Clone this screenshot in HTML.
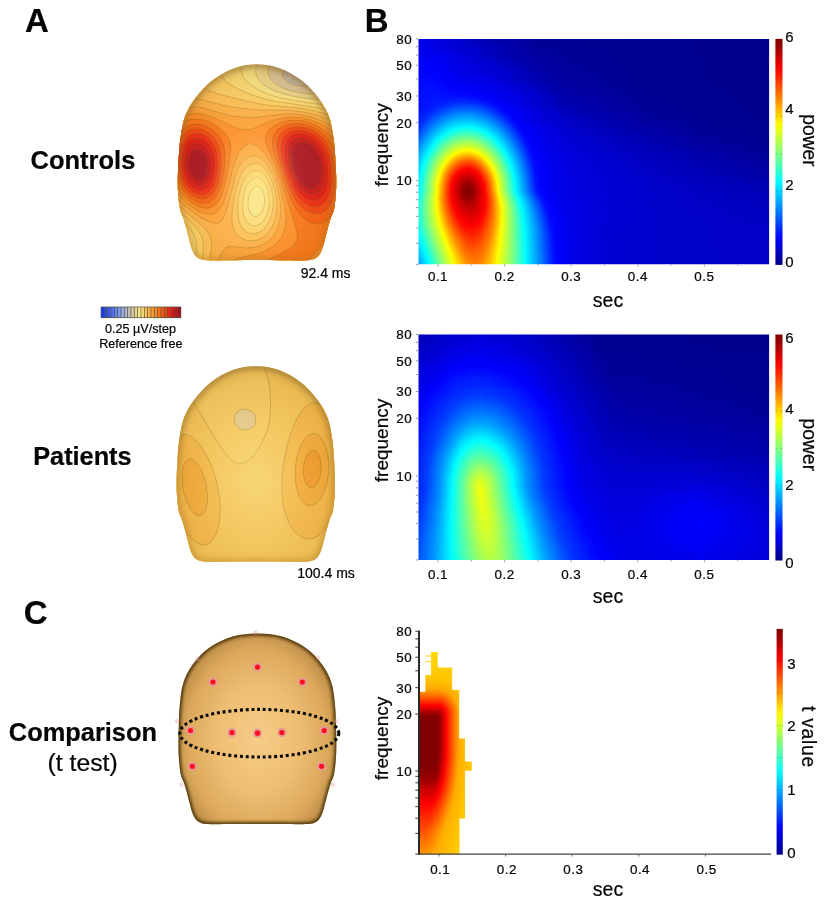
<!DOCTYPE html>
<html><head><meta charset="utf-8"><title>Figure</title>
<style>html,body{margin:0;padding:0;background:#fff}svg{display:block}text{font-family:"Liberation Sans", Arial, sans-serif;fill:#050505;stroke:#050505;stroke-width:0.22px}</style>
</head><body>
<svg width="827" height="906" viewBox="0 0 827 906">
<defs>
<filter id="jet" x="0" y="0" width="100%" height="100%" filterUnits="objectBoundingBox" color-interpolation-filters="sRGB"><feGaussianBlur stdDeviation="0 2.2"/><feComponentTransfer><feFuncR type="table" tableValues="0 0 0 0 0 0 0 0 0 0 0 0 0 0 0 0 0 0 0 0 0 0 0 0 0 0.0625 0.125 0.188 0.25 0.312 0.375 0.438 0.5 0.562 0.625 0.688 0.75 0.812 0.875 0.938 1 1 1 1 1 1 1 1 1 1 1 1 1 1 1 1 1 0.938 0.875 0.812 0.75 0.688 0.625 0.562 0.5"/><feFuncG type="table" tableValues="0 0 0 0 0 0 0 0 0 0.0625 0.125 0.188 0.25 0.312 0.375 0.438 0.5 0.562 0.625 0.688 0.75 0.812 0.875 0.938 1 1 1 1 1 1 1 1 1 1 1 1 1 1 1 1 1 0.938 0.875 0.812 0.75 0.688 0.625 0.562 0.5 0.438 0.375 0.312 0.25 0.188 0.125 0.0625 0 0 0 0 0 0 0 0 0"/><feFuncB type="table" tableValues="0.5 0.562 0.625 0.688 0.75 0.812 0.875 0.938 1 1 1 1 1 1 1 1 1 1 1 1 1 1 1 1 1 0.938 0.875 0.812 0.75 0.688 0.625 0.562 0.5 0.438 0.375 0.312 0.25 0.188 0.125 0.0625 0 0 0 0 0 0 0 0 0 0 0 0 0 0 0 0 0 0 0 0 0 0 0 0 0"/><feFuncA type="linear" slope="0" intercept="1"/></feComponentTransfer></filter>
<linearGradient id="cb" x1="0" y1="1" x2="0" y2="0"><stop offset="0.0000" stop-color="#000088"/><stop offset="0.0312" stop-color="#0000a8"/><stop offset="0.0625" stop-color="#0000c7"/><stop offset="0.0938" stop-color="#0000e7"/><stop offset="0.1250" stop-color="#0008ff"/><stop offset="0.1562" stop-color="#0028ff"/><stop offset="0.1875" stop-color="#0048ff"/><stop offset="0.2188" stop-color="#0068ff"/><stop offset="0.2500" stop-color="#0088ff"/><stop offset="0.2812" stop-color="#00a8ff"/><stop offset="0.3125" stop-color="#00c7ff"/><stop offset="0.3438" stop-color="#00e7ff"/><stop offset="0.3750" stop-color="#08fff7"/><stop offset="0.4062" stop-color="#28ffd7"/><stop offset="0.4375" stop-color="#48ffb7"/><stop offset="0.4688" stop-color="#68ff97"/><stop offset="0.5000" stop-color="#88ff77"/><stop offset="0.5312" stop-color="#a8ff57"/><stop offset="0.5625" stop-color="#c7ff38"/><stop offset="0.5938" stop-color="#e7ff18"/><stop offset="0.6250" stop-color="#fff700"/><stop offset="0.6562" stop-color="#ffd700"/><stop offset="0.6875" stop-color="#ffb700"/><stop offset="0.7188" stop-color="#ff9700"/><stop offset="0.7500" stop-color="#ff7700"/><stop offset="0.7812" stop-color="#ff5700"/><stop offset="0.8125" stop-color="#ff3800"/><stop offset="0.8438" stop-color="#ff1800"/><stop offset="0.8750" stop-color="#f70000"/><stop offset="0.9062" stop-color="#d70000"/><stop offset="0.9375" stop-color="#b70000"/><stop offset="0.9688" stop-color="#970000"/><stop offset="1.0000" stop-color="#800000"/></linearGradient>
<filter id="b3" x="-10%" y="-10%" width="120%" height="120%"><feGaussianBlur stdDeviation="2.5"/></filter>
<filter id="b2" x="-10%" y="-10%" width="120%" height="120%"><feGaussianBlur stdDeviation="1.8"/></filter>
<filter id="b1" x="-20%" y="-20%" width="140%" height="140%"><feGaussianBlur stdDeviation="0.7"/></filter>
<radialGradient id="shade1" gradientUnits="userSpaceOnUse" cx="257.0" cy="179.6" r="125" gradientTransform="translate(257.0 179.6) scale(0.80 1) translate(-257.0 -179.6)"><stop offset="0" stop-color="#fff3a0" stop-opacity="0.40"/><stop offset="0.45" stop-color="#ffe9a0" stop-opacity="0.10"/><stop offset="0.8" stop-color="#b07820" stop-opacity="0.12"/><stop offset="1" stop-color="#8a5a10" stop-opacity="0.38"/></radialGradient>
<linearGradient id="rim1" x1="0" y1="0" x2="0" y2="1"><stop offset="0" stop-color="#8a6a30" stop-opacity="0.55"/><stop offset="1" stop-color="#b07820" stop-opacity="0.35"/></linearGradient>
<radialGradient id="shade2" gradientUnits="userSpaceOnUse" cx="255.8" cy="481.2" r="125" gradientTransform="translate(255.8 481.2) scale(0.80 1) translate(-255.8 -481.2)"><stop offset="0" stop-color="#fff3a0" stop-opacity="0.40"/><stop offset="0.45" stop-color="#ffe9a0" stop-opacity="0.10"/><stop offset="0.8" stop-color="#b07820" stop-opacity="0.12"/><stop offset="1" stop-color="#8a5a10" stop-opacity="0.38"/></radialGradient>
<linearGradient id="rim2" x1="0" y1="0" x2="0" y2="1"><stop offset="0" stop-color="#8a6a30" stop-opacity="0.55"/><stop offset="1" stop-color="#b07820" stop-opacity="0.35"/></linearGradient>
<clipPath id="hd1"><path d="M257.0 64.6C264.5 64.6 271.9 65.5 279.4 68.2C286.9 70.9 295.3 75.6 301.8 80.6C308.3 85.6 314.0 92.1 318.5 98.1C323.0 104.1 326.5 109.9 329.0 116.6C331.5 123.3 332.4 131.1 333.5 138.1C334.6 145.1 334.9 151.8 335.3 158.6C335.8 165.3 336.1 172.6 336.2 178.6C336.3 184.6 336.2 189.4 335.8 194.6C335.4 199.8 334.8 205.8 334.0 209.6C333.2 213.4 332.0 214.6 331.0 217.6C330.0 220.6 328.9 224.3 328.0 227.6C327.1 230.9 326.4 233.9 325.4 237.6C324.4 241.3 323.4 246.3 322.0 249.6C320.6 252.9 319.5 255.4 317.0 257.2C314.5 259.0 312.8 259.7 307.0 260.2C301.2 260.7 290.3 260.2 282.0 260.2C273.7 260.2 265.3 260.0 257.0 260.0C248.7 260.0 240.3 260.2 232.0 260.2C223.7 260.2 212.8 260.7 207.0 260.2C201.2 259.7 199.5 259.0 197.0 257.2C194.5 255.4 193.4 252.9 192.0 249.6C190.6 246.3 189.6 241.3 188.6 237.6C187.6 233.9 186.9 230.9 186.0 227.6C185.1 224.3 184.0 220.6 183.0 217.6C182.0 214.6 180.8 213.4 180.0 209.6C179.2 205.8 178.6 199.8 178.2 194.6C177.8 189.4 177.7 184.6 177.8 178.6C177.9 172.6 178.2 165.3 178.7 158.6C179.1 151.8 179.4 145.1 180.5 138.1C181.6 131.1 182.5 123.3 185.0 116.6C187.5 109.9 191.0 104.1 195.5 98.1C200.0 92.1 205.7 85.6 212.2 80.6C218.7 75.6 227.1 70.9 234.6 68.2C242.1 65.5 249.5 64.6 257.0 64.6Z"/></clipPath>
<clipPath id="hd2"><path d="M255.8 366.2C263.3 366.2 270.7 367.1 278.2 369.8C285.7 372.5 294.1 377.2 300.6 382.2C307.1 387.2 312.8 393.7 317.3 399.7C321.8 405.7 325.3 411.5 327.8 418.2C330.3 424.9 331.2 432.7 332.3 439.7C333.4 446.7 333.7 453.4 334.1 460.2C334.6 466.9 334.9 474.2 335.0 480.2C335.1 486.2 335.0 491.0 334.6 496.2C334.2 501.4 333.6 507.4 332.8 511.2C332.0 515.0 330.8 516.2 329.8 519.2C328.8 522.2 327.7 525.9 326.8 529.2C325.9 532.5 325.2 535.5 324.2 539.2C323.2 542.9 322.2 547.9 320.8 551.2C319.4 554.5 318.3 557.0 315.8 558.8C313.3 560.6 311.6 561.3 305.8 561.8C300.0 562.3 289.1 561.8 280.8 561.8C272.5 561.8 264.1 561.6 255.8 561.6C247.5 561.6 239.1 561.8 230.8 561.8C222.5 561.8 211.6 562.3 205.8 561.8C200.0 561.3 198.3 560.6 195.8 558.8C193.3 557.0 192.2 554.5 190.8 551.2C189.4 547.9 188.4 542.9 187.4 539.2C186.4 535.5 185.7 532.5 184.8 529.2C183.9 525.9 182.8 522.2 181.8 519.2C180.8 516.2 179.6 515.0 178.8 511.2C178.0 507.4 177.4 501.4 177.0 496.2C176.6 491.0 176.5 486.2 176.6 480.2C176.7 474.2 177.1 466.9 177.5 460.2C177.9 453.4 178.2 446.7 179.3 439.7C180.4 432.7 181.3 424.9 183.8 418.2C186.3 411.5 189.8 405.7 194.3 399.7C198.8 393.7 204.5 387.2 211.0 382.2C217.5 377.2 225.9 372.5 233.4 369.8C240.9 367.1 248.3 366.2 255.8 366.2Z"/></clipPath>
<radialGradient id="shade3" gradientUnits="userSpaceOnUse" cx="257.4" cy="739.4" r="120" gradientTransform="translate(257.4 739.4) scale(0.78 1) translate(-257.4 -739.4)"><stop offset="0" stop-color="#f7cd88"/><stop offset="0.45" stop-color="#eebd72"/><stop offset="0.75" stop-color="#dca95c"/><stop offset="0.92" stop-color="#bd8c46"/><stop offset="1" stop-color="#8e662c"/></radialGradient>
<clipPath id="hd3"><path d="M257.4 633.4C265.4 633.4 273.3 634.0 281.3 636.3C289.2 638.7 298.4 642.8 305.2 647.5C312.0 652.2 317.7 658.7 322.1 664.6C326.5 670.5 329.4 676.4 331.5 683.1C333.7 689.9 334.3 698.1 335.0 705.1C335.8 712.0 335.8 718.5 336.0 725.0C336.2 731.6 336.4 738.7 336.4 744.5C336.4 750.4 336.2 755.1 335.8 760.1C335.4 765.2 334.8 771.0 334.0 774.8C333.2 778.5 332.0 779.6 331.0 782.6C330.0 785.5 329.0 789.1 328.0 792.3C327.1 795.6 326.5 798.5 325.5 802.1C324.5 805.6 323.5 810.6 322.1 813.8C320.7 817.0 319.6 819.5 317.1 821.2C314.6 822.9 313.0 823.6 307.1 824.1C301.3 824.6 290.6 824.1 282.3 824.1C274.0 824.1 265.7 823.9 257.4 823.9C249.1 823.9 240.8 824.1 232.5 824.1C224.2 824.1 213.5 824.6 207.6 824.1C201.8 823.6 200.2 822.9 197.7 821.2C195.2 819.5 194.1 817.0 192.7 813.8C191.3 810.6 190.3 805.6 189.3 802.1C188.3 798.5 187.7 795.6 186.8 792.3C185.8 789.1 184.8 785.5 183.8 782.6C182.8 779.6 181.6 778.5 180.8 774.8C180.0 771.0 179.4 765.2 179.0 760.1C178.6 755.1 178.4 750.4 178.4 744.5C178.4 738.7 178.6 731.6 178.8 725.0C179.0 718.5 179.0 712.0 179.8 705.1C180.5 698.1 181.1 689.9 183.3 683.1C185.4 676.4 188.3 670.5 192.7 664.6C197.1 658.7 202.8 652.2 209.6 647.5C216.4 642.8 225.6 638.7 233.5 636.3C241.5 634.0 249.4 633.4 257.4 633.4Z"/></clipPath>
<clipPath id="hc0"><rect x="418.5" y="38.9" width="350.6" height="225.4"/></clipPath>
<linearGradient id="h0_0" gradientUnits="userSpaceOnUse" x1="415.5" x2="769.5"><stop offset="0.000" stop-color="#181818"/><stop offset="0.059" stop-color="#171717"/><stop offset="0.203" stop-color="#0a0a0a"/><stop offset="0.314" stop-color="#060606"/><stop offset="0.568" stop-color="#040404"/><stop offset="1.000" stop-color="#040404"/></linearGradient>
<linearGradient id="h0_1" gradientUnits="userSpaceOnUse" x1="415.5" x2="769.5"><stop offset="0.000" stop-color="#191919"/><stop offset="0.059" stop-color="#181818"/><stop offset="0.220" stop-color="#0b0b0b"/><stop offset="0.331" stop-color="#060606"/><stop offset="0.585" stop-color="#040404"/><stop offset="1.000" stop-color="#040404"/></linearGradient>
<linearGradient id="h0_2" gradientUnits="userSpaceOnUse" x1="415.5" x2="769.5"><stop offset="0.000" stop-color="#1a1a1a"/><stop offset="0.059" stop-color="#191919"/><stop offset="0.237" stop-color="#0b0b0b"/><stop offset="0.347" stop-color="#060606"/><stop offset="0.593" stop-color="#050505"/><stop offset="1.000" stop-color="#040404"/></linearGradient>
<linearGradient id="h0_3" gradientUnits="userSpaceOnUse" x1="415.5" x2="769.5"><stop offset="0.000" stop-color="#1b1b1b"/><stop offset="0.025" stop-color="#1b1b1b"/><stop offset="0.059" stop-color="#1a1a1a"/><stop offset="0.263" stop-color="#0b0b0b"/><stop offset="0.364" stop-color="#060606"/><stop offset="0.602" stop-color="#050505"/><stop offset="1.000" stop-color="#040404"/></linearGradient>
<linearGradient id="h0_4" gradientUnits="userSpaceOnUse" x1="415.5" x2="769.5"><stop offset="0.000" stop-color="#1c1c1c"/><stop offset="0.025" stop-color="#1c1c1c"/><stop offset="0.059" stop-color="#1b1b1b"/><stop offset="0.280" stop-color="#0b0b0b"/><stop offset="0.373" stop-color="#070707"/><stop offset="0.610" stop-color="#050505"/><stop offset="1.000" stop-color="#040404"/></linearGradient>
<linearGradient id="h0_5" gradientUnits="userSpaceOnUse" x1="415.5" x2="769.5"><stop offset="0.000" stop-color="#1d1d1d"/><stop offset="0.025" stop-color="#1d1d1d"/><stop offset="0.059" stop-color="#1d1d1d"/><stop offset="0.305" stop-color="#0a0a0a"/><stop offset="0.390" stop-color="#070707"/><stop offset="0.619" stop-color="#050505"/><stop offset="1.000" stop-color="#040404"/></linearGradient>
<linearGradient id="h0_6" gradientUnits="userSpaceOnUse" x1="415.5" x2="769.5"><stop offset="0.000" stop-color="#1e1e1e"/><stop offset="0.025" stop-color="#1f1f1f"/><stop offset="0.059" stop-color="#1e1e1e"/><stop offset="0.229" stop-color="#121212"/><stop offset="0.322" stop-color="#0a0a0a"/><stop offset="0.407" stop-color="#070707"/><stop offset="0.636" stop-color="#050505"/><stop offset="1.000" stop-color="#040404"/></linearGradient>
<linearGradient id="h0_7" gradientUnits="userSpaceOnUse" x1="415.5" x2="769.5"><stop offset="0.000" stop-color="#1e1e1e"/><stop offset="0.025" stop-color="#202020"/><stop offset="0.059" stop-color="#1f1f1f"/><stop offset="0.127" stop-color="#191919"/><stop offset="0.237" stop-color="#131313"/><stop offset="0.339" stop-color="#0a0a0a"/><stop offset="0.415" stop-color="#070707"/><stop offset="0.644" stop-color="#050505"/><stop offset="1.000" stop-color="#040404"/></linearGradient>
<linearGradient id="h0_8" gradientUnits="userSpaceOnUse" x1="415.5" x2="769.5"><stop offset="0.000" stop-color="#1f1f1f"/><stop offset="0.025" stop-color="#202020"/><stop offset="0.059" stop-color="#202020"/><stop offset="0.127" stop-color="#1a1a1a"/><stop offset="0.246" stop-color="#141414"/><stop offset="0.356" stop-color="#0a0a0a"/><stop offset="0.424" stop-color="#070707"/><stop offset="0.644" stop-color="#050505"/><stop offset="1.000" stop-color="#040404"/></linearGradient>
<linearGradient id="h0_9" gradientUnits="userSpaceOnUse" x1="415.5" x2="769.5"><stop offset="0.000" stop-color="#202020"/><stop offset="0.025" stop-color="#212121"/><stop offset="0.051" stop-color="#212121"/><stop offset="0.127" stop-color="#1c1c1c"/><stop offset="0.220" stop-color="#171717"/><stop offset="0.364" stop-color="#0b0b0b"/><stop offset="0.424" stop-color="#080808"/><stop offset="0.644" stop-color="#050505"/><stop offset="1.000" stop-color="#040404"/></linearGradient>
<linearGradient id="h0_10" gradientUnits="userSpaceOnUse" x1="415.5" x2="769.5"><stop offset="0.000" stop-color="#212121"/><stop offset="0.025" stop-color="#222222"/><stop offset="0.051" stop-color="#222222"/><stop offset="0.127" stop-color="#1d1d1d"/><stop offset="0.229" stop-color="#181818"/><stop offset="0.373" stop-color="#0b0b0b"/><stop offset="0.432" stop-color="#080808"/><stop offset="0.653" stop-color="#050505"/><stop offset="1.000" stop-color="#040404"/></linearGradient>
<linearGradient id="h0_11" gradientUnits="userSpaceOnUse" x1="415.5" x2="769.5"><stop offset="0.000" stop-color="#212121"/><stop offset="0.025" stop-color="#232323"/><stop offset="0.051" stop-color="#232323"/><stop offset="0.229" stop-color="#1a1a1a"/><stop offset="0.280" stop-color="#161616"/><stop offset="0.390" stop-color="#0b0b0b"/><stop offset="0.441" stop-color="#080808"/><stop offset="0.653" stop-color="#050505"/><stop offset="1.000" stop-color="#040404"/></linearGradient>
<linearGradient id="h0_12" gradientUnits="userSpaceOnUse" x1="415.5" x2="769.5"><stop offset="0.000" stop-color="#222222"/><stop offset="0.042" stop-color="#242424"/><stop offset="0.186" stop-color="#1e1e1e"/><stop offset="0.280" stop-color="#181818"/><stop offset="0.407" stop-color="#0b0b0b"/><stop offset="0.458" stop-color="#090909"/><stop offset="0.669" stop-color="#050505"/><stop offset="1.000" stop-color="#040404"/></linearGradient>
<linearGradient id="h0_13" gradientUnits="userSpaceOnUse" x1="415.5" x2="769.5"><stop offset="0.000" stop-color="#222222"/><stop offset="0.051" stop-color="#252525"/><stop offset="0.178" stop-color="#212121"/><stop offset="0.297" stop-color="#181818"/><stop offset="0.424" stop-color="#0b0b0b"/><stop offset="0.483" stop-color="#090909"/><stop offset="0.678" stop-color="#050505"/><stop offset="1.000" stop-color="#040404"/></linearGradient>
<linearGradient id="h0_14" gradientUnits="userSpaceOnUse" x1="415.5" x2="769.5"><stop offset="0.000" stop-color="#232323"/><stop offset="0.034" stop-color="#252525"/><stop offset="0.085" stop-color="#262626"/><stop offset="0.119" stop-color="#292929"/><stop offset="0.144" stop-color="#292929"/><stop offset="0.169" stop-color="#272727"/><stop offset="0.203" stop-color="#222222"/><stop offset="0.415" stop-color="#0d0d0d"/><stop offset="0.449" stop-color="#0b0b0b"/><stop offset="0.661" stop-color="#060606"/><stop offset="1.000" stop-color="#040404"/></linearGradient>
<linearGradient id="h0_15" gradientUnits="userSpaceOnUse" x1="415.5" x2="769.5"><stop offset="0.000" stop-color="#232323"/><stop offset="0.059" stop-color="#272727"/><stop offset="0.110" stop-color="#313131"/><stop offset="0.144" stop-color="#333333"/><stop offset="0.178" stop-color="#303030"/><stop offset="0.229" stop-color="#222222"/><stop offset="0.288" stop-color="#1b1b1b"/><stop offset="0.432" stop-color="#0d0d0d"/><stop offset="0.542" stop-color="#090909"/><stop offset="0.661" stop-color="#060606"/><stop offset="1.000" stop-color="#040404"/></linearGradient>
<linearGradient id="h0_16" gradientUnits="userSpaceOnUse" x1="415.5" x2="769.5"><stop offset="0.000" stop-color="#242424"/><stop offset="0.042" stop-color="#282828"/><stop offset="0.085" stop-color="#353535"/><stop offset="0.110" stop-color="#3b3b3b"/><stop offset="0.136" stop-color="#3d3d3d"/><stop offset="0.153" stop-color="#3d3d3d"/><stop offset="0.169" stop-color="#3c3c3c"/><stop offset="0.195" stop-color="#363636"/><stop offset="0.212" stop-color="#303030"/><stop offset="0.246" stop-color="#222222"/><stop offset="0.297" stop-color="#1c1c1c"/><stop offset="0.424" stop-color="#0f0f0f"/><stop offset="0.542" stop-color="#0a0a0a"/><stop offset="0.661" stop-color="#060606"/><stop offset="1.000" stop-color="#040404"/></linearGradient>
<linearGradient id="h0_17" gradientUnits="userSpaceOnUse" x1="415.5" x2="769.5"><stop offset="0.000" stop-color="#252525"/><stop offset="0.025" stop-color="#282828"/><stop offset="0.076" stop-color="#3b3b3b"/><stop offset="0.102" stop-color="#434343"/><stop offset="0.127" stop-color="#474747"/><stop offset="0.153" stop-color="#484848"/><stop offset="0.178" stop-color="#444444"/><stop offset="0.203" stop-color="#3d3d3d"/><stop offset="0.229" stop-color="#323232"/><stop offset="0.263" stop-color="#222222"/><stop offset="0.305" stop-color="#1c1c1c"/><stop offset="0.424" stop-color="#111111"/><stop offset="0.551" stop-color="#0b0b0b"/><stop offset="0.669" stop-color="#070707"/><stop offset="0.805" stop-color="#050505"/><stop offset="1.000" stop-color="#040404"/></linearGradient>
<linearGradient id="h0_18" gradientUnits="userSpaceOnUse" x1="415.5" x2="769.5"><stop offset="0.000" stop-color="#252525"/><stop offset="0.017" stop-color="#292929"/><stop offset="0.068" stop-color="#414141"/><stop offset="0.093" stop-color="#4a4a4a"/><stop offset="0.110" stop-color="#4f4f4f"/><stop offset="0.127" stop-color="#525252"/><stop offset="0.153" stop-color="#525252"/><stop offset="0.178" stop-color="#4f4f4f"/><stop offset="0.203" stop-color="#474747"/><stop offset="0.229" stop-color="#3c3c3c"/><stop offset="0.271" stop-color="#242424"/><stop offset="0.280" stop-color="#222222"/><stop offset="0.314" stop-color="#1c1c1c"/><stop offset="0.364" stop-color="#171717"/><stop offset="0.441" stop-color="#111111"/><stop offset="0.644" stop-color="#080808"/><stop offset="0.788" stop-color="#060606"/><stop offset="1.000" stop-color="#040404"/></linearGradient>
<linearGradient id="h0_19" gradientUnits="userSpaceOnUse" x1="415.5" x2="769.5"><stop offset="0.000" stop-color="#262626"/><stop offset="0.008" stop-color="#2a2a2a"/><stop offset="0.059" stop-color="#464646"/><stop offset="0.093" stop-color="#545454"/><stop offset="0.110" stop-color="#595959"/><stop offset="0.127" stop-color="#5c5c5c"/><stop offset="0.153" stop-color="#5d5d5d"/><stop offset="0.178" stop-color="#595959"/><stop offset="0.195" stop-color="#545454"/><stop offset="0.212" stop-color="#4d4d4d"/><stop offset="0.237" stop-color="#404040"/><stop offset="0.280" stop-color="#262626"/><stop offset="0.288" stop-color="#222222"/><stop offset="0.331" stop-color="#1c1c1c"/><stop offset="0.432" stop-color="#131313"/><stop offset="0.636" stop-color="#0a0a0a"/><stop offset="0.788" stop-color="#060606"/><stop offset="1.000" stop-color="#040404"/></linearGradient>
<linearGradient id="h0_20" gradientUnits="userSpaceOnUse" x1="415.5" x2="769.5"><stop offset="0.000" stop-color="#2a2a2a"/><stop offset="0.051" stop-color="#4a4a4a"/><stop offset="0.085" stop-color="#5b5b5b"/><stop offset="0.119" stop-color="#676767"/><stop offset="0.136" stop-color="#6a6a6a"/><stop offset="0.153" stop-color="#6a6a6a"/><stop offset="0.178" stop-color="#656565"/><stop offset="0.212" stop-color="#575757"/><stop offset="0.237" stop-color="#494949"/><stop offset="0.288" stop-color="#272727"/><stop offset="0.297" stop-color="#222222"/><stop offset="0.331" stop-color="#1d1d1d"/><stop offset="0.432" stop-color="#141414"/><stop offset="0.653" stop-color="#0a0a0a"/><stop offset="0.805" stop-color="#060606"/><stop offset="1.000" stop-color="#050505"/></linearGradient>
<linearGradient id="h0_21" gradientUnits="userSpaceOnUse" x1="415.5" x2="769.5"><stop offset="0.000" stop-color="#2f2f2f"/><stop offset="0.051" stop-color="#525252"/><stop offset="0.102" stop-color="#6e6e6e"/><stop offset="0.127" stop-color="#777777"/><stop offset="0.144" stop-color="#787878"/><stop offset="0.153" stop-color="#787878"/><stop offset="0.169" stop-color="#757575"/><stop offset="0.195" stop-color="#6b6b6b"/><stop offset="0.237" stop-color="#525252"/><stop offset="0.297" stop-color="#272727"/><stop offset="0.305" stop-color="#222222"/><stop offset="0.339" stop-color="#1d1d1d"/><stop offset="0.432" stop-color="#151515"/><stop offset="0.678" stop-color="#0b0b0b"/><stop offset="0.822" stop-color="#070707"/><stop offset="1.000" stop-color="#050505"/></linearGradient>
<linearGradient id="h0_22" gradientUnits="userSpaceOnUse" x1="415.5" x2="769.5"><stop offset="0.000" stop-color="#353535"/><stop offset="0.076" stop-color="#6b6b6b"/><stop offset="0.102" stop-color="#7b7b7b"/><stop offset="0.127" stop-color="#848484"/><stop offset="0.144" stop-color="#868686"/><stop offset="0.153" stop-color="#868686"/><stop offset="0.161" stop-color="#858585"/><stop offset="0.178" stop-color="#808080"/><stop offset="0.203" stop-color="#727272"/><stop offset="0.254" stop-color="#4e4e4e"/><stop offset="0.305" stop-color="#272727"/><stop offset="0.314" stop-color="#222222"/><stop offset="0.339" stop-color="#1e1e1e"/><stop offset="0.381" stop-color="#191919"/><stop offset="0.432" stop-color="#161616"/><stop offset="0.678" stop-color="#0c0c0c"/><stop offset="0.831" stop-color="#070707"/><stop offset="1.000" stop-color="#050505"/></linearGradient>
<linearGradient id="h0_23" gradientUnits="userSpaceOnUse" x1="415.5" x2="769.5"><stop offset="0.000" stop-color="#3a3a3a"/><stop offset="0.051" stop-color="#616161"/><stop offset="0.076" stop-color="#777777"/><stop offset="0.093" stop-color="#828282"/><stop offset="0.110" stop-color="#8c8c8c"/><stop offset="0.127" stop-color="#929292"/><stop offset="0.144" stop-color="#949494"/><stop offset="0.153" stop-color="#949494"/><stop offset="0.161" stop-color="#929292"/><stop offset="0.178" stop-color="#8d8d8d"/><stop offset="0.203" stop-color="#7e7e7e"/><stop offset="0.314" stop-color="#252525"/><stop offset="0.322" stop-color="#222222"/><stop offset="0.347" stop-color="#1d1d1d"/><stop offset="0.398" stop-color="#191919"/><stop offset="0.483" stop-color="#141414"/><stop offset="0.797" stop-color="#090909"/><stop offset="1.000" stop-color="#050505"/></linearGradient>
<linearGradient id="h0_24" gradientUnits="userSpaceOnUse" x1="415.5" x2="769.5"><stop offset="0.000" stop-color="#3f3f3f"/><stop offset="0.042" stop-color="#626262"/><stop offset="0.076" stop-color="#818181"/><stop offset="0.093" stop-color="#8e8e8e"/><stop offset="0.110" stop-color="#989898"/><stop offset="0.127" stop-color="#9f9f9f"/><stop offset="0.144" stop-color="#a3a3a3"/><stop offset="0.153" stop-color="#a2a2a2"/><stop offset="0.178" stop-color="#9a9a9a"/><stop offset="0.195" stop-color="#909090"/><stop offset="0.220" stop-color="#7c7c7c"/><stop offset="0.254" stop-color="#5c5c5c"/><stop offset="0.314" stop-color="#2a2a2a"/><stop offset="0.322" stop-color="#232323"/><stop offset="0.339" stop-color="#202020"/><stop offset="0.356" stop-color="#1d1d1d"/><stop offset="0.390" stop-color="#1a1a1a"/><stop offset="0.458" stop-color="#161616"/><stop offset="0.822" stop-color="#0a0a0a"/><stop offset="1.000" stop-color="#060606"/></linearGradient>
<linearGradient id="h0_25" gradientUnits="userSpaceOnUse" x1="415.5" x2="769.5"><stop offset="0.000" stop-color="#444444"/><stop offset="0.034" stop-color="#616161"/><stop offset="0.059" stop-color="#7b7b7b"/><stop offset="0.076" stop-color="#8b8b8b"/><stop offset="0.110" stop-color="#a7a7a7"/><stop offset="0.127" stop-color="#b2b2b2"/><stop offset="0.136" stop-color="#b5b5b5"/><stop offset="0.144" stop-color="#b7b7b7"/><stop offset="0.153" stop-color="#b6b6b6"/><stop offset="0.161" stop-color="#b4b4b4"/><stop offset="0.169" stop-color="#b0b0b0"/><stop offset="0.178" stop-color="#aaaaaa"/><stop offset="0.203" stop-color="#969696"/><stop offset="0.229" stop-color="#7e7e7e"/><stop offset="0.263" stop-color="#5b5b5b"/><stop offset="0.314" stop-color="#2e2e2e"/><stop offset="0.322" stop-color="#272727"/><stop offset="0.331" stop-color="#222222"/><stop offset="0.373" stop-color="#1c1c1c"/><stop offset="0.449" stop-color="#171717"/><stop offset="0.856" stop-color="#0a0a0a"/><stop offset="1.000" stop-color="#060606"/></linearGradient>
<linearGradient id="h0_26" gradientUnits="userSpaceOnUse" x1="415.5" x2="769.5"><stop offset="0.000" stop-color="#484848"/><stop offset="0.025" stop-color="#5f5f5f"/><stop offset="0.059" stop-color="#848484"/><stop offset="0.085" stop-color="#9d9d9d"/><stop offset="0.110" stop-color="#b8b8b8"/><stop offset="0.119" stop-color="#bfbfbf"/><stop offset="0.127" stop-color="#c4c4c4"/><stop offset="0.136" stop-color="#c7c7c7"/><stop offset="0.144" stop-color="#c8c8c8"/><stop offset="0.153" stop-color="#c8c8c8"/><stop offset="0.161" stop-color="#c6c6c6"/><stop offset="0.169" stop-color="#c2c2c2"/><stop offset="0.178" stop-color="#bcbcbc"/><stop offset="0.186" stop-color="#b4b4b4"/><stop offset="0.203" stop-color="#a1a1a1"/><stop offset="0.229" stop-color="#878787"/><stop offset="0.263" stop-color="#616161"/><stop offset="0.322" stop-color="#2b2b2b"/><stop offset="0.331" stop-color="#242424"/><stop offset="0.339" stop-color="#222222"/><stop offset="0.364" stop-color="#1d1d1d"/><stop offset="0.381" stop-color="#1b1b1b"/><stop offset="0.449" stop-color="#171717"/><stop offset="1.000" stop-color="#070707"/></linearGradient>
<linearGradient id="h0_27" gradientUnits="userSpaceOnUse" x1="415.5" x2="769.5"><stop offset="0.000" stop-color="#4b4b4b"/><stop offset="0.025" stop-color="#646464"/><stop offset="0.051" stop-color="#828282"/><stop offset="0.076" stop-color="#9d9d9d"/><stop offset="0.102" stop-color="#bfbfbf"/><stop offset="0.110" stop-color="#c7c7c7"/><stop offset="0.127" stop-color="#d3d3d3"/><stop offset="0.136" stop-color="#d7d7d7"/><stop offset="0.144" stop-color="#d8d8d8"/><stop offset="0.153" stop-color="#d8d8d8"/><stop offset="0.161" stop-color="#d6d6d6"/><stop offset="0.169" stop-color="#d1d1d1"/><stop offset="0.186" stop-color="#c4c4c4"/><stop offset="0.195" stop-color="#bababa"/><stop offset="0.212" stop-color="#a3a3a3"/><stop offset="0.271" stop-color="#5e5e5e"/><stop offset="0.322" stop-color="#2e2e2e"/><stop offset="0.331" stop-color="#272727"/><stop offset="0.339" stop-color="#222222"/><stop offset="0.373" stop-color="#1d1d1d"/><stop offset="0.449" stop-color="#171717"/><stop offset="1.000" stop-color="#080808"/></linearGradient>
<linearGradient id="h0_28" gradientUnits="userSpaceOnUse" x1="415.5" x2="769.5"><stop offset="0.000" stop-color="#4e4e4e"/><stop offset="0.017" stop-color="#5f5f5f"/><stop offset="0.068" stop-color="#9b9b9b"/><stop offset="0.093" stop-color="#c1c1c1"/><stop offset="0.110" stop-color="#d3d3d3"/><stop offset="0.119" stop-color="#dbdbdb"/><stop offset="0.127" stop-color="#e0e0e0"/><stop offset="0.144" stop-color="#e3e3e3"/><stop offset="0.153" stop-color="#e3e3e3"/><stop offset="0.169" stop-color="#dfdfdf"/><stop offset="0.178" stop-color="#d9d9d9"/><stop offset="0.186" stop-color="#d0d0d0"/><stop offset="0.203" stop-color="#bcbcbc"/><stop offset="0.220" stop-color="#a1a1a1"/><stop offset="0.271" stop-color="#636363"/><stop offset="0.322" stop-color="#313131"/><stop offset="0.339" stop-color="#232323"/><stop offset="0.381" stop-color="#1c1c1c"/><stop offset="0.458" stop-color="#171717"/><stop offset="1.000" stop-color="#090909"/></linearGradient>
<linearGradient id="h0_29" gradientUnits="userSpaceOnUse" x1="415.5" x2="769.5"><stop offset="0.000" stop-color="#515151"/><stop offset="0.017" stop-color="#616161"/><stop offset="0.068" stop-color="#a1a1a1"/><stop offset="0.085" stop-color="#bebebe"/><stop offset="0.102" stop-color="#d4d4d4"/><stop offset="0.110" stop-color="#dedede"/><stop offset="0.127" stop-color="#e7e7e7"/><stop offset="0.136" stop-color="#eaeaea"/><stop offset="0.144" stop-color="#ebebeb"/><stop offset="0.153" stop-color="#ebebeb"/><stop offset="0.169" stop-color="#e6e6e6"/><stop offset="0.178" stop-color="#e2e2e2"/><stop offset="0.186" stop-color="#dcdcdc"/><stop offset="0.203" stop-color="#c6c6c6"/><stop offset="0.212" stop-color="#b9b9b9"/><stop offset="0.229" stop-color="#9d9d9d"/><stop offset="0.280" stop-color="#5d5d5d"/><stop offset="0.331" stop-color="#2b2b2b"/><stop offset="0.339" stop-color="#242424"/><stop offset="0.347" stop-color="#222222"/><stop offset="0.373" stop-color="#1d1d1d"/><stop offset="0.390" stop-color="#1b1b1b"/><stop offset="0.466" stop-color="#171717"/><stop offset="1.000" stop-color="#0a0a0a"/></linearGradient>
<linearGradient id="h0_30" gradientUnits="userSpaceOnUse" x1="415.5" x2="769.5"><stop offset="0.000" stop-color="#525252"/><stop offset="0.017" stop-color="#646464"/><stop offset="0.059" stop-color="#9a9a9a"/><stop offset="0.068" stop-color="#a7a7a7"/><stop offset="0.085" stop-color="#c4c4c4"/><stop offset="0.102" stop-color="#dcdcdc"/><stop offset="0.110" stop-color="#e3e3e3"/><stop offset="0.136" stop-color="#f2f2f2"/><stop offset="0.144" stop-color="#f5f5f5"/><stop offset="0.153" stop-color="#f5f5f5"/><stop offset="0.161" stop-color="#f1f1f1"/><stop offset="0.178" stop-color="#e7e7e7"/><stop offset="0.186" stop-color="#e1e1e1"/><stop offset="0.195" stop-color="#d9d9d9"/><stop offset="0.212" stop-color="#c0c0c0"/><stop offset="0.229" stop-color="#a2a2a2"/><stop offset="0.280" stop-color="#5f5f5f"/><stop offset="0.331" stop-color="#2d2d2d"/><stop offset="0.339" stop-color="#252525"/><stop offset="0.347" stop-color="#222222"/><stop offset="0.373" stop-color="#1d1d1d"/><stop offset="0.390" stop-color="#1c1c1c"/><stop offset="0.466" stop-color="#171717"/><stop offset="1.000" stop-color="#0c0c0c"/></linearGradient>
<linearGradient id="h0_31" gradientUnits="userSpaceOnUse" x1="415.5" x2="769.5"><stop offset="0.000" stop-color="#535353"/><stop offset="0.017" stop-color="#656565"/><stop offset="0.059" stop-color="#9c9c9c"/><stop offset="0.085" stop-color="#c7c7c7"/><stop offset="0.102" stop-color="#dfdfdf"/><stop offset="0.119" stop-color="#ececec"/><stop offset="0.136" stop-color="#fafafa"/><stop offset="0.144" stop-color="#fcfcfc"/><stop offset="0.153" stop-color="#fcfcfc"/><stop offset="0.161" stop-color="#f9f9f9"/><stop offset="0.178" stop-color="#ebebeb"/><stop offset="0.195" stop-color="#dedede"/><stop offset="0.212" stop-color="#c4c4c4"/><stop offset="0.229" stop-color="#a6a6a6"/><stop offset="0.237" stop-color="#999999"/><stop offset="0.280" stop-color="#616161"/><stop offset="0.331" stop-color="#2e2e2e"/><stop offset="0.339" stop-color="#262626"/><stop offset="0.347" stop-color="#222222"/><stop offset="0.373" stop-color="#1e1e1e"/><stop offset="0.398" stop-color="#1b1b1b"/><stop offset="0.475" stop-color="#171717"/><stop offset="1.000" stop-color="#0d0d0d"/></linearGradient>
<linearGradient id="h0_32" gradientUnits="userSpaceOnUse" x1="415.5" x2="769.5"><stop offset="0.000" stop-color="#535353"/><stop offset="0.017" stop-color="#666666"/><stop offset="0.059" stop-color="#9c9c9c"/><stop offset="0.076" stop-color="#bababa"/><stop offset="0.085" stop-color="#c8c8c8"/><stop offset="0.093" stop-color="#d5d5d5"/><stop offset="0.102" stop-color="#e0e0e0"/><stop offset="0.119" stop-color="#ededed"/><stop offset="0.136" stop-color="#fcfcfc"/><stop offset="0.144" stop-color="#fefefe"/><stop offset="0.153" stop-color="#fefefe"/><stop offset="0.161" stop-color="#fcfcfc"/><stop offset="0.178" stop-color="#ececec"/><stop offset="0.195" stop-color="#dfdfdf"/><stop offset="0.212" stop-color="#c6c6c6"/><stop offset="0.229" stop-color="#a8a8a8"/><stop offset="0.237" stop-color="#9a9a9a"/><stop offset="0.280" stop-color="#626262"/><stop offset="0.331" stop-color="#2f2f2f"/><stop offset="0.339" stop-color="#282828"/><stop offset="0.347" stop-color="#232323"/><stop offset="0.373" stop-color="#1e1e1e"/><stop offset="0.390" stop-color="#1c1c1c"/><stop offset="0.475" stop-color="#171717"/><stop offset="0.619" stop-color="#141414"/><stop offset="1.000" stop-color="#0e0e0e"/></linearGradient>
<linearGradient id="h0_33" gradientUnits="userSpaceOnUse" x1="415.5" x2="769.5"><stop offset="0.000" stop-color="#585858"/><stop offset="0.008" stop-color="#606060"/><stop offset="0.059" stop-color="#9f9f9f"/><stop offset="0.076" stop-color="#bcbcbc"/><stop offset="0.093" stop-color="#d5d5d5"/><stop offset="0.102" stop-color="#dfdfdf"/><stop offset="0.119" stop-color="#ebebeb"/><stop offset="0.136" stop-color="#f9f9f9"/><stop offset="0.144" stop-color="#fcfcfc"/><stop offset="0.153" stop-color="#fcfcfc"/><stop offset="0.161" stop-color="#fbfbfb"/><stop offset="0.178" stop-color="#ededed"/><stop offset="0.195" stop-color="#e1e1e1"/><stop offset="0.203" stop-color="#d7d7d7"/><stop offset="0.220" stop-color="#bfbfbf"/><stop offset="0.237" stop-color="#a0a0a0"/><stop offset="0.288" stop-color="#606060"/><stop offset="0.339" stop-color="#303030"/><stop offset="0.347" stop-color="#282828"/><stop offset="0.356" stop-color="#232323"/><stop offset="0.381" stop-color="#1e1e1e"/><stop offset="0.407" stop-color="#1b1b1b"/><stop offset="0.492" stop-color="#171717"/><stop offset="0.636" stop-color="#141414"/><stop offset="1.000" stop-color="#0f0f0f"/></linearGradient>
<linearGradient id="h0_34" gradientUnits="userSpaceOnUse" x1="415.5" x2="769.5"><stop offset="0.000" stop-color="#5b5b5b"/><stop offset="0.008" stop-color="#636363"/><stop offset="0.059" stop-color="#9f9f9f"/><stop offset="0.076" stop-color="#bbbbbb"/><stop offset="0.102" stop-color="#dddddd"/><stop offset="0.136" stop-color="#f2f2f2"/><stop offset="0.144" stop-color="#f6f6f6"/><stop offset="0.153" stop-color="#f6f6f6"/><stop offset="0.161" stop-color="#f4f4f4"/><stop offset="0.195" stop-color="#e0e0e0"/><stop offset="0.203" stop-color="#d8d8d8"/><stop offset="0.220" stop-color="#c1c1c1"/><stop offset="0.237" stop-color="#a5a5a5"/><stop offset="0.246" stop-color="#999999"/><stop offset="0.288" stop-color="#666666"/><stop offset="0.297" stop-color="#5d5d5d"/><stop offset="0.339" stop-color="#363636"/><stop offset="0.356" stop-color="#272727"/><stop offset="0.364" stop-color="#232323"/><stop offset="0.390" stop-color="#1e1e1e"/><stop offset="0.415" stop-color="#1b1b1b"/><stop offset="0.508" stop-color="#161616"/><stop offset="0.661" stop-color="#131313"/><stop offset="1.000" stop-color="#101010"/></linearGradient>
<linearGradient id="h0_35" gradientUnits="userSpaceOnUse" x1="415.5" x2="769.5"><stop offset="0.000" stop-color="#5c5c5c"/><stop offset="0.008" stop-color="#656565"/><stop offset="0.059" stop-color="#9e9e9e"/><stop offset="0.085" stop-color="#c5c5c5"/><stop offset="0.102" stop-color="#d9d9d9"/><stop offset="0.110" stop-color="#e0e0e0"/><stop offset="0.127" stop-color="#e9e9e9"/><stop offset="0.144" stop-color="#efefef"/><stop offset="0.153" stop-color="#f0f0f0"/><stop offset="0.161" stop-color="#efefef"/><stop offset="0.169" stop-color="#ececec"/><stop offset="0.195" stop-color="#e0e0e0"/><stop offset="0.203" stop-color="#d7d7d7"/><stop offset="0.220" stop-color="#c2c2c2"/><stop offset="0.246" stop-color="#9c9c9c"/><stop offset="0.297" stop-color="#616161"/><stop offset="0.356" stop-color="#2c2c2c"/><stop offset="0.364" stop-color="#252525"/><stop offset="0.373" stop-color="#222222"/><stop offset="0.398" stop-color="#1d1d1d"/><stop offset="0.432" stop-color="#1a1a1a"/><stop offset="0.517" stop-color="#161616"/><stop offset="0.669" stop-color="#131313"/><stop offset="1.000" stop-color="#101010"/></linearGradient>
<linearGradient id="h0_36" gradientUnits="userSpaceOnUse" x1="415.5" x2="769.5"><stop offset="0.000" stop-color="#5d5d5d"/><stop offset="0.059" stop-color="#9d9d9d"/><stop offset="0.085" stop-color="#c1c1c1"/><stop offset="0.110" stop-color="#dddddd"/><stop offset="0.119" stop-color="#e2e2e2"/><stop offset="0.136" stop-color="#e8e8e8"/><stop offset="0.153" stop-color="#ebebeb"/><stop offset="0.161" stop-color="#eaeaea"/><stop offset="0.178" stop-color="#e6e6e6"/><stop offset="0.195" stop-color="#dedede"/><stop offset="0.220" stop-color="#c1c1c1"/><stop offset="0.246" stop-color="#9d9d9d"/><stop offset="0.297" stop-color="#646464"/><stop offset="0.305" stop-color="#5c5c5c"/><stop offset="0.347" stop-color="#373737"/><stop offset="0.373" stop-color="#232323"/><stop offset="0.407" stop-color="#1d1d1d"/><stop offset="0.432" stop-color="#1a1a1a"/><stop offset="0.525" stop-color="#161616"/><stop offset="0.686" stop-color="#131313"/><stop offset="1.000" stop-color="#111111"/></linearGradient>
<linearGradient id="h0_37" gradientUnits="userSpaceOnUse" x1="415.5" x2="769.5"><stop offset="0.000" stop-color="#5d5d5d"/><stop offset="0.059" stop-color="#9a9a9a"/><stop offset="0.068" stop-color="#a4a4a4"/><stop offset="0.085" stop-color="#bcbcbc"/><stop offset="0.093" stop-color="#c5c5c5"/><stop offset="0.119" stop-color="#dedede"/><stop offset="0.144" stop-color="#e5e5e5"/><stop offset="0.161" stop-color="#e6e6e6"/><stop offset="0.169" stop-color="#e5e5e5"/><stop offset="0.186" stop-color="#dfdfdf"/><stop offset="0.195" stop-color="#dadada"/><stop offset="0.220" stop-color="#c0c0c0"/><stop offset="0.246" stop-color="#9d9d9d"/><stop offset="0.305" stop-color="#5e5e5e"/><stop offset="0.364" stop-color="#2c2c2c"/><stop offset="0.373" stop-color="#262626"/><stop offset="0.381" stop-color="#222222"/><stop offset="0.415" stop-color="#1c1c1c"/><stop offset="0.441" stop-color="#1a1a1a"/><stop offset="0.534" stop-color="#161616"/><stop offset="0.695" stop-color="#131313"/><stop offset="1.000" stop-color="#111111"/></linearGradient>
<linearGradient id="h0_38" gradientUnits="userSpaceOnUse" x1="415.5" x2="769.5"><stop offset="0.000" stop-color="#5c5c5c"/><stop offset="0.068" stop-color="#a0a0a0"/><stop offset="0.093" stop-color="#c1c1c1"/><stop offset="0.110" stop-color="#d1d1d1"/><stop offset="0.127" stop-color="#dedede"/><stop offset="0.144" stop-color="#e2e2e2"/><stop offset="0.161" stop-color="#e3e3e3"/><stop offset="0.178" stop-color="#e0e0e0"/><stop offset="0.186" stop-color="#dddddd"/><stop offset="0.203" stop-color="#cfcfcf"/><stop offset="0.220" stop-color="#bebebe"/><stop offset="0.246" stop-color="#9d9d9d"/><stop offset="0.305" stop-color="#5f5f5f"/><stop offset="0.364" stop-color="#2f2f2f"/><stop offset="0.381" stop-color="#232323"/><stop offset="0.415" stop-color="#1d1d1d"/><stop offset="0.441" stop-color="#1a1a1a"/><stop offset="0.534" stop-color="#161616"/><stop offset="0.703" stop-color="#131313"/><stop offset="1.000" stop-color="#111111"/></linearGradient>
<linearGradient id="h0_39" gradientUnits="userSpaceOnUse" x1="415.5" x2="769.5"><stop offset="0.000" stop-color="#5b5b5b"/><stop offset="0.008" stop-color="#636363"/><stop offset="0.068" stop-color="#9d9d9d"/><stop offset="0.093" stop-color="#bbbbbb"/><stop offset="0.110" stop-color="#cbcbcb"/><stop offset="0.127" stop-color="#d7d7d7"/><stop offset="0.136" stop-color="#dcdcdc"/><stop offset="0.144" stop-color="#dfdfdf"/><stop offset="0.161" stop-color="#dfdfdf"/><stop offset="0.178" stop-color="#dcdcdc"/><stop offset="0.186" stop-color="#d8d8d8"/><stop offset="0.203" stop-color="#cbcbcb"/><stop offset="0.220" stop-color="#bbbbbb"/><stop offset="0.246" stop-color="#9c9c9c"/><stop offset="0.305" stop-color="#616161"/><stop offset="0.373" stop-color="#2a2a2a"/><stop offset="0.381" stop-color="#242424"/><stop offset="0.390" stop-color="#222222"/><stop offset="0.424" stop-color="#1c1c1c"/><stop offset="0.449" stop-color="#1a1a1a"/><stop offset="0.542" stop-color="#151515"/><stop offset="0.712" stop-color="#131313"/><stop offset="1.000" stop-color="#121212"/></linearGradient>
<linearGradient id="h0_40" gradientUnits="userSpaceOnUse" x1="415.5" x2="769.5"><stop offset="0.000" stop-color="#585858"/><stop offset="0.008" stop-color="#5f5f5f"/><stop offset="0.051" stop-color="#888888"/><stop offset="0.076" stop-color="#a0a0a0"/><stop offset="0.102" stop-color="#bdbdbd"/><stop offset="0.110" stop-color="#c5c5c5"/><stop offset="0.127" stop-color="#d1d1d1"/><stop offset="0.136" stop-color="#d5d5d5"/><stop offset="0.153" stop-color="#dadada"/><stop offset="0.161" stop-color="#dadada"/><stop offset="0.169" stop-color="#d9d9d9"/><stop offset="0.186" stop-color="#d3d3d3"/><stop offset="0.195" stop-color="#cdcdcd"/><stop offset="0.212" stop-color="#c1c1c1"/><stop offset="0.246" stop-color="#9b9b9b"/><stop offset="0.305" stop-color="#626262"/><stop offset="0.373" stop-color="#2c2c2c"/><stop offset="0.381" stop-color="#262626"/><stop offset="0.390" stop-color="#222222"/><stop offset="0.424" stop-color="#1c1c1c"/><stop offset="0.449" stop-color="#1a1a1a"/><stop offset="0.542" stop-color="#151515"/><stop offset="0.712" stop-color="#131313"/><stop offset="1.000" stop-color="#121212"/></linearGradient>
<linearGradient id="h0_41" gradientUnits="userSpaceOnUse" x1="415.5" x2="769.5"><stop offset="0.000" stop-color="#555555"/><stop offset="0.017" stop-color="#636363"/><stop offset="0.051" stop-color="#848484"/><stop offset="0.076" stop-color="#9b9b9b"/><stop offset="0.110" stop-color="#bfbfbf"/><stop offset="0.127" stop-color="#cbcbcb"/><stop offset="0.136" stop-color="#d0d0d0"/><stop offset="0.153" stop-color="#d5d5d5"/><stop offset="0.161" stop-color="#d5d5d5"/><stop offset="0.169" stop-color="#d4d4d4"/><stop offset="0.186" stop-color="#cfcfcf"/><stop offset="0.203" stop-color="#c4c4c4"/><stop offset="0.212" stop-color="#bebebe"/><stop offset="0.237" stop-color="#a2a2a2"/><stop offset="0.271" stop-color="#838383"/><stop offset="0.305" stop-color="#626262"/><stop offset="0.373" stop-color="#2d2d2d"/><stop offset="0.390" stop-color="#222222"/><stop offset="0.424" stop-color="#1c1c1c"/><stop offset="0.449" stop-color="#1a1a1a"/><stop offset="0.542" stop-color="#151515"/><stop offset="0.712" stop-color="#131313"/><stop offset="1.000" stop-color="#121212"/></linearGradient>
<linearGradient id="h0_42" gradientUnits="userSpaceOnUse" x1="415.5" x2="769.5"><stop offset="0.000" stop-color="#515151"/><stop offset="0.017" stop-color="#5f5f5f"/><stop offset="0.059" stop-color="#888888"/><stop offset="0.085" stop-color="#9e9e9e"/><stop offset="0.102" stop-color="#b1b1b1"/><stop offset="0.119" stop-color="#c0c0c0"/><stop offset="0.136" stop-color="#cacaca"/><stop offset="0.144" stop-color="#cecece"/><stop offset="0.161" stop-color="#d1d1d1"/><stop offset="0.178" stop-color="#cecece"/><stop offset="0.186" stop-color="#cbcbcb"/><stop offset="0.203" stop-color="#c2c2c2"/><stop offset="0.220" stop-color="#b3b3b3"/><stop offset="0.237" stop-color="#a1a1a1"/><stop offset="0.271" stop-color="#838383"/><stop offset="0.305" stop-color="#636363"/><stop offset="0.364" stop-color="#353535"/><stop offset="0.390" stop-color="#222222"/><stop offset="0.424" stop-color="#1d1d1d"/><stop offset="0.449" stop-color="#1a1a1a"/><stop offset="0.542" stop-color="#151515"/><stop offset="0.712" stop-color="#131313"/><stop offset="1.000" stop-color="#121212"/></linearGradient>
<linearGradient id="h0_43" gradientUnits="userSpaceOnUse" x1="415.5" x2="769.5"><stop offset="0.000" stop-color="#4e4e4e"/><stop offset="0.025" stop-color="#626262"/><stop offset="0.059" stop-color="#838383"/><stop offset="0.093" stop-color="#a1a1a1"/><stop offset="0.110" stop-color="#b3b3b3"/><stop offset="0.127" stop-color="#c1c1c1"/><stop offset="0.144" stop-color="#c9c9c9"/><stop offset="0.153" stop-color="#cbcbcb"/><stop offset="0.169" stop-color="#cbcbcb"/><stop offset="0.186" stop-color="#c7c7c7"/><stop offset="0.203" stop-color="#bebebe"/><stop offset="0.220" stop-color="#b0b0b0"/><stop offset="0.237" stop-color="#9f9f9f"/><stop offset="0.263" stop-color="#8a8a8a"/><stop offset="0.314" stop-color="#5c5c5c"/><stop offset="0.381" stop-color="#292929"/><stop offset="0.390" stop-color="#232323"/><stop offset="0.398" stop-color="#212121"/><stop offset="0.432" stop-color="#1c1c1c"/><stop offset="0.458" stop-color="#191919"/><stop offset="0.551" stop-color="#151515"/><stop offset="0.720" stop-color="#131313"/><stop offset="1.000" stop-color="#121212"/></linearGradient>
<linearGradient id="h0_44" gradientUnits="userSpaceOnUse" x1="415.5" x2="769.5"><stop offset="0.000" stop-color="#4a4a4a"/><stop offset="0.025" stop-color="#5e5e5e"/><stop offset="0.068" stop-color="#878787"/><stop offset="0.093" stop-color="#9c9c9c"/><stop offset="0.119" stop-color="#b5b5b5"/><stop offset="0.127" stop-color="#bbbbbb"/><stop offset="0.136" stop-color="#c1c1c1"/><stop offset="0.144" stop-color="#c4c4c4"/><stop offset="0.161" stop-color="#c8c8c8"/><stop offset="0.169" stop-color="#c7c7c7"/><stop offset="0.186" stop-color="#c4c4c4"/><stop offset="0.195" stop-color="#c0c0c0"/><stop offset="0.203" stop-color="#bbbbbb"/><stop offset="0.220" stop-color="#adadad"/><stop offset="0.237" stop-color="#9e9e9e"/><stop offset="0.271" stop-color="#828282"/><stop offset="0.314" stop-color="#5c5c5c"/><stop offset="0.381" stop-color="#2a2a2a"/><stop offset="0.390" stop-color="#242424"/><stop offset="0.398" stop-color="#212121"/><stop offset="0.432" stop-color="#1c1c1c"/><stop offset="0.458" stop-color="#191919"/><stop offset="0.551" stop-color="#151515"/><stop offset="0.720" stop-color="#131313"/><stop offset="1.000" stop-color="#121212"/></linearGradient>
<linearGradient id="h0_45" gradientUnits="userSpaceOnUse" x1="415.5" x2="769.5"><stop offset="0.000" stop-color="#464646"/><stop offset="0.034" stop-color="#616161"/><stop offset="0.068" stop-color="#828282"/><stop offset="0.102" stop-color="#9f9f9f"/><stop offset="0.119" stop-color="#afafaf"/><stop offset="0.127" stop-color="#b6b6b6"/><stop offset="0.144" stop-color="#c0c0c0"/><stop offset="0.161" stop-color="#c4c4c4"/><stop offset="0.169" stop-color="#c4c4c4"/><stop offset="0.186" stop-color="#c1c1c1"/><stop offset="0.195" stop-color="#bdbdbd"/><stop offset="0.212" stop-color="#b2b2b2"/><stop offset="0.237" stop-color="#9c9c9c"/><stop offset="0.271" stop-color="#828282"/><stop offset="0.314" stop-color="#5d5d5d"/><stop offset="0.381" stop-color="#2b2b2b"/><stop offset="0.390" stop-color="#252525"/><stop offset="0.398" stop-color="#212121"/><stop offset="0.432" stop-color="#1c1c1c"/><stop offset="0.458" stop-color="#191919"/><stop offset="0.551" stop-color="#151515"/><stop offset="0.720" stop-color="#131313"/><stop offset="1.000" stop-color="#121212"/></linearGradient>
<linearGradient id="h0_46" gradientUnits="userSpaceOnUse" x1="415.5" x2="769.5"><stop offset="0.000" stop-color="#424242"/><stop offset="0.034" stop-color="#5d5d5d"/><stop offset="0.076" stop-color="#868686"/><stop offset="0.127" stop-color="#b1b1b1"/><stop offset="0.144" stop-color="#bbbbbb"/><stop offset="0.153" stop-color="#bfbfbf"/><stop offset="0.169" stop-color="#c0c0c0"/><stop offset="0.186" stop-color="#bdbdbd"/><stop offset="0.195" stop-color="#b9b9b9"/><stop offset="0.212" stop-color="#afafaf"/><stop offset="0.229" stop-color="#a1a1a1"/><stop offset="0.263" stop-color="#888888"/><stop offset="0.314" stop-color="#5d5d5d"/><stop offset="0.381" stop-color="#2b2b2b"/><stop offset="0.390" stop-color="#252525"/><stop offset="0.398" stop-color="#212121"/><stop offset="0.432" stop-color="#1c1c1c"/><stop offset="0.458" stop-color="#191919"/><stop offset="0.551" stop-color="#151515"/><stop offset="0.720" stop-color="#131313"/><stop offset="1.000" stop-color="#121212"/></linearGradient>
<linearGradient id="h0_47" gradientUnits="userSpaceOnUse" x1="415.5" x2="769.5"><stop offset="0.000" stop-color="#3e3e3e"/><stop offset="0.042" stop-color="#616161"/><stop offset="0.085" stop-color="#898989"/><stop offset="0.127" stop-color="#acacac"/><stop offset="0.144" stop-color="#b7b7b7"/><stop offset="0.153" stop-color="#bababa"/><stop offset="0.169" stop-color="#bdbdbd"/><stop offset="0.186" stop-color="#bababa"/><stop offset="0.195" stop-color="#b6b6b6"/><stop offset="0.212" stop-color="#adadad"/><stop offset="0.229" stop-color="#9f9f9f"/><stop offset="0.263" stop-color="#878787"/><stop offset="0.314" stop-color="#5d5d5d"/><stop offset="0.381" stop-color="#2c2c2c"/><stop offset="0.390" stop-color="#262626"/><stop offset="0.398" stop-color="#222222"/><stop offset="0.432" stop-color="#1c1c1c"/><stop offset="0.458" stop-color="#191919"/><stop offset="0.551" stop-color="#151515"/><stop offset="0.720" stop-color="#131313"/><stop offset="1.000" stop-color="#121212"/></linearGradient>
<linearGradient id="h0_48" gradientUnits="userSpaceOnUse" x1="415.5" x2="769.5"><stop offset="0.000" stop-color="#3d3d3d"/><stop offset="0.042" stop-color="#5f5f5f"/><stop offset="0.068" stop-color="#777777"/><stop offset="0.093" stop-color="#8d8d8d"/><stop offset="0.127" stop-color="#a8a8a8"/><stop offset="0.144" stop-color="#b2b2b2"/><stop offset="0.153" stop-color="#b6b6b6"/><stop offset="0.169" stop-color="#b9b9b9"/><stop offset="0.186" stop-color="#b6b6b6"/><stop offset="0.195" stop-color="#b3b3b3"/><stop offset="0.212" stop-color="#aaaaaa"/><stop offset="0.263" stop-color="#878787"/><stop offset="0.314" stop-color="#5d5d5d"/><stop offset="0.381" stop-color="#2c2c2c"/><stop offset="0.398" stop-color="#222222"/><stop offset="0.432" stop-color="#1c1c1c"/><stop offset="0.458" stop-color="#191919"/><stop offset="0.551" stop-color="#151515"/><stop offset="0.720" stop-color="#131313"/><stop offset="1.000" stop-color="#121212"/></linearGradient>
<linearGradient id="h0_49" gradientUnits="userSpaceOnUse" x1="415.5" x2="769.5"><stop offset="0.000" stop-color="#3b3b3b"/><stop offset="0.042" stop-color="#5d5d5d"/><stop offset="0.085" stop-color="#848484"/><stop offset="0.110" stop-color="#979797"/><stop offset="0.144" stop-color="#aeaeae"/><stop offset="0.161" stop-color="#b4b4b4"/><stop offset="0.169" stop-color="#b5b5b5"/><stop offset="0.178" stop-color="#b4b4b4"/><stop offset="0.195" stop-color="#b0b0b0"/><stop offset="0.212" stop-color="#a7a7a7"/><stop offset="0.237" stop-color="#979797"/><stop offset="0.271" stop-color="#7f7f7f"/><stop offset="0.314" stop-color="#5d5d5d"/><stop offset="0.381" stop-color="#2d2d2d"/><stop offset="0.398" stop-color="#222222"/><stop offset="0.432" stop-color="#1c1c1c"/><stop offset="0.458" stop-color="#191919"/><stop offset="0.500" stop-color="#161616"/><stop offset="0.551" stop-color="#141414"/><stop offset="0.712" stop-color="#131313"/><stop offset="1.000" stop-color="#121212"/></linearGradient>
<clipPath id="hc1"><rect x="418.5" y="334.5" width="350.6" height="225.4"/></clipPath>
<linearGradient id="h1_0" gradientUnits="userSpaceOnUse" x1="415.5" x2="769.5"><stop offset="0.000" stop-color="#0c0c0c"/><stop offset="0.102" stop-color="#121212"/><stop offset="0.195" stop-color="#141414"/><stop offset="0.314" stop-color="#101010"/><stop offset="0.500" stop-color="#050505"/><stop offset="1.000" stop-color="#040404"/></linearGradient>
<linearGradient id="h1_1" gradientUnits="userSpaceOnUse" x1="415.5" x2="769.5"><stop offset="0.000" stop-color="#0d0d0d"/><stop offset="0.102" stop-color="#131313"/><stop offset="0.195" stop-color="#151515"/><stop offset="0.314" stop-color="#111111"/><stop offset="0.508" stop-color="#050505"/><stop offset="1.000" stop-color="#040404"/></linearGradient>
<linearGradient id="h1_2" gradientUnits="userSpaceOnUse" x1="415.5" x2="769.5"><stop offset="0.000" stop-color="#0e0e0e"/><stop offset="0.102" stop-color="#151515"/><stop offset="0.195" stop-color="#161616"/><stop offset="0.322" stop-color="#121212"/><stop offset="0.517" stop-color="#050505"/><stop offset="1.000" stop-color="#040404"/></linearGradient>
<linearGradient id="h1_3" gradientUnits="userSpaceOnUse" x1="415.5" x2="769.5"><stop offset="0.000" stop-color="#0f0f0f"/><stop offset="0.093" stop-color="#151515"/><stop offset="0.153" stop-color="#181818"/><stop offset="0.195" stop-color="#181818"/><stop offset="0.331" stop-color="#131313"/><stop offset="0.517" stop-color="#050505"/><stop offset="1.000" stop-color="#040404"/></linearGradient>
<linearGradient id="h1_4" gradientUnits="userSpaceOnUse" x1="415.5" x2="769.5"><stop offset="0.000" stop-color="#101010"/><stop offset="0.119" stop-color="#181818"/><stop offset="0.195" stop-color="#1a1a1a"/><stop offset="0.254" stop-color="#181818"/><stop offset="0.339" stop-color="#131313"/><stop offset="0.525" stop-color="#050505"/><stop offset="1.000" stop-color="#040404"/></linearGradient>
<linearGradient id="h1_5" gradientUnits="userSpaceOnUse" x1="415.5" x2="769.5"><stop offset="0.000" stop-color="#111111"/><stop offset="0.119" stop-color="#1a1a1a"/><stop offset="0.195" stop-color="#1b1b1b"/><stop offset="0.280" stop-color="#181818"/><stop offset="0.534" stop-color="#050505"/><stop offset="1.000" stop-color="#040404"/></linearGradient>
<linearGradient id="h1_6" gradientUnits="userSpaceOnUse" x1="415.5" x2="769.5"><stop offset="0.000" stop-color="#121212"/><stop offset="0.110" stop-color="#1b1b1b"/><stop offset="0.153" stop-color="#1d1d1d"/><stop offset="0.195" stop-color="#1d1d1d"/><stop offset="0.288" stop-color="#191919"/><stop offset="0.534" stop-color="#060606"/><stop offset="1.000" stop-color="#040404"/></linearGradient>
<linearGradient id="h1_7" gradientUnits="userSpaceOnUse" x1="415.5" x2="769.5"><stop offset="0.000" stop-color="#131313"/><stop offset="0.110" stop-color="#1d1d1d"/><stop offset="0.153" stop-color="#1f1f1f"/><stop offset="0.195" stop-color="#1f1f1f"/><stop offset="0.288" stop-color="#1b1b1b"/><stop offset="0.542" stop-color="#060606"/><stop offset="1.000" stop-color="#050505"/></linearGradient>
<linearGradient id="h1_8" gradientUnits="userSpaceOnUse" x1="415.5" x2="769.5"><stop offset="0.000" stop-color="#151515"/><stop offset="0.110" stop-color="#1f1f1f"/><stop offset="0.161" stop-color="#212121"/><stop offset="0.195" stop-color="#212121"/><stop offset="0.288" stop-color="#1d1d1d"/><stop offset="0.508" stop-color="#090909"/><stop offset="0.551" stop-color="#060606"/><stop offset="1.000" stop-color="#050505"/></linearGradient>
<linearGradient id="h1_9" gradientUnits="userSpaceOnUse" x1="415.5" x2="769.5"><stop offset="0.000" stop-color="#161616"/><stop offset="0.102" stop-color="#202020"/><stop offset="0.153" stop-color="#232323"/><stop offset="0.195" stop-color="#232323"/><stop offset="0.297" stop-color="#1d1d1d"/><stop offset="0.508" stop-color="#090909"/><stop offset="0.551" stop-color="#060606"/><stop offset="1.000" stop-color="#050505"/></linearGradient>
<linearGradient id="h1_10" gradientUnits="userSpaceOnUse" x1="415.5" x2="769.5"><stop offset="0.000" stop-color="#171717"/><stop offset="0.119" stop-color="#242424"/><stop offset="0.161" stop-color="#262626"/><stop offset="0.195" stop-color="#262626"/><stop offset="0.263" stop-color="#222222"/><stop offset="0.508" stop-color="#0a0a0a"/><stop offset="0.551" stop-color="#070707"/><stop offset="1.000" stop-color="#050505"/></linearGradient>
<linearGradient id="h1_11" gradientUnits="userSpaceOnUse" x1="415.5" x2="769.5"><stop offset="0.000" stop-color="#181818"/><stop offset="0.119" stop-color="#262626"/><stop offset="0.161" stop-color="#282828"/><stop offset="0.195" stop-color="#282828"/><stop offset="0.263" stop-color="#242424"/><stop offset="0.398" stop-color="#151515"/><stop offset="0.517" stop-color="#0a0a0a"/><stop offset="0.559" stop-color="#070707"/><stop offset="1.000" stop-color="#050505"/></linearGradient>
<linearGradient id="h1_12" gradientUnits="userSpaceOnUse" x1="415.5" x2="769.5"><stop offset="0.000" stop-color="#191919"/><stop offset="0.119" stop-color="#282828"/><stop offset="0.161" stop-color="#2a2a2a"/><stop offset="0.195" stop-color="#2a2a2a"/><stop offset="0.263" stop-color="#262626"/><stop offset="0.407" stop-color="#151515"/><stop offset="0.559" stop-color="#080808"/><stop offset="1.000" stop-color="#050505"/></linearGradient>
<linearGradient id="h1_13" gradientUnits="userSpaceOnUse" x1="415.5" x2="769.5"><stop offset="0.000" stop-color="#1a1a1a"/><stop offset="0.119" stop-color="#2a2a2a"/><stop offset="0.161" stop-color="#2d2d2d"/><stop offset="0.195" stop-color="#2d2d2d"/><stop offset="0.271" stop-color="#282828"/><stop offset="0.415" stop-color="#151515"/><stop offset="0.559" stop-color="#080808"/><stop offset="1.000" stop-color="#050505"/></linearGradient>
<linearGradient id="h1_14" gradientUnits="userSpaceOnUse" x1="415.5" x2="769.5"><stop offset="0.000" stop-color="#1c1c1c"/><stop offset="0.110" stop-color="#2b2b2b"/><stop offset="0.161" stop-color="#2f2f2f"/><stop offset="0.186" stop-color="#303030"/><stop offset="0.271" stop-color="#2a2a2a"/><stop offset="0.424" stop-color="#151515"/><stop offset="0.559" stop-color="#090909"/><stop offset="1.000" stop-color="#050505"/></linearGradient>
<linearGradient id="h1_15" gradientUnits="userSpaceOnUse" x1="415.5" x2="769.5"><stop offset="0.000" stop-color="#1d1d1d"/><stop offset="0.085" stop-color="#2a2a2a"/><stop offset="0.144" stop-color="#323232"/><stop offset="0.186" stop-color="#343434"/><stop offset="0.220" stop-color="#323232"/><stop offset="0.288" stop-color="#2a2a2a"/><stop offset="0.424" stop-color="#161616"/><stop offset="0.559" stop-color="#090909"/><stop offset="1.000" stop-color="#060606"/></linearGradient>
<linearGradient id="h1_16" gradientUnits="userSpaceOnUse" x1="415.5" x2="769.5"><stop offset="0.000" stop-color="#1e1e1e"/><stop offset="0.110" stop-color="#303030"/><stop offset="0.144" stop-color="#363636"/><stop offset="0.169" stop-color="#393939"/><stop offset="0.186" stop-color="#393939"/><stop offset="0.229" stop-color="#363636"/><stop offset="0.271" stop-color="#2e2e2e"/><stop offset="0.432" stop-color="#161616"/><stop offset="0.551" stop-color="#0b0b0b"/><stop offset="0.610" stop-color="#090909"/><stop offset="1.000" stop-color="#060606"/></linearGradient>
<linearGradient id="h1_17" gradientUnits="userSpaceOnUse" x1="415.5" x2="769.5"><stop offset="0.000" stop-color="#1f1f1f"/><stop offset="0.093" stop-color="#2f2f2f"/><stop offset="0.144" stop-color="#3b3b3b"/><stop offset="0.169" stop-color="#3d3d3d"/><stop offset="0.186" stop-color="#3e3e3e"/><stop offset="0.229" stop-color="#3a3a3a"/><stop offset="0.288" stop-color="#2e2e2e"/><stop offset="0.441" stop-color="#161616"/><stop offset="0.551" stop-color="#0b0b0b"/><stop offset="0.610" stop-color="#0a0a0a"/><stop offset="1.000" stop-color="#060606"/></linearGradient>
<linearGradient id="h1_18" gradientUnits="userSpaceOnUse" x1="415.5" x2="769.5"><stop offset="0.000" stop-color="#202020"/><stop offset="0.085" stop-color="#2f2f2f"/><stop offset="0.110" stop-color="#373737"/><stop offset="0.136" stop-color="#3d3d3d"/><stop offset="0.161" stop-color="#414141"/><stop offset="0.186" stop-color="#424242"/><stop offset="0.212" stop-color="#414141"/><stop offset="0.237" stop-color="#3d3d3d"/><stop offset="0.263" stop-color="#383838"/><stop offset="0.297" stop-color="#2e2e2e"/><stop offset="0.381" stop-color="#202020"/><stop offset="0.449" stop-color="#161616"/><stop offset="0.542" stop-color="#0d0d0d"/><stop offset="0.610" stop-color="#0a0a0a"/><stop offset="1.000" stop-color="#070707"/></linearGradient>
<linearGradient id="h1_19" gradientUnits="userSpaceOnUse" x1="415.5" x2="769.5"><stop offset="0.000" stop-color="#212121"/><stop offset="0.076" stop-color="#303030"/><stop offset="0.110" stop-color="#3b3b3b"/><stop offset="0.136" stop-color="#424242"/><stop offset="0.169" stop-color="#474747"/><stop offset="0.186" stop-color="#474747"/><stop offset="0.203" stop-color="#464646"/><stop offset="0.237" stop-color="#414141"/><stop offset="0.271" stop-color="#393939"/><stop offset="0.314" stop-color="#2d2d2d"/><stop offset="0.390" stop-color="#1f1f1f"/><stop offset="0.449" stop-color="#161616"/><stop offset="0.534" stop-color="#0e0e0e"/><stop offset="0.602" stop-color="#0b0b0b"/><stop offset="1.000" stop-color="#070707"/></linearGradient>
<linearGradient id="h1_20" gradientUnits="userSpaceOnUse" x1="415.5" x2="769.5"><stop offset="0.000" stop-color="#212121"/><stop offset="0.068" stop-color="#2f2f2f"/><stop offset="0.110" stop-color="#3f3f3f"/><stop offset="0.153" stop-color="#4b4b4b"/><stop offset="0.169" stop-color="#4e4e4e"/><stop offset="0.186" stop-color="#4e4e4e"/><stop offset="0.220" stop-color="#4a4a4a"/><stop offset="0.271" stop-color="#3d3d3d"/><stop offset="0.322" stop-color="#2d2d2d"/><stop offset="0.390" stop-color="#202020"/><stop offset="0.458" stop-color="#161616"/><stop offset="0.517" stop-color="#101010"/><stop offset="0.559" stop-color="#0d0d0d"/><stop offset="0.602" stop-color="#0c0c0c"/><stop offset="1.000" stop-color="#080808"/></linearGradient>
<linearGradient id="h1_21" gradientUnits="userSpaceOnUse" x1="415.5" x2="769.5"><stop offset="0.000" stop-color="#222222"/><stop offset="0.059" stop-color="#2f2f2f"/><stop offset="0.136" stop-color="#4c4c4c"/><stop offset="0.153" stop-color="#515151"/><stop offset="0.169" stop-color="#545454"/><stop offset="0.186" stop-color="#555555"/><stop offset="0.203" stop-color="#535353"/><stop offset="0.229" stop-color="#4e4e4e"/><stop offset="0.331" stop-color="#2d2d2d"/><stop offset="0.398" stop-color="#202020"/><stop offset="0.458" stop-color="#171717"/><stop offset="0.500" stop-color="#121212"/><stop offset="0.551" stop-color="#0f0f0f"/><stop offset="0.593" stop-color="#0d0d0d"/><stop offset="1.000" stop-color="#080808"/></linearGradient>
<linearGradient id="h1_22" gradientUnits="userSpaceOnUse" x1="415.5" x2="769.5"><stop offset="0.000" stop-color="#232323"/><stop offset="0.059" stop-color="#313131"/><stop offset="0.144" stop-color="#555555"/><stop offset="0.169" stop-color="#5a5a5a"/><stop offset="0.186" stop-color="#5b5b5b"/><stop offset="0.203" stop-color="#5a5a5a"/><stop offset="0.229" stop-color="#545454"/><stop offset="0.331" stop-color="#2f2f2f"/><stop offset="0.339" stop-color="#2d2d2d"/><stop offset="0.398" stop-color="#212121"/><stop offset="0.475" stop-color="#161616"/><stop offset="0.534" stop-color="#101010"/><stop offset="0.585" stop-color="#0e0e0e"/><stop offset="1.000" stop-color="#090909"/></linearGradient>
<linearGradient id="h1_23" gradientUnits="userSpaceOnUse" x1="415.5" x2="769.5"><stop offset="0.000" stop-color="#232323"/><stop offset="0.051" stop-color="#2f2f2f"/><stop offset="0.102" stop-color="#464646"/><stop offset="0.127" stop-color="#545454"/><stop offset="0.144" stop-color="#5b5b5b"/><stop offset="0.169" stop-color="#616161"/><stop offset="0.186" stop-color="#626262"/><stop offset="0.212" stop-color="#5e5e5e"/><stop offset="0.237" stop-color="#575757"/><stop offset="0.280" stop-color="#454545"/><stop offset="0.339" stop-color="#2e2e2e"/><stop offset="0.407" stop-color="#202020"/><stop offset="0.466" stop-color="#171717"/><stop offset="0.534" stop-color="#111111"/><stop offset="0.585" stop-color="#0f0f0f"/><stop offset="1.000" stop-color="#0a0a0a"/></linearGradient>
<linearGradient id="h1_24" gradientUnits="userSpaceOnUse" x1="415.5" x2="769.5"><stop offset="0.000" stop-color="#242424"/><stop offset="0.042" stop-color="#2e2e2e"/><stop offset="0.051" stop-color="#313131"/><stop offset="0.093" stop-color="#454545"/><stop offset="0.127" stop-color="#595959"/><stop offset="0.153" stop-color="#646464"/><stop offset="0.169" stop-color="#686868"/><stop offset="0.186" stop-color="#696969"/><stop offset="0.212" stop-color="#656565"/><stop offset="0.237" stop-color="#5d5d5d"/><stop offset="0.263" stop-color="#525252"/><stop offset="0.288" stop-color="#454545"/><stop offset="0.347" stop-color="#2d2d2d"/><stop offset="0.407" stop-color="#212121"/><stop offset="0.466" stop-color="#181818"/><stop offset="0.525" stop-color="#121212"/><stop offset="0.585" stop-color="#101010"/><stop offset="1.000" stop-color="#0a0a0a"/></linearGradient>
<linearGradient id="h1_25" gradientUnits="userSpaceOnUse" x1="415.5" x2="769.5"><stop offset="0.000" stop-color="#252525"/><stop offset="0.042" stop-color="#2f2f2f"/><stop offset="0.085" stop-color="#444444"/><stop offset="0.127" stop-color="#5e5e5e"/><stop offset="0.153" stop-color="#6a6a6a"/><stop offset="0.169" stop-color="#6e6e6e"/><stop offset="0.186" stop-color="#6f6f6f"/><stop offset="0.203" stop-color="#6d6d6d"/><stop offset="0.229" stop-color="#666666"/><stop offset="0.254" stop-color="#5a5a5a"/><stop offset="0.297" stop-color="#444444"/><stop offset="0.347" stop-color="#2f2f2f"/><stop offset="0.415" stop-color="#202020"/><stop offset="0.466" stop-color="#181818"/><stop offset="0.525" stop-color="#131313"/><stop offset="0.576" stop-color="#111111"/><stop offset="1.000" stop-color="#0b0b0b"/></linearGradient>
<linearGradient id="h1_26" gradientUnits="userSpaceOnUse" x1="415.5" x2="769.5"><stop offset="0.000" stop-color="#252525"/><stop offset="0.042" stop-color="#313131"/><stop offset="0.085" stop-color="#474747"/><stop offset="0.127" stop-color="#626262"/><stop offset="0.153" stop-color="#707070"/><stop offset="0.169" stop-color="#757575"/><stop offset="0.186" stop-color="#767676"/><stop offset="0.203" stop-color="#747474"/><stop offset="0.229" stop-color="#6b6b6b"/><stop offset="0.263" stop-color="#5a5a5a"/><stop offset="0.305" stop-color="#434343"/><stop offset="0.356" stop-color="#2d2d2d"/><stop offset="0.415" stop-color="#212121"/><stop offset="0.466" stop-color="#191919"/><stop offset="0.517" stop-color="#141414"/><stop offset="0.576" stop-color="#121212"/><stop offset="1.000" stop-color="#0c0c0c"/></linearGradient>
<linearGradient id="h1_27" gradientUnits="userSpaceOnUse" x1="415.5" x2="769.5"><stop offset="0.000" stop-color="#262626"/><stop offset="0.034" stop-color="#2e2e2e"/><stop offset="0.076" stop-color="#444444"/><stop offset="0.127" stop-color="#676767"/><stop offset="0.153" stop-color="#767676"/><stop offset="0.169" stop-color="#7c7c7c"/><stop offset="0.186" stop-color="#7d7d7d"/><stop offset="0.203" stop-color="#7a7a7a"/><stop offset="0.229" stop-color="#707070"/><stop offset="0.254" stop-color="#636363"/><stop offset="0.305" stop-color="#454545"/><stop offset="0.356" stop-color="#2e2e2e"/><stop offset="0.415" stop-color="#212121"/><stop offset="0.466" stop-color="#191919"/><stop offset="0.517" stop-color="#151515"/><stop offset="0.576" stop-color="#121212"/><stop offset="0.797" stop-color="#111111"/><stop offset="1.000" stop-color="#0d0d0d"/></linearGradient>
<linearGradient id="h1_28" gradientUnits="userSpaceOnUse" x1="415.5" x2="769.5"><stop offset="0.000" stop-color="#262626"/><stop offset="0.034" stop-color="#2f2f2f"/><stop offset="0.076" stop-color="#454545"/><stop offset="0.127" stop-color="#6b6b6b"/><stop offset="0.153" stop-color="#7b7b7b"/><stop offset="0.169" stop-color="#838383"/><stop offset="0.178" stop-color="#848484"/><stop offset="0.186" stop-color="#848484"/><stop offset="0.203" stop-color="#818181"/><stop offset="0.220" stop-color="#7a7a7a"/><stop offset="0.246" stop-color="#6c6c6c"/><stop offset="0.305" stop-color="#474747"/><stop offset="0.356" stop-color="#2f2f2f"/><stop offset="0.415" stop-color="#222222"/><stop offset="0.449" stop-color="#1c1c1c"/><stop offset="0.500" stop-color="#171717"/><stop offset="0.568" stop-color="#131313"/><stop offset="0.797" stop-color="#121212"/><stop offset="1.000" stop-color="#0e0e0e"/></linearGradient>
<linearGradient id="h1_29" gradientUnits="userSpaceOnUse" x1="415.5" x2="769.5"><stop offset="0.000" stop-color="#262626"/><stop offset="0.034" stop-color="#303030"/><stop offset="0.051" stop-color="#393939"/><stop offset="0.076" stop-color="#474747"/><stop offset="0.127" stop-color="#6e6e6e"/><stop offset="0.153" stop-color="#808080"/><stop offset="0.169" stop-color="#898989"/><stop offset="0.178" stop-color="#8c8c8c"/><stop offset="0.186" stop-color="#8c8c8c"/><stop offset="0.195" stop-color="#8a8a8a"/><stop offset="0.212" stop-color="#838383"/><stop offset="0.246" stop-color="#6f6f6f"/><stop offset="0.314" stop-color="#444444"/><stop offset="0.356" stop-color="#303030"/><stop offset="0.407" stop-color="#242424"/><stop offset="0.441" stop-color="#1e1e1e"/><stop offset="0.483" stop-color="#181818"/><stop offset="0.559" stop-color="#141414"/><stop offset="0.797" stop-color="#131313"/><stop offset="1.000" stop-color="#0f0f0f"/></linearGradient>
<linearGradient id="h1_30" gradientUnits="userSpaceOnUse" x1="415.5" x2="769.5"><stop offset="0.000" stop-color="#272727"/><stop offset="0.034" stop-color="#303030"/><stop offset="0.068" stop-color="#434343"/><stop offset="0.076" stop-color="#494949"/><stop offset="0.161" stop-color="#8b8b8b"/><stop offset="0.169" stop-color="#8f8f8f"/><stop offset="0.178" stop-color="#919191"/><stop offset="0.186" stop-color="#919191"/><stop offset="0.203" stop-color="#8d8d8d"/><stop offset="0.212" stop-color="#888888"/><stop offset="0.314" stop-color="#454545"/><stop offset="0.364" stop-color="#2e2e2e"/><stop offset="0.424" stop-color="#212121"/><stop offset="0.483" stop-color="#191919"/><stop offset="0.551" stop-color="#151515"/><stop offset="0.797" stop-color="#151515"/><stop offset="1.000" stop-color="#101010"/></linearGradient>
<linearGradient id="h1_31" gradientUnits="userSpaceOnUse" x1="415.5" x2="769.5"><stop offset="0.000" stop-color="#272727"/><stop offset="0.034" stop-color="#313131"/><stop offset="0.068" stop-color="#434343"/><stop offset="0.102" stop-color="#5e5e5e"/><stop offset="0.161" stop-color="#8e8e8e"/><stop offset="0.178" stop-color="#979797"/><stop offset="0.186" stop-color="#979797"/><stop offset="0.195" stop-color="#949494"/><stop offset="0.212" stop-color="#8b8b8b"/><stop offset="0.314" stop-color="#454545"/><stop offset="0.364" stop-color="#2e2e2e"/><stop offset="0.424" stop-color="#212121"/><stop offset="0.483" stop-color="#191919"/><stop offset="0.551" stop-color="#151515"/><stop offset="0.610" stop-color="#151515"/><stop offset="0.797" stop-color="#161616"/><stop offset="1.000" stop-color="#101010"/></linearGradient>
<linearGradient id="h1_32" gradientUnits="userSpaceOnUse" x1="415.5" x2="769.5"><stop offset="0.000" stop-color="#272727"/><stop offset="0.025" stop-color="#2d2d2d"/><stop offset="0.034" stop-color="#313131"/><stop offset="0.068" stop-color="#444444"/><stop offset="0.102" stop-color="#5e5e5e"/><stop offset="0.161" stop-color="#909090"/><stop offset="0.178" stop-color="#9b9b9b"/><stop offset="0.186" stop-color="#9b9b9b"/><stop offset="0.212" stop-color="#8d8d8d"/><stop offset="0.271" stop-color="#626262"/><stop offset="0.314" stop-color="#464646"/><stop offset="0.364" stop-color="#2e2e2e"/><stop offset="0.424" stop-color="#212121"/><stop offset="0.483" stop-color="#191919"/><stop offset="0.551" stop-color="#161616"/><stop offset="0.610" stop-color="#151515"/><stop offset="0.797" stop-color="#181818"/><stop offset="1.000" stop-color="#111111"/></linearGradient>
<linearGradient id="h1_33" gradientUnits="userSpaceOnUse" x1="415.5" x2="769.5"><stop offset="0.000" stop-color="#272727"/><stop offset="0.025" stop-color="#2e2e2e"/><stop offset="0.068" stop-color="#444444"/><stop offset="0.102" stop-color="#5e5e5e"/><stop offset="0.161" stop-color="#8f8f8f"/><stop offset="0.178" stop-color="#9a9a9a"/><stop offset="0.186" stop-color="#9c9c9c"/><stop offset="0.212" stop-color="#8e8e8e"/><stop offset="0.280" stop-color="#5f5f5f"/><stop offset="0.322" stop-color="#434343"/><stop offset="0.364" stop-color="#303030"/><stop offset="0.432" stop-color="#212121"/><stop offset="0.483" stop-color="#1a1a1a"/><stop offset="0.551" stop-color="#161616"/><stop offset="0.610" stop-color="#161616"/><stop offset="0.797" stop-color="#1a1a1a"/><stop offset="1.000" stop-color="#121212"/></linearGradient>
<linearGradient id="h1_34" gradientUnits="userSpaceOnUse" x1="415.5" x2="769.5"><stop offset="0.000" stop-color="#282828"/><stop offset="0.025" stop-color="#2f2f2f"/><stop offset="0.068" stop-color="#454545"/><stop offset="0.110" stop-color="#656565"/><stop offset="0.161" stop-color="#8e8e8e"/><stop offset="0.178" stop-color="#999999"/><stop offset="0.186" stop-color="#9c9c9c"/><stop offset="0.203" stop-color="#949494"/><stop offset="0.220" stop-color="#8a8a8a"/><stop offset="0.280" stop-color="#616161"/><stop offset="0.322" stop-color="#454545"/><stop offset="0.373" stop-color="#2e2e2e"/><stop offset="0.432" stop-color="#222222"/><stop offset="0.492" stop-color="#1a1a1a"/><stop offset="0.551" stop-color="#171717"/><stop offset="0.619" stop-color="#171717"/><stop offset="0.746" stop-color="#1b1b1b"/><stop offset="0.797" stop-color="#1b1b1b"/><stop offset="1.000" stop-color="#131313"/></linearGradient>
<linearGradient id="h1_35" gradientUnits="userSpaceOnUse" x1="415.5" x2="769.5"><stop offset="0.000" stop-color="#292929"/><stop offset="0.025" stop-color="#303030"/><stop offset="0.068" stop-color="#464646"/><stop offset="0.110" stop-color="#666666"/><stop offset="0.161" stop-color="#8e8e8e"/><stop offset="0.178" stop-color="#989898"/><stop offset="0.186" stop-color="#9b9b9b"/><stop offset="0.195" stop-color="#999999"/><stop offset="0.220" stop-color="#8c8c8c"/><stop offset="0.288" stop-color="#5e5e5e"/><stop offset="0.331" stop-color="#434343"/><stop offset="0.381" stop-color="#2e2e2e"/><stop offset="0.441" stop-color="#212121"/><stop offset="0.500" stop-color="#1a1a1a"/><stop offset="0.559" stop-color="#171717"/><stop offset="0.619" stop-color="#171717"/><stop offset="0.746" stop-color="#1c1c1c"/><stop offset="0.797" stop-color="#1d1d1d"/><stop offset="1.000" stop-color="#141414"/></linearGradient>
<linearGradient id="h1_36" gradientUnits="userSpaceOnUse" x1="415.5" x2="769.5"><stop offset="0.000" stop-color="#2a2a2a"/><stop offset="0.017" stop-color="#2e2e2e"/><stop offset="0.025" stop-color="#313131"/><stop offset="0.068" stop-color="#474747"/><stop offset="0.102" stop-color="#5f5f5f"/><stop offset="0.161" stop-color="#8c8c8c"/><stop offset="0.178" stop-color="#969696"/><stop offset="0.186" stop-color="#9a9a9a"/><stop offset="0.195" stop-color="#999999"/><stop offset="0.220" stop-color="#8d8d8d"/><stop offset="0.288" stop-color="#606060"/><stop offset="0.331" stop-color="#464646"/><stop offset="0.339" stop-color="#424242"/><stop offset="0.381" stop-color="#2f2f2f"/><stop offset="0.449" stop-color="#212121"/><stop offset="0.508" stop-color="#1a1a1a"/><stop offset="0.559" stop-color="#181818"/><stop offset="0.619" stop-color="#181818"/><stop offset="0.746" stop-color="#1d1d1d"/><stop offset="0.797" stop-color="#1e1e1e"/><stop offset="1.000" stop-color="#141414"/></linearGradient>
<linearGradient id="h1_37" gradientUnits="userSpaceOnUse" x1="415.5" x2="769.5"><stop offset="0.000" stop-color="#2b2b2b"/><stop offset="0.017" stop-color="#2f2f2f"/><stop offset="0.059" stop-color="#434343"/><stop offset="0.102" stop-color="#606060"/><stop offset="0.161" stop-color="#8b8b8b"/><stop offset="0.178" stop-color="#959595"/><stop offset="0.186" stop-color="#999999"/><stop offset="0.195" stop-color="#999999"/><stop offset="0.203" stop-color="#969696"/><stop offset="0.220" stop-color="#8f8f8f"/><stop offset="0.297" stop-color="#5d5d5d"/><stop offset="0.339" stop-color="#444444"/><stop offset="0.390" stop-color="#2e2e2e"/><stop offset="0.449" stop-color="#222222"/><stop offset="0.508" stop-color="#1b1b1b"/><stop offset="0.559" stop-color="#181818"/><stop offset="0.619" stop-color="#181818"/><stop offset="0.746" stop-color="#1e1e1e"/><stop offset="0.797" stop-color="#1f1f1f"/><stop offset="0.839" stop-color="#1e1e1e"/><stop offset="1.000" stop-color="#151515"/></linearGradient>
<linearGradient id="h1_38" gradientUnits="userSpaceOnUse" x1="415.5" x2="769.5"><stop offset="0.000" stop-color="#2b2b2b"/><stop offset="0.017" stop-color="#303030"/><stop offset="0.059" stop-color="#444444"/><stop offset="0.102" stop-color="#606060"/><stop offset="0.169" stop-color="#8f8f8f"/><stop offset="0.186" stop-color="#979797"/><stop offset="0.195" stop-color="#989898"/><stop offset="0.212" stop-color="#939393"/><stop offset="0.229" stop-color="#8b8b8b"/><stop offset="0.339" stop-color="#464646"/><stop offset="0.390" stop-color="#303030"/><stop offset="0.458" stop-color="#222222"/><stop offset="0.517" stop-color="#1b1b1b"/><stop offset="0.568" stop-color="#181818"/><stop offset="0.627" stop-color="#191919"/><stop offset="0.746" stop-color="#1f1f1f"/><stop offset="0.797" stop-color="#202020"/><stop offset="0.839" stop-color="#1e1e1e"/><stop offset="1.000" stop-color="#151515"/></linearGradient>
<linearGradient id="h1_39" gradientUnits="userSpaceOnUse" x1="415.5" x2="769.5"><stop offset="0.000" stop-color="#2c2c2c"/><stop offset="0.017" stop-color="#313131"/><stop offset="0.059" stop-color="#444444"/><stop offset="0.102" stop-color="#606060"/><stop offset="0.169" stop-color="#8e8e8e"/><stop offset="0.186" stop-color="#969696"/><stop offset="0.195" stop-color="#979797"/><stop offset="0.203" stop-color="#969696"/><stop offset="0.212" stop-color="#949494"/><stop offset="0.229" stop-color="#8c8c8c"/><stop offset="0.297" stop-color="#626262"/><stop offset="0.347" stop-color="#444444"/><stop offset="0.398" stop-color="#2f2f2f"/><stop offset="0.466" stop-color="#222222"/><stop offset="0.525" stop-color="#1b1b1b"/><stop offset="0.568" stop-color="#191919"/><stop offset="0.627" stop-color="#191919"/><stop offset="0.746" stop-color="#1f1f1f"/><stop offset="0.797" stop-color="#202020"/><stop offset="0.839" stop-color="#1f1f1f"/><stop offset="1.000" stop-color="#161616"/></linearGradient>
<linearGradient id="h1_40" gradientUnits="userSpaceOnUse" x1="415.5" x2="769.5"><stop offset="0.000" stop-color="#2d2d2d"/><stop offset="0.008" stop-color="#2f2f2f"/><stop offset="0.059" stop-color="#454545"/><stop offset="0.169" stop-color="#8d8d8d"/><stop offset="0.186" stop-color="#949494"/><stop offset="0.195" stop-color="#969696"/><stop offset="0.203" stop-color="#969696"/><stop offset="0.212" stop-color="#949494"/><stop offset="0.229" stop-color="#8d8d8d"/><stop offset="0.305" stop-color="#5f5f5f"/><stop offset="0.347" stop-color="#464646"/><stop offset="0.356" stop-color="#424242"/><stop offset="0.407" stop-color="#2e2e2e"/><stop offset="0.475" stop-color="#212121"/><stop offset="0.534" stop-color="#1b1b1b"/><stop offset="0.576" stop-color="#191919"/><stop offset="0.636" stop-color="#191919"/><stop offset="0.746" stop-color="#1f1f1f"/><stop offset="0.797" stop-color="#202020"/><stop offset="0.839" stop-color="#1f1f1f"/><stop offset="1.000" stop-color="#161616"/></linearGradient>
<linearGradient id="h1_41" gradientUnits="userSpaceOnUse" x1="415.5" x2="769.5"><stop offset="0.000" stop-color="#2d2d2d"/><stop offset="0.008" stop-color="#303030"/><stop offset="0.059" stop-color="#464646"/><stop offset="0.169" stop-color="#8b8b8b"/><stop offset="0.186" stop-color="#929292"/><stop offset="0.195" stop-color="#949494"/><stop offset="0.203" stop-color="#959595"/><stop offset="0.212" stop-color="#939393"/><stop offset="0.229" stop-color="#8d8d8d"/><stop offset="0.356" stop-color="#444444"/><stop offset="0.407" stop-color="#2f2f2f"/><stop offset="0.475" stop-color="#222222"/><stop offset="0.534" stop-color="#1b1b1b"/><stop offset="0.576" stop-color="#191919"/><stop offset="0.636" stop-color="#1a1a1a"/><stop offset="0.746" stop-color="#1f1f1f"/><stop offset="0.797" stop-color="#202020"/><stop offset="0.839" stop-color="#1f1f1f"/><stop offset="1.000" stop-color="#171717"/></linearGradient>
<linearGradient id="h1_42" gradientUnits="userSpaceOnUse" x1="415.5" x2="769.5"><stop offset="0.000" stop-color="#2e2e2e"/><stop offset="0.059" stop-color="#464646"/><stop offset="0.161" stop-color="#858585"/><stop offset="0.178" stop-color="#8e8e8e"/><stop offset="0.195" stop-color="#939393"/><stop offset="0.203" stop-color="#939393"/><stop offset="0.212" stop-color="#929292"/><stop offset="0.229" stop-color="#8d8d8d"/><stop offset="0.356" stop-color="#464646"/><stop offset="0.364" stop-color="#424242"/><stop offset="0.415" stop-color="#2e2e2e"/><stop offset="0.483" stop-color="#222222"/><stop offset="0.542" stop-color="#1b1b1b"/><stop offset="0.585" stop-color="#1a1a1a"/><stop offset="0.636" stop-color="#1a1a1a"/><stop offset="0.746" stop-color="#1f1f1f"/><stop offset="0.797" stop-color="#1f1f1f"/><stop offset="1.000" stop-color="#171717"/></linearGradient>
<linearGradient id="h1_43" gradientUnits="userSpaceOnUse" x1="415.5" x2="769.5"><stop offset="0.000" stop-color="#2e2e2e"/><stop offset="0.059" stop-color="#474747"/><stop offset="0.153" stop-color="#7e7e7e"/><stop offset="0.178" stop-color="#8c8c8c"/><stop offset="0.195" stop-color="#919191"/><stop offset="0.203" stop-color="#929292"/><stop offset="0.220" stop-color="#909090"/><stop offset="0.237" stop-color="#898989"/><stop offset="0.364" stop-color="#444444"/><stop offset="0.415" stop-color="#303030"/><stop offset="0.424" stop-color="#2e2e2e"/><stop offset="0.492" stop-color="#222222"/><stop offset="0.551" stop-color="#1b1b1b"/><stop offset="0.593" stop-color="#1a1a1a"/><stop offset="0.644" stop-color="#1a1a1a"/><stop offset="0.746" stop-color="#1e1e1e"/><stop offset="0.797" stop-color="#1f1f1f"/><stop offset="1.000" stop-color="#171717"/></linearGradient>
<linearGradient id="h1_44" gradientUnits="userSpaceOnUse" x1="415.5" x2="769.5"><stop offset="0.000" stop-color="#2f2f2f"/><stop offset="0.059" stop-color="#484848"/><stop offset="0.153" stop-color="#7d7d7d"/><stop offset="0.178" stop-color="#8a8a8a"/><stop offset="0.186" stop-color="#8e8e8e"/><stop offset="0.203" stop-color="#919191"/><stop offset="0.220" stop-color="#8f8f8f"/><stop offset="0.237" stop-color="#898989"/><stop offset="0.263" stop-color="#7d7d7d"/><stop offset="0.364" stop-color="#454545"/><stop offset="0.390" stop-color="#3c3c3c"/><stop offset="0.424" stop-color="#2f2f2f"/><stop offset="0.492" stop-color="#232323"/><stop offset="0.551" stop-color="#1c1c1c"/><stop offset="0.593" stop-color="#1a1a1a"/><stop offset="0.644" stop-color="#1a1a1a"/><stop offset="0.797" stop-color="#1e1e1e"/><stop offset="1.000" stop-color="#171717"/></linearGradient>
<linearGradient id="h1_45" gradientUnits="userSpaceOnUse" x1="415.5" x2="769.5"><stop offset="0.000" stop-color="#303030"/><stop offset="0.059" stop-color="#484848"/><stop offset="0.153" stop-color="#7c7c7c"/><stop offset="0.178" stop-color="#888888"/><stop offset="0.195" stop-color="#8e8e8e"/><stop offset="0.212" stop-color="#8f8f8f"/><stop offset="0.229" stop-color="#8c8c8c"/><stop offset="0.246" stop-color="#858585"/><stop offset="0.373" stop-color="#444444"/><stop offset="0.432" stop-color="#2e2e2e"/><stop offset="0.500" stop-color="#222222"/><stop offset="0.559" stop-color="#1c1c1c"/><stop offset="0.602" stop-color="#1a1a1a"/><stop offset="0.653" stop-color="#1a1a1a"/><stop offset="0.805" stop-color="#1d1d1d"/><stop offset="1.000" stop-color="#171717"/></linearGradient>
<linearGradient id="h1_46" gradientUnits="userSpaceOnUse" x1="415.5" x2="769.5"><stop offset="0.000" stop-color="#313131"/><stop offset="0.051" stop-color="#444444"/><stop offset="0.136" stop-color="#717171"/><stop offset="0.178" stop-color="#868686"/><stop offset="0.195" stop-color="#8c8c8c"/><stop offset="0.212" stop-color="#8e8e8e"/><stop offset="0.229" stop-color="#8b8b8b"/><stop offset="0.246" stop-color="#858585"/><stop offset="0.288" stop-color="#717171"/><stop offset="0.373" stop-color="#454545"/><stop offset="0.424" stop-color="#323232"/><stop offset="0.441" stop-color="#2d2d2d"/><stop offset="0.508" stop-color="#222222"/><stop offset="0.568" stop-color="#1c1c1c"/><stop offset="0.610" stop-color="#1a1a1a"/><stop offset="0.661" stop-color="#1a1a1a"/><stop offset="0.805" stop-color="#1c1c1c"/><stop offset="1.000" stop-color="#171717"/></linearGradient>
<linearGradient id="h1_47" gradientUnits="userSpaceOnUse" x1="415.5" x2="769.5"><stop offset="0.000" stop-color="#323232"/><stop offset="0.051" stop-color="#444444"/><stop offset="0.136" stop-color="#707070"/><stop offset="0.169" stop-color="#818181"/><stop offset="0.195" stop-color="#8a8a8a"/><stop offset="0.212" stop-color="#8c8c8c"/><stop offset="0.229" stop-color="#8a8a8a"/><stop offset="0.254" stop-color="#828282"/><stop offset="0.297" stop-color="#6e6e6e"/><stop offset="0.373" stop-color="#474747"/><stop offset="0.432" stop-color="#313131"/><stop offset="0.441" stop-color="#2e2e2e"/><stop offset="0.508" stop-color="#232323"/><stop offset="0.568" stop-color="#1c1c1c"/><stop offset="0.619" stop-color="#1a1a1a"/><stop offset="0.805" stop-color="#1b1b1b"/><stop offset="1.000" stop-color="#171717"/></linearGradient>
<linearGradient id="h1_48" gradientUnits="userSpaceOnUse" x1="415.5" x2="769.5"><stop offset="0.000" stop-color="#323232"/><stop offset="0.051" stop-color="#454545"/><stop offset="0.136" stop-color="#6f6f6f"/><stop offset="0.178" stop-color="#828282"/><stop offset="0.203" stop-color="#898989"/><stop offset="0.220" stop-color="#8a8a8a"/><stop offset="0.237" stop-color="#878787"/><stop offset="0.263" stop-color="#7e7e7e"/><stop offset="0.297" stop-color="#6e6e6e"/><stop offset="0.381" stop-color="#454545"/><stop offset="0.441" stop-color="#303030"/><stop offset="0.517" stop-color="#232323"/><stop offset="0.585" stop-color="#1c1c1c"/><stop offset="0.627" stop-color="#1a1a1a"/><stop offset="0.814" stop-color="#1a1a1a"/><stop offset="1.000" stop-color="#171717"/></linearGradient>
<linearGradient id="h1_49" gradientUnits="userSpaceOnUse" x1="415.5" x2="769.5"><stop offset="0.000" stop-color="#333333"/><stop offset="0.051" stop-color="#454545"/><stop offset="0.127" stop-color="#6a6a6a"/><stop offset="0.169" stop-color="#7d7d7d"/><stop offset="0.195" stop-color="#858585"/><stop offset="0.212" stop-color="#888888"/><stop offset="0.220" stop-color="#888888"/><stop offset="0.237" stop-color="#868686"/><stop offset="0.263" stop-color="#7e7e7e"/><stop offset="0.305" stop-color="#6b6b6b"/><stop offset="0.381" stop-color="#464646"/><stop offset="0.441" stop-color="#313131"/><stop offset="0.449" stop-color="#2e2e2e"/><stop offset="0.525" stop-color="#222222"/><stop offset="0.593" stop-color="#1b1b1b"/><stop offset="0.644" stop-color="#191919"/><stop offset="0.814" stop-color="#1a1a1a"/><stop offset="1.000" stop-color="#171717"/></linearGradient>
<clipPath id="hc2"><path d="M419.9 854.2 L419.9 691.7 L425.4 691.7 L425.4 675.0 L431.1 675.0 L431.1 652.0 L437.7 652.0 L437.7 667.6 L452.2 667.6 L452.2 690.0 L459.2 690.0 L459.2 738.5 L465.0 738.5 L465.0 761.5 L471.8 761.5 L471.8 770.8 L465.0 770.8 L465.0 818.4 L459.5 818.4 L459.5 854.2Z"/><rect x="425.4" y="655.4" width="5.7" height="1.1"/><rect x="425.4" y="661.2" width="5.7" height="1.1"/></clipPath>
<linearGradient id="h2_0" gradientUnits="userSpaceOnUse" x1="413.0" x2="479.0"><stop offset="0.000" stop-color="#a7a7a7"/><stop offset="0.545" stop-color="#a7a7a7"/><stop offset="1.000" stop-color="#a5a5a5"/></linearGradient>
<linearGradient id="h2_1" gradientUnits="userSpaceOnUse" x1="413.0" x2="479.0"><stop offset="0.000" stop-color="#a8a8a8"/><stop offset="0.545" stop-color="#a8a8a8"/><stop offset="1.000" stop-color="#a6a6a6"/></linearGradient>
<linearGradient id="h2_2" gradientUnits="userSpaceOnUse" x1="413.0" x2="479.0"><stop offset="0.000" stop-color="#a9a9a9"/><stop offset="0.500" stop-color="#a9a9a9"/><stop offset="1.000" stop-color="#a6a6a6"/></linearGradient>
<linearGradient id="h2_3" gradientUnits="userSpaceOnUse" x1="413.0" x2="479.0"><stop offset="0.000" stop-color="#aaaaaa"/><stop offset="0.500" stop-color="#a9a9a9"/><stop offset="1.000" stop-color="#a7a7a7"/></linearGradient>
<linearGradient id="h2_4" gradientUnits="userSpaceOnUse" x1="413.0" x2="479.0"><stop offset="0.000" stop-color="#ababab"/><stop offset="0.500" stop-color="#aaaaaa"/><stop offset="1.000" stop-color="#a7a7a7"/></linearGradient>
<linearGradient id="h2_5" gradientUnits="userSpaceOnUse" x1="413.0" x2="479.0"><stop offset="0.000" stop-color="#acacac"/><stop offset="0.545" stop-color="#ababab"/><stop offset="1.000" stop-color="#a8a8a8"/></linearGradient>
<linearGradient id="h2_6" gradientUnits="userSpaceOnUse" x1="413.0" x2="479.0"><stop offset="0.000" stop-color="#acacac"/><stop offset="0.545" stop-color="#acacac"/><stop offset="1.000" stop-color="#a8a8a8"/></linearGradient>
<linearGradient id="h2_7" gradientUnits="userSpaceOnUse" x1="413.0" x2="479.0"><stop offset="0.000" stop-color="#adadad"/><stop offset="0.545" stop-color="#adadad"/><stop offset="1.000" stop-color="#a8a8a8"/></linearGradient>
<linearGradient id="h2_8" gradientUnits="userSpaceOnUse" x1="413.0" x2="479.0"><stop offset="0.000" stop-color="#b0b0b0"/><stop offset="0.455" stop-color="#afafaf"/><stop offset="1.000" stop-color="#a9a9a9"/></linearGradient>
<linearGradient id="h2_9" gradientUnits="userSpaceOnUse" x1="413.0" x2="479.0"><stop offset="0.000" stop-color="#b2b2b2"/><stop offset="0.455" stop-color="#b2b2b2"/><stop offset="1.000" stop-color="#aaaaaa"/></linearGradient>
<linearGradient id="h2_10" gradientUnits="userSpaceOnUse" x1="413.0" x2="479.0"><stop offset="0.000" stop-color="#b7b7b7"/><stop offset="0.409" stop-color="#b7b7b7"/><stop offset="0.500" stop-color="#b4b4b4"/><stop offset="0.727" stop-color="#aeaeae"/><stop offset="1.000" stop-color="#aaaaaa"/></linearGradient>
<linearGradient id="h2_11" gradientUnits="userSpaceOnUse" x1="413.0" x2="479.0"><stop offset="0.000" stop-color="#c4c4c4"/><stop offset="0.409" stop-color="#c3c3c3"/><stop offset="0.500" stop-color="#bebebe"/><stop offset="0.591" stop-color="#b4b4b4"/><stop offset="0.773" stop-color="#aeaeae"/><stop offset="1.000" stop-color="#aaaaaa"/></linearGradient>
<linearGradient id="h2_12" gradientUnits="userSpaceOnUse" x1="413.0" x2="479.0"><stop offset="0.000" stop-color="#d1d1d1"/><stop offset="0.409" stop-color="#d0d0d0"/><stop offset="0.455" stop-color="#cecece"/><stop offset="0.500" stop-color="#c9c9c9"/><stop offset="0.636" stop-color="#b4b4b4"/><stop offset="0.818" stop-color="#adadad"/><stop offset="1.000" stop-color="#ababab"/></linearGradient>
<linearGradient id="h2_13" gradientUnits="userSpaceOnUse" x1="413.0" x2="479.0"><stop offset="0.000" stop-color="#dfdfdf"/><stop offset="0.409" stop-color="#dedede"/><stop offset="0.455" stop-color="#dadada"/><stop offset="0.500" stop-color="#d3d3d3"/><stop offset="0.682" stop-color="#b3b3b3"/><stop offset="0.818" stop-color="#aeaeae"/><stop offset="1.000" stop-color="#ababab"/></linearGradient>
<linearGradient id="h2_14" gradientUnits="userSpaceOnUse" x1="413.0" x2="479.0"><stop offset="0.000" stop-color="#efefef"/><stop offset="0.364" stop-color="#efefef"/><stop offset="0.409" stop-color="#ededed"/><stop offset="0.500" stop-color="#dbdbdb"/><stop offset="0.682" stop-color="#b6b6b6"/><stop offset="0.727" stop-color="#b2b2b2"/><stop offset="0.864" stop-color="#adadad"/><stop offset="1.000" stop-color="#ababab"/></linearGradient>
<linearGradient id="h2_15" gradientUnits="userSpaceOnUse" x1="413.0" x2="479.0"><stop offset="0.000" stop-color="#fdfdfd"/><stop offset="0.364" stop-color="#fdfdfd"/><stop offset="0.409" stop-color="#f9f9f9"/><stop offset="0.500" stop-color="#dfdfdf"/><stop offset="0.591" stop-color="#cacaca"/><stop offset="0.682" stop-color="#b7b7b7"/><stop offset="0.727" stop-color="#b3b3b3"/><stop offset="0.818" stop-color="#afafaf"/><stop offset="1.000" stop-color="#ababab"/></linearGradient>
<linearGradient id="h2_16" gradientUnits="userSpaceOnUse" x1="413.0" x2="479.0"><stop offset="0.000" stop-color="#fefefe"/><stop offset="0.364" stop-color="#fefefe"/><stop offset="0.409" stop-color="#f9f9f9"/><stop offset="0.500" stop-color="#dfdfdf"/><stop offset="0.591" stop-color="#cacaca"/><stop offset="0.682" stop-color="#b7b7b7"/><stop offset="0.727" stop-color="#b3b3b3"/><stop offset="0.818" stop-color="#afafaf"/><stop offset="1.000" stop-color="#ababab"/></linearGradient>
<linearGradient id="h2_17" gradientUnits="userSpaceOnUse" x1="413.0" x2="479.0"><stop offset="0.000" stop-color="#fefefe"/><stop offset="0.364" stop-color="#fefefe"/><stop offset="0.409" stop-color="#f9f9f9"/><stop offset="0.500" stop-color="#dfdfdf"/><stop offset="0.591" stop-color="#cacaca"/><stop offset="0.682" stop-color="#b7b7b7"/><stop offset="0.727" stop-color="#b3b3b3"/><stop offset="0.818" stop-color="#afafaf"/><stop offset="1.000" stop-color="#ababab"/></linearGradient>
<linearGradient id="h2_18" gradientUnits="userSpaceOnUse" x1="413.0" x2="479.0"><stop offset="0.000" stop-color="#fefefe"/><stop offset="0.364" stop-color="#fefefe"/><stop offset="0.409" stop-color="#f9f9f9"/><stop offset="0.500" stop-color="#dfdfdf"/><stop offset="0.591" stop-color="#cacaca"/><stop offset="0.682" stop-color="#b7b7b7"/><stop offset="0.727" stop-color="#b3b3b3"/><stop offset="0.818" stop-color="#afafaf"/><stop offset="1.000" stop-color="#ababab"/></linearGradient>
<linearGradient id="h2_19" gradientUnits="userSpaceOnUse" x1="413.0" x2="479.0"><stop offset="0.000" stop-color="#fefefe"/><stop offset="0.364" stop-color="#fefefe"/><stop offset="0.409" stop-color="#f9f9f9"/><stop offset="0.500" stop-color="#dfdfdf"/><stop offset="0.591" stop-color="#cacaca"/><stop offset="0.682" stop-color="#b7b7b7"/><stop offset="0.727" stop-color="#b3b3b3"/><stop offset="0.818" stop-color="#afafaf"/><stop offset="1.000" stop-color="#ababab"/></linearGradient>
<linearGradient id="h2_20" gradientUnits="userSpaceOnUse" x1="413.0" x2="479.0"><stop offset="0.000" stop-color="#fefefe"/><stop offset="0.364" stop-color="#fefefe"/><stop offset="0.409" stop-color="#f9f9f9"/><stop offset="0.500" stop-color="#dfdfdf"/><stop offset="0.591" stop-color="#cacaca"/><stop offset="0.682" stop-color="#b7b7b7"/><stop offset="0.727" stop-color="#b3b3b3"/><stop offset="0.818" stop-color="#afafaf"/><stop offset="1.000" stop-color="#ababab"/></linearGradient>
<linearGradient id="h2_21" gradientUnits="userSpaceOnUse" x1="413.0" x2="479.0"><stop offset="0.000" stop-color="#fefefe"/><stop offset="0.364" stop-color="#fefefe"/><stop offset="0.409" stop-color="#f9f9f9"/><stop offset="0.500" stop-color="#dfdfdf"/><stop offset="0.591" stop-color="#cacaca"/><stop offset="0.682" stop-color="#b7b7b7"/><stop offset="0.727" stop-color="#b3b3b3"/><stop offset="0.818" stop-color="#afafaf"/><stop offset="1.000" stop-color="#ababab"/></linearGradient>
<linearGradient id="h2_22" gradientUnits="userSpaceOnUse" x1="413.0" x2="479.0"><stop offset="0.000" stop-color="#fefefe"/><stop offset="0.364" stop-color="#fefefe"/><stop offset="0.409" stop-color="#f9f9f9"/><stop offset="0.500" stop-color="#dfdfdf"/><stop offset="0.591" stop-color="#cacaca"/><stop offset="0.682" stop-color="#b7b7b7"/><stop offset="0.727" stop-color="#b3b3b3"/><stop offset="0.818" stop-color="#afafaf"/><stop offset="1.000" stop-color="#ababab"/></linearGradient>
<linearGradient id="h2_23" gradientUnits="userSpaceOnUse" x1="413.0" x2="479.0"><stop offset="0.000" stop-color="#fefefe"/><stop offset="0.364" stop-color="#fefefe"/><stop offset="0.409" stop-color="#f8f8f8"/><stop offset="0.500" stop-color="#dedede"/><stop offset="0.591" stop-color="#cacaca"/><stop offset="0.682" stop-color="#b6b6b6"/><stop offset="0.727" stop-color="#b2b2b2"/><stop offset="0.818" stop-color="#afafaf"/><stop offset="1.000" stop-color="#ababab"/></linearGradient>
<linearGradient id="h2_24" gradientUnits="userSpaceOnUse" x1="413.0" x2="479.0"><stop offset="0.000" stop-color="#fefefe"/><stop offset="0.364" stop-color="#fefefe"/><stop offset="0.409" stop-color="#f7f7f7"/><stop offset="0.455" stop-color="#e9e9e9"/><stop offset="0.500" stop-color="#dddddd"/><stop offset="0.591" stop-color="#c8c8c8"/><stop offset="0.682" stop-color="#b5b5b5"/><stop offset="0.727" stop-color="#b2b2b2"/><stop offset="0.864" stop-color="#adadad"/><stop offset="1.000" stop-color="#ababab"/></linearGradient>
<linearGradient id="h2_25" gradientUnits="userSpaceOnUse" x1="413.0" x2="479.0"><stop offset="0.000" stop-color="#fefefe"/><stop offset="0.364" stop-color="#fdfdfd"/><stop offset="0.409" stop-color="#f4f4f4"/><stop offset="0.455" stop-color="#e6e6e6"/><stop offset="0.500" stop-color="#dbdbdb"/><stop offset="0.682" stop-color="#b4b4b4"/><stop offset="0.864" stop-color="#adadad"/><stop offset="1.000" stop-color="#ababab"/></linearGradient>
<linearGradient id="h2_26" gradientUnits="userSpaceOnUse" x1="413.0" x2="479.0"><stop offset="0.000" stop-color="#fcfcfc"/><stop offset="0.318" stop-color="#fcfcfc"/><stop offset="0.364" stop-color="#fbfbfb"/><stop offset="0.409" stop-color="#f1f1f1"/><stop offset="0.455" stop-color="#e4e4e4"/><stop offset="0.500" stop-color="#d9d9d9"/><stop offset="0.591" stop-color="#c5c5c5"/><stop offset="0.682" stop-color="#b4b4b4"/><stop offset="0.864" stop-color="#adadad"/><stop offset="1.000" stop-color="#ababab"/></linearGradient>
<linearGradient id="h2_27" gradientUnits="userSpaceOnUse" x1="413.0" x2="479.0"><stop offset="0.000" stop-color="#fafafa"/><stop offset="0.318" stop-color="#fafafa"/><stop offset="0.364" stop-color="#f8f8f8"/><stop offset="0.500" stop-color="#d7d7d7"/><stop offset="0.636" stop-color="#bababa"/><stop offset="0.682" stop-color="#b3b3b3"/><stop offset="0.818" stop-color="#aeaeae"/><stop offset="1.000" stop-color="#ababab"/></linearGradient>
<linearGradient id="h2_28" gradientUnits="userSpaceOnUse" x1="413.0" x2="479.0"><stop offset="0.000" stop-color="#f6f6f6"/><stop offset="0.318" stop-color="#f6f6f6"/><stop offset="0.364" stop-color="#f2f2f2"/><stop offset="0.455" stop-color="#dddddd"/><stop offset="0.591" stop-color="#c1c1c1"/><stop offset="0.636" stop-color="#b8b8b8"/><stop offset="0.682" stop-color="#b3b3b3"/><stop offset="0.818" stop-color="#aeaeae"/><stop offset="1.000" stop-color="#ababab"/></linearGradient>
<linearGradient id="h2_29" gradientUnits="userSpaceOnUse" x1="413.0" x2="479.0"><stop offset="0.000" stop-color="#f1f1f1"/><stop offset="0.318" stop-color="#f1f1f1"/><stop offset="0.364" stop-color="#ececec"/><stop offset="0.636" stop-color="#b6b6b6"/><stop offset="0.682" stop-color="#b3b3b3"/><stop offset="0.818" stop-color="#adadad"/><stop offset="1.000" stop-color="#ababab"/></linearGradient>
<linearGradient id="h2_30" gradientUnits="userSpaceOnUse" x1="413.0" x2="479.0"><stop offset="0.000" stop-color="#ececec"/><stop offset="0.318" stop-color="#ebebeb"/><stop offset="0.409" stop-color="#dedede"/><stop offset="0.636" stop-color="#b4b4b4"/><stop offset="0.818" stop-color="#adadad"/><stop offset="1.000" stop-color="#ababab"/></linearGradient>
<linearGradient id="h2_31" gradientUnits="userSpaceOnUse" x1="413.0" x2="479.0"><stop offset="0.000" stop-color="#e7e7e7"/><stop offset="0.273" stop-color="#e7e7e7"/><stop offset="0.318" stop-color="#e5e5e5"/><stop offset="0.364" stop-color="#e0e0e0"/><stop offset="0.409" stop-color="#d9d9d9"/><stop offset="0.591" stop-color="#b9b9b9"/><stop offset="0.636" stop-color="#b3b3b3"/><stop offset="0.818" stop-color="#adadad"/><stop offset="1.000" stop-color="#ababab"/></linearGradient>
<linearGradient id="h2_32" gradientUnits="userSpaceOnUse" x1="413.0" x2="479.0"><stop offset="0.000" stop-color="#e2e2e2"/><stop offset="0.273" stop-color="#e2e2e2"/><stop offset="0.318" stop-color="#e0e0e0"/><stop offset="0.409" stop-color="#d4d4d4"/><stop offset="0.591" stop-color="#b6b6b6"/><stop offset="0.636" stop-color="#b3b3b3"/><stop offset="0.773" stop-color="#aeaeae"/><stop offset="1.000" stop-color="#aaaaaa"/></linearGradient>
<linearGradient id="h2_33" gradientUnits="userSpaceOnUse" x1="413.0" x2="479.0"><stop offset="0.000" stop-color="#dedede"/><stop offset="0.273" stop-color="#dedede"/><stop offset="0.318" stop-color="#dbdbdb"/><stop offset="0.364" stop-color="#d6d6d6"/><stop offset="0.591" stop-color="#b3b3b3"/><stop offset="0.773" stop-color="#adadad"/><stop offset="1.000" stop-color="#aaaaaa"/></linearGradient>
<linearGradient id="h2_34" gradientUnits="userSpaceOnUse" x1="413.0" x2="479.0"><stop offset="0.000" stop-color="#dadada"/><stop offset="0.227" stop-color="#dadada"/><stop offset="0.273" stop-color="#d9d9d9"/><stop offset="0.364" stop-color="#d1d1d1"/><stop offset="0.545" stop-color="#b6b6b6"/><stop offset="0.591" stop-color="#b3b3b3"/><stop offset="0.773" stop-color="#adadad"/><stop offset="1.000" stop-color="#aaaaaa"/></linearGradient>
<linearGradient id="h2_35" gradientUnits="userSpaceOnUse" x1="413.0" x2="479.0"><stop offset="0.000" stop-color="#d6d6d6"/><stop offset="0.227" stop-color="#d6d6d6"/><stop offset="0.273" stop-color="#d4d4d4"/><stop offset="0.364" stop-color="#cccccc"/><stop offset="0.545" stop-color="#b4b4b4"/><stop offset="0.727" stop-color="#aeaeae"/><stop offset="1.000" stop-color="#aaaaaa"/></linearGradient>
<linearGradient id="h2_36" gradientUnits="userSpaceOnUse" x1="413.0" x2="479.0"><stop offset="0.000" stop-color="#d2d2d2"/><stop offset="0.182" stop-color="#d2d2d2"/><stop offset="0.227" stop-color="#d2d2d2"/><stop offset="0.273" stop-color="#d0d0d0"/><stop offset="0.364" stop-color="#c7c7c7"/><stop offset="0.500" stop-color="#b5b5b5"/><stop offset="0.545" stop-color="#b3b3b3"/><stop offset="0.727" stop-color="#adadad"/><stop offset="1.000" stop-color="#aaaaaa"/></linearGradient>
<linearGradient id="h2_37" gradientUnits="userSpaceOnUse" x1="413.0" x2="479.0"><stop offset="0.000" stop-color="#cfcfcf"/><stop offset="0.182" stop-color="#cfcfcf"/><stop offset="0.227" stop-color="#cdcdcd"/><stop offset="0.318" stop-color="#c7c7c7"/><stop offset="0.455" stop-color="#b7b7b7"/><stop offset="0.500" stop-color="#b3b3b3"/><stop offset="0.727" stop-color="#adadad"/><stop offset="1.000" stop-color="#aaaaaa"/></linearGradient>
<linearGradient id="h2_38" gradientUnits="userSpaceOnUse" x1="413.0" x2="479.0"><stop offset="0.000" stop-color="#cbcbcb"/><stop offset="0.182" stop-color="#cbcbcb"/><stop offset="0.227" stop-color="#c9c9c9"/><stop offset="0.318" stop-color="#c2c2c2"/><stop offset="0.455" stop-color="#b4b4b4"/><stop offset="0.682" stop-color="#aeaeae"/><stop offset="1.000" stop-color="#aaaaaa"/></linearGradient>
<linearGradient id="h2_39" gradientUnits="userSpaceOnUse" x1="413.0" x2="479.0"><stop offset="0.000" stop-color="#c7c7c7"/><stop offset="0.182" stop-color="#c7c7c7"/><stop offset="0.227" stop-color="#c5c5c5"/><stop offset="0.318" stop-color="#bfbfbf"/><stop offset="0.409" stop-color="#b6b6b6"/><stop offset="0.455" stop-color="#b3b3b3"/><stop offset="0.682" stop-color="#adadad"/><stop offset="1.000" stop-color="#aaaaaa"/></linearGradient>
<linearGradient id="h2_40" gradientUnits="userSpaceOnUse" x1="413.0" x2="479.0"><stop offset="0.000" stop-color="#c3c3c3"/><stop offset="0.182" stop-color="#c3c3c3"/><stop offset="0.227" stop-color="#c2c2c2"/><stop offset="0.318" stop-color="#bcbcbc"/><stop offset="0.409" stop-color="#b4b4b4"/><stop offset="0.682" stop-color="#adadad"/><stop offset="1.000" stop-color="#a9a9a9"/></linearGradient>
<linearGradient id="h2_41" gradientUnits="userSpaceOnUse" x1="413.0" x2="479.0"><stop offset="0.000" stop-color="#c0c0c0"/><stop offset="0.182" stop-color="#c0c0c0"/><stop offset="0.273" stop-color="#bcbcbc"/><stop offset="0.364" stop-color="#b5b5b5"/><stop offset="0.409" stop-color="#b3b3b3"/><stop offset="0.636" stop-color="#aeaeae"/><stop offset="1.000" stop-color="#a9a9a9"/></linearGradient>
<linearGradient id="h2_42" gradientUnits="userSpaceOnUse" x1="413.0" x2="479.0"><stop offset="0.000" stop-color="#bcbcbc"/><stop offset="0.182" stop-color="#bcbcbc"/><stop offset="0.273" stop-color="#b9b9b9"/><stop offset="0.364" stop-color="#b4b4b4"/><stop offset="0.636" stop-color="#adadad"/><stop offset="1.000" stop-color="#a9a9a9"/></linearGradient>
<linearGradient id="h2_43" gradientUnits="userSpaceOnUse" x1="413.0" x2="479.0"><stop offset="0.000" stop-color="#b9b9b9"/><stop offset="0.182" stop-color="#b9b9b9"/><stop offset="0.318" stop-color="#b4b4b4"/><stop offset="0.636" stop-color="#adadad"/><stop offset="1.000" stop-color="#a9a9a9"/></linearGradient>
<linearGradient id="h2_44" gradientUnits="userSpaceOnUse" x1="413.0" x2="479.0"><stop offset="0.000" stop-color="#b6b6b6"/><stop offset="0.182" stop-color="#b5b5b5"/><stop offset="0.591" stop-color="#aeaeae"/><stop offset="1.000" stop-color="#a9a9a9"/></linearGradient>
<linearGradient id="h2_45" gradientUnits="userSpaceOnUse" x1="413.0" x2="479.0"><stop offset="0.000" stop-color="#b3b3b3"/><stop offset="0.273" stop-color="#b3b3b3"/><stop offset="0.591" stop-color="#adadad"/><stop offset="1.000" stop-color="#a9a9a9"/></linearGradient>
</defs>
<g clip-path="url(#hd1)"><rect x="167.0" y="59.6" width="180" height="210" fill="#c4bcb8"/><path d="M171.0 58.6L343.0 58.6L343.0 268.6L171.0 268.6L171.0 58.6ZM289.0 68.0L287.0 68.6L284.0 70.6L282.7 72.6L282.4 74.6L282.9 76.6L284.2 78.6L286.2 80.6L289.1 82.6L293.6 84.6L297.0 85.6L305.0 86.7L309.0 86.3L311.0 85.8L313.3 84.6L314.9 82.6L315.3 80.6L315.0 78.6L313.9 76.6L311.0 73.4L307.0 70.7L301.9 68.6L297.0 67.6L293.0 67.4L289.0 68.0Z" fill="#d8c8a0" fill-rule="evenodd" stroke="#6b4a10" stroke-opacity="0.45" stroke-width="0.60"/><path d="M171.0 58.6L343.0 58.6L343.0 268.6L171.0 268.6L171.0 58.6ZM281.0 60.2L275.0 62.4L271.8 64.6L269.9 66.6L268.7 68.6L268.1 70.6L268.3 74.6L270.2 78.6L273.0 81.8L276.6 84.6L283.0 88.0L290.2 90.6L298.5 92.6L307.0 93.7L313.0 93.9L319.0 93.2L323.0 91.6L324.6 90.6L326.5 88.6L327.5 86.6L327.9 84.6L327.9 82.6L326.9 78.6L325.0 75.3L322.8 72.6L319.0 69.1L315.5 66.6L307.6 62.6L299.0 60.1L293.0 59.3L289.0 59.2L281.0 60.2Z" fill="#ecd890" fill-rule="evenodd" stroke="#6b4a10" stroke-opacity="0.45" stroke-width="0.60"/><path d="M171.0 58.6L263.4 58.6L260.8 60.6L257.4 64.6L256.4 66.6L255.5 70.6L256.1 74.6L258.1 78.6L261.5 82.6L263.8 84.6L269.0 88.0L274.1 90.6L286.0 94.6L294.9 96.6L305.0 98.3L313.0 99.2L319.0 99.4L327.0 98.4L331.0 96.8L333.0 95.5L335.0 93.5L336.8 90.6L337.4 88.6L337.6 84.6L336.8 80.6L335.0 76.6L330.6 70.6L327.0 67.2L323.0 64.1L313.4 58.6L343.0 58.6L343.0 268.6L171.0 268.6L171.0 58.6Z" fill="#f8e488" fill-rule="evenodd" stroke="#6b4a10" stroke-opacity="0.45" stroke-width="0.60"/><path d="M171.0 58.6L247.4 58.6L244.1 62.6L242.1 66.6L241.6 68.6L241.6 72.6L243.0 76.6L245.9 80.6L250.2 84.6L256.1 88.6L265.0 93.0L275.0 96.5L283.9 98.6L307.0 102.6L321.0 104.4L329.0 104.4L335.0 103.2L339.0 101.4L343.0 98.1L343.0 268.6L171.0 268.6L171.0 265.2L173.6 266.6L177.0 267.1L179.0 266.7L181.0 265.7L184.3 262.6L186.7 258.6L188.1 254.6L189.0 250.6L189.2 246.6L188.8 242.6L187.7 238.6L185.8 234.6L183.0 230.7L180.8 228.6L177.0 226.2L173.0 225.2L171.0 225.4L171.0 58.6ZM255.0 186.5L252.4 188.6L250.0 192.6L248.7 196.6L248.0 202.6L248.5 208.6L250.0 212.6L251.0 214.2L253.0 215.9L255.0 216.6L257.0 216.3L259.0 215.2L261.4 212.6L263.0 209.7L264.0 206.6L264.8 200.6L264.0 194.6L263.0 191.5L261.2 188.6L259.0 186.7L257.0 186.2L255.0 186.5ZM325.6 58.6L343.0 58.6L343.0 75.6L339.5 70.6L335.8 66.6L331.2 62.6L325.6 58.6Z" fill="#fcdc78" fill-rule="evenodd" stroke="#6b4a10" stroke-opacity="0.45" stroke-width="0.60"/><path d="M171.0 58.6L228.7 58.6L223.7 64.6L221.8 68.6L221.2 72.6L222.3 76.6L225.2 80.6L227.4 82.6L233.6 86.6L241.6 90.6L251.2 94.6L259.0 97.3L267.0 99.6L275.0 101.3L299.0 104.8L327.0 109.5L335.0 109.8L339.0 109.3L343.0 108.2L343.0 268.6L191.5 268.6L193.3 264.6L195.0 259.1L196.4 250.6L196.1 242.6L194.5 236.6L191.0 230.2L185.0 223.2L181.0 219.8L177.0 217.2L171.0 214.9L171.0 58.6ZM253.0 178.5L251.0 179.9L249.0 182.1L247.0 185.3L245.5 188.6L243.4 196.6L242.6 206.6L243.6 214.6L244.9 218.6L246.0 220.6L247.5 222.6L249.9 224.6L253.0 225.8L255.0 225.9L259.0 224.7L261.0 223.3L263.5 220.6L266.0 216.6L267.7 212.6L268.7 208.6L269.3 204.6L269.3 198.6L268.8 194.6L267.3 188.6L265.0 183.7L263.0 180.9L261.0 179.1L259.0 178.0L257.0 177.6L255.0 177.8L253.0 178.5ZM336.6 58.6L343.0 58.6L343.0 64.1L336.6 58.6Z" fill="#fcd068" fill-rule="evenodd" stroke="#6b4a10" stroke-opacity="0.45" stroke-width="0.60"/><path d="M171.0 58.6L201.6 58.6L197.0 63.2L193.5 68.6L192.3 72.6L192.2 74.6L193.1 78.6L195.9 82.6L201.0 86.6L209.0 90.6L217.0 93.5L233.0 97.9L261.0 104.1L271.0 105.4L299.0 108.1L309.0 109.9L331.0 115.0L337.0 115.8L343.0 116.0L343.0 268.6L199.8 268.6L202.6 256.6L203.4 248.6L203.3 244.6L202.7 240.6L200.7 234.6L196.9 228.6L189.6 220.6L179.0 211.7L171.0 206.7L171.0 58.6ZM255.0 170.5L251.0 171.9L249.0 173.3L246.1 176.6L243.7 180.6L241.3 186.6L239.7 192.6L238.5 198.6L237.8 206.6L238.2 216.6L239.0 220.7L241.0 225.8L243.0 228.8L247.0 232.1L249.0 233.0L253.0 233.7L257.0 233.1L261.0 231.2L264.2 228.6L267.0 225.2L269.0 221.8L271.1 216.6L272.6 210.6L273.2 204.6L273.0 198.3L271.7 190.6L269.8 184.6L267.0 178.6L264.0 174.6L261.0 172.0L259.0 171.0L255.0 170.5Z" fill="#fcc058" fill-rule="evenodd" stroke="#6b4a10" stroke-opacity="0.45" stroke-width="0.60"/><path d="M171.0 92.6L171.0 92.0L175.0 93.9L179.0 95.1L201.0 99.5L223.0 105.2L235.0 107.4L259.0 110.0L289.0 110.4L303.0 111.9L315.0 114.8L335.0 121.3L343.0 123.5L343.0 268.6L207.7 268.6L210.7 252.6L211.5 246.6L211.3 240.6L209.3 234.6L206.7 230.6L201.1 224.6L171.0 199.3L171.0 92.6ZM251.0 164.2L247.0 166.7L243.6 170.6L241.0 175.0L238.7 180.6L236.3 188.6L234.2 198.6L232.4 210.6L231.9 218.6L232.3 224.6L233.3 228.6L235.0 232.1L236.9 234.6L239.0 236.6L243.0 239.0L247.0 240.4L251.0 240.9L257.0 240.1L261.0 238.5L265.0 235.8L269.0 231.7L272.2 226.6L274.7 220.6L276.1 214.6L276.9 206.6L276.4 198.6L275.0 190.6L272.6 182.6L269.0 174.6L265.0 168.8L261.0 165.3L257.0 163.7L253.0 163.6L251.0 164.2Z" fill="#fcb048" fill-rule="evenodd" stroke="#6b4a10" stroke-opacity="0.45" stroke-width="0.60"/><path d="M190.0 106.6L197.0 106.9L203.0 107.9L227.0 114.7L233.0 116.0L241.0 117.0L249.0 117.3L257.0 117.1L285.0 113.9L293.0 113.9L301.0 114.7L311.0 116.9L321.0 120.4L330.2 124.6L343.0 131.7L343.0 268.6L216.9 268.6L218.3 260.6L220.5 254.6L223.0 250.4L225.0 248.3L227.0 247.0L231.0 246.3L245.0 247.9L251.0 247.8L255.0 247.2L259.0 246.1L263.0 244.4L267.0 242.0L271.0 238.6L274.3 234.6L276.6 230.6L278.3 226.6L279.9 220.6L280.8 210.6L279.8 198.6L277.5 188.6L275.0 180.6L272.6 174.6L269.0 167.5L265.0 162.0L261.0 158.3L257.0 156.3L253.0 155.7L249.0 156.6L245.0 159.0L241.7 162.6L239.0 167.0L235.0 177.5L228.7 202.6L225.7 212.6L223.0 218.6L221.0 221.3L219.0 222.7L217.0 223.4L213.0 223.1L207.0 220.9L201.0 217.7L189.0 209.4L177.1 198.6L171.0 192.0L171.0 110.1L181.0 107.5L190.0 106.6Z" fill="#fca038" fill-rule="evenodd" stroke="#6b4a10" stroke-opacity="0.45" stroke-width="0.60"/><path d="M185.0 114.6L189.0 113.7L195.0 113.3L199.0 113.6L205.0 114.7L215.0 118.2L235.0 127.2L241.0 129.1L245.0 129.8L251.0 129.2L255.0 127.8L269.0 121.7L279.1 118.6L285.0 117.5L291.0 117.1L301.0 117.7L311.0 120.0L321.0 124.2L325.4 126.6L331.3 130.6L338.2 136.6L343.0 142.4L343.0 264.4L339.6 268.6L230.1 268.6L231.0 264.3L233.0 261.4L235.0 259.8L239.0 257.9L257.0 253.9L265.0 250.9L271.0 247.6L275.0 244.7L279.0 240.7L281.0 238.1L282.9 234.6L284.4 230.6L285.6 224.6L285.9 218.6L285.6 212.6L284.4 204.6L280.5 188.6L277.0 177.9L273.0 168.1L269.0 160.3L265.0 154.2L261.0 149.5L257.0 146.2L253.0 144.2L249.0 143.8L245.0 145.5L243.0 147.2L239.0 152.4L237.0 156.3L233.0 167.8L228.0 188.6L225.7 196.6L222.5 204.6L219.0 209.9L217.0 211.8L213.0 213.8L211.0 214.2L207.0 214.0L203.0 213.0L199.0 211.4L195.0 209.1L189.0 204.9L184.1 200.6L178.4 194.6L173.8 188.6L171.0 184.2L171.0 122.6L177.0 118.0L181.0 116.0L185.0 114.6Z" fill="#fc8c28" fill-rule="evenodd" stroke="#6b4a10" stroke-opacity="0.45" stroke-width="0.60"/><path d="M186.4 120.6L193.0 119.0L199.0 119.1L205.0 120.3L211.0 122.7L217.7 126.6L224.7 132.6L227.8 136.6L230.2 142.6L230.7 146.6L230.6 150.6L229.5 160.6L226.4 178.6L223.3 190.6L220.0 198.6L217.0 203.1L213.0 206.5L209.0 208.1L205.0 208.3L199.0 206.8L193.0 203.6L187.0 198.9L182.7 194.6L178.1 188.6L174.5 182.6L171.0 174.6L171.0 135.3L173.7 130.6L177.1 126.6L181.0 123.4L186.4 120.6ZM289.3 120.6L297.0 120.3L303.0 121.0L311.0 123.2L317.0 125.8L323.0 129.4L329.4 134.6L333.1 138.6L337.1 144.6L340.6 152.6L343.0 162.5L343.0 210.0L342.5 212.6L341.0 218.1L339.0 223.5L336.4 228.6L333.0 233.9L327.0 240.9L317.2 250.6L306.9 262.6L302.4 266.6L299.5 268.6L255.9 268.6L256.7 266.6L258.8 264.6L262.0 262.6L281.0 253.6L290.2 248.6L294.7 244.6L296.8 240.6L297.4 236.6L297.0 232.6L293.8 220.6L279.3 176.6L275.0 165.1L267.9 148.6L266.5 144.6L265.6 140.6L265.6 136.6L266.2 134.6L268.5 130.6L270.4 128.6L275.0 125.3L279.0 123.3L283.0 121.9L289.3 120.6Z" fill="#f87418" fill-rule="evenodd" stroke="#6b4a10" stroke-opacity="0.45" stroke-width="0.60"/><path d="M191.2 124.6L197.0 124.0L201.0 124.4L207.0 126.4L211.0 128.6L216.1 132.6L219.5 136.6L221.9 140.6L224.0 146.6L225.0 154.6L224.7 164.6L223.6 174.6L221.4 184.6L218.3 192.6L215.0 197.9L211.0 201.5L207.0 203.1L203.0 203.4L197.0 201.8L191.0 198.2L185.0 192.6L180.5 186.6L177.2 180.6L174.1 172.6L172.7 166.6L171.8 158.6L172.1 150.6L173.2 144.6L175.3 138.6L177.5 134.6L181.0 130.3L186.1 126.6L191.2 124.6ZM287.7 124.6L295.0 123.5L303.0 124.1L311.0 126.4L317.0 129.4L323.0 133.8L327.8 138.6L331.9 144.6L335.5 152.6L337.9 162.6L339.2 174.6L339.3 186.6L338.1 198.6L336.2 206.6L333.0 213.6L329.0 218.6L327.0 220.3L323.0 222.5L321.0 223.2L317.0 223.8L313.0 223.3L311.0 222.7L305.0 219.4L301.0 215.7L297.0 210.6L293.0 203.8L289.0 195.1L283.5 180.6L273.9 152.6L272.6 146.6L272.2 140.6L273.1 136.6L273.9 134.6L276.9 130.6L279.2 128.6L282.4 126.6L287.7 124.6Z" fill="#f45c10" fill-rule="evenodd" stroke="#6b4a10" stroke-opacity="0.45" stroke-width="0.60"/><path d="M287.9 128.6L291.0 127.6L295.0 126.9L301.0 127.0L307.0 128.2L313.0 130.7L318.8 134.6L323.1 138.6L327.5 144.6L330.5 150.6L333.0 158.6L334.7 168.6L335.2 180.6L334.4 190.6L332.7 198.6L330.3 204.6L327.0 209.1L325.0 210.9L321.0 213.0L317.0 213.8L313.0 213.5L307.0 211.2L303.0 208.4L299.0 204.4L295.0 198.9L291.0 191.7L287.0 182.5L282.7 170.6L279.0 158.6L277.3 150.6L276.9 144.6L278.0 138.6L280.1 134.6L284.2 130.6L287.9 128.6ZM188.9 130.6L193.0 129.2L199.0 128.9L203.0 129.8L208.5 132.6L213.0 136.5L216.1 140.6L218.2 144.6L220.0 150.6L221.1 158.6L221.0 166.6L220.2 174.6L218.4 182.6L216.1 188.6L213.0 193.6L209.0 197.2L205.0 198.7L201.0 198.8L197.0 197.8L193.0 195.6L189.0 192.4L185.0 187.9L181.5 182.6L178.8 176.6L176.9 170.6L175.8 164.6L175.4 158.6L175.7 152.6L176.9 146.6L179.0 141.0L181.7 136.6L185.0 133.1L188.9 130.6Z" fill="#f04010" fill-rule="evenodd" stroke="#6b4a10" stroke-opacity="0.45" stroke-width="0.60"/><path d="M294.4 130.6L299.0 130.2L305.0 131.0L309.6 132.6L315.0 135.7L319.0 139.1L323.0 143.9L325.8 148.6L328.2 154.6L330.2 162.6L331.3 170.6L331.4 180.6L330.5 188.6L329.0 194.6L326.0 200.6L323.0 203.9L319.0 206.0L315.0 206.6L311.0 206.0L305.0 203.1L301.0 199.8L297.0 195.1L293.0 188.8L289.0 180.4L285.4 170.6L283.0 162.6L281.3 154.6L280.8 148.6L281.5 142.6L283.0 138.6L286.2 134.6L289.0 132.6L294.4 130.6ZM191.4 134.6L195.0 133.6L199.0 133.6L203.0 134.7L207.0 137.0L210.7 140.6L213.5 144.6L215.3 148.6L216.9 154.6L217.7 160.6L217.7 168.6L216.6 176.6L215.0 182.2L213.0 186.7L210.2 190.6L207.0 193.2L203.0 194.5L199.0 194.3L195.0 192.8L191.7 190.6L189.0 188.1L186.2 184.6L183.0 179.2L181.1 174.6L179.5 168.6L178.7 162.6L178.8 156.6L179.6 150.6L180.8 146.6L182.7 142.6L185.0 139.3L187.9 136.6L191.4 134.6Z" fill="#ec2410" fill-rule="evenodd" stroke="#6b4a10" stroke-opacity="0.45" stroke-width="0.60"/><path d="M294.6 134.6L299.0 133.8L303.0 134.1L309.0 135.9L313.0 138.3L317.0 141.8L319.4 144.6L322.0 148.6L324.7 154.6L326.5 160.6L327.7 168.6L328.0 176.6L327.3 184.6L325.7 190.6L323.7 194.6L321.0 197.8L317.0 200.0L313.0 200.3L309.0 199.4L305.0 197.3L301.0 193.9L298.1 190.6L295.0 186.0L291.2 178.6L288.8 172.6L286.4 164.6L285.0 158.6L284.4 152.6L284.7 146.6L285.9 142.6L288.4 138.6L291.0 136.3L294.6 134.6ZM194.5 138.6L197.0 138.3L201.0 138.9L204.3 140.6L207.0 142.8L209.0 145.1L211.1 148.6L213.0 153.5L214.1 158.6L214.5 162.6L214.5 168.6L213.7 174.6L212.7 178.6L211.0 182.6L209.0 185.8L206.0 188.6L203.0 190.0L201.0 190.3L197.0 189.6L193.0 187.3L190.1 184.6L187.1 180.6L185.0 176.6L183.0 170.7L182.2 166.6L181.8 160.6L182.0 156.6L182.7 152.6L184.0 148.6L186.2 144.6L189.0 141.4L191.0 140.0L194.5 138.6Z" fill="#dc1414" fill-rule="evenodd" stroke="#6b4a10" stroke-opacity="0.45" stroke-width="0.60"/><path d="M296.1 138.6L299.0 137.9L303.0 137.9L307.0 139.0L311.0 141.1L315.0 144.5L317.0 146.9L319.4 150.6L322.0 156.6L323.6 162.6L324.4 168.6L324.6 174.6L324.1 180.6L323.0 185.1L321.0 189.5L318.2 192.6L315.0 194.2L313.0 194.5L309.0 193.9L305.0 191.8L301.0 188.3L298.0 184.6L295.0 179.7L291.0 170.5L289.3 164.6L288.1 158.6L287.8 152.6L288.3 148.6L289.6 144.6L291.0 142.3L293.0 140.3L296.1 138.6ZM192.7 144.6L195.0 143.7L197.0 143.4L201.0 144.2L203.0 145.3L205.0 147.0L207.7 150.6L209.5 154.6L210.6 158.6L211.2 162.6L211.2 168.6L210.7 172.6L209.6 176.6L207.7 180.6L206.2 182.6L203.6 184.6L201.0 185.5L199.0 185.5L196.1 184.6L193.0 182.5L191.1 180.6L187.5 174.6L185.7 168.6L185.1 164.6L185.0 160.6L185.9 154.6L187.0 151.4L188.5 148.6L191.0 145.8L192.7 144.6Z" fill="#c41018" fill-rule="evenodd" stroke="#6b4a10" stroke-opacity="0.45" stroke-width="0.60"/><path d="M299.1 142.6L301.0 142.3L305.0 142.7L309.0 144.4L311.0 145.9L315.2 150.6L317.5 154.6L319.1 158.6L320.1 162.6L321.0 168.6L320.9 174.6L320.3 178.6L319.0 182.8L317.0 185.9L315.0 187.5L313.0 188.3L311.0 188.5L307.0 187.4L303.0 184.6L301.1 182.6L297.0 176.6L295.0 172.4L293.0 166.7L291.5 158.6L291.4 154.6L292.0 150.6L293.0 147.9L295.0 145.0L297.0 143.5L299.1 142.6ZM193.6 150.6L195.0 149.8L197.0 149.3L199.0 149.5L201.0 150.4L203.0 152.0L204.9 154.6L207.0 160.0L207.6 166.6L206.7 172.6L204.9 176.6L203.0 178.8L201.0 179.8L199.0 180.1L197.0 179.6L195.0 178.5L193.0 176.6L191.7 174.6L189.2 168.6L188.6 164.6L189.0 158.6L191.0 153.4L193.6 150.6Z" fill="#a80c20" fill-rule="evenodd" stroke="#6b4a10" stroke-opacity="0.45" stroke-width="0.60"/><rect x="167.0" y="59.6" width="180" height="210" fill="url(#shade1)"/><path d="M257.0 64.6C264.5 64.6 271.9 65.5 279.4 68.2C286.9 70.9 295.3 75.6 301.8 80.6C308.3 85.6 314.0 92.1 318.5 98.1C323.0 104.1 326.5 109.9 329.0 116.6C331.5 123.3 332.4 131.1 333.5 138.1C334.6 145.1 334.9 151.8 335.3 158.6C335.8 165.3 336.1 172.6 336.2 178.6C336.3 184.6 336.2 189.4 335.8 194.6C335.4 199.8 334.8 205.8 334.0 209.6C333.2 213.4 332.0 214.6 331.0 217.6C330.0 220.6 328.9 224.3 328.0 227.6C327.1 230.9 326.4 233.9 325.4 237.6C324.4 241.3 323.4 246.3 322.0 249.6C320.6 252.9 319.5 255.4 317.0 257.2C314.5 259.0 312.8 259.7 307.0 260.2C301.2 260.7 290.3 260.2 282.0 260.2C273.7 260.2 265.3 260.0 257.0 260.0C248.7 260.0 240.3 260.2 232.0 260.2C223.7 260.2 212.8 260.7 207.0 260.2C201.2 259.7 199.5 259.0 197.0 257.2C194.5 255.4 193.4 252.9 192.0 249.6C190.6 246.3 189.6 241.3 188.6 237.6C187.6 233.9 186.9 230.9 186.0 227.6C185.1 224.3 184.0 220.6 183.0 217.6C182.0 214.6 180.8 213.4 180.0 209.6C179.2 205.8 178.6 199.8 178.2 194.6C177.8 189.4 177.7 184.6 177.8 178.6C177.9 172.6 178.2 165.3 178.7 158.6C179.1 151.8 179.4 145.1 180.5 138.1C181.6 131.1 182.5 123.3 185.0 116.6C187.5 109.9 191.0 104.1 195.5 98.1C200.0 92.1 205.7 85.6 212.2 80.6C218.7 75.6 227.1 70.9 234.6 68.2C242.1 65.5 249.5 64.6 257.0 64.6Z" fill="none" stroke="url(#rim1)" stroke-width="7" filter="url(#b3)"/></g>
<g clip-path="url(#hd2)"><rect x="165.8" y="361.2" width="180" height="210" fill="#e3c98c"/><path d="M169.8 360.2L341.8 360.2L341.8 570.2L169.8 570.2L169.8 360.2ZM239.8 410.1L237.0 412.2L235.5 414.2L234.6 416.2L234.2 420.2L235.4 424.2L237.8 427.2L241.8 429.5L245.8 430.0L249.8 429.0L253.4 426.2L254.7 424.2L255.4 422.2L255.7 418.2L254.2 414.2L251.8 411.5L247.8 409.4L243.8 409.0L239.8 410.1Z" fill="#f4c961" fill-rule="evenodd" stroke="#6b4a10" stroke-opacity="0.45" stroke-width="0.60"/><path d="M169.8 360.2L191.0 360.2L189.3 364.2L187.7 370.2L187.1 374.2L186.9 380.2L187.3 384.2L188.7 390.2L192.7 400.2L201.8 416.2L217.8 442.4L223.8 451.4L227.8 456.4L231.8 460.2L235.8 462.5L239.8 463.3L243.8 462.7L247.8 460.8L251.8 457.6L255.8 452.9L259.8 446.5L263.8 438.5L267.2 430.2L268.8 424.2L270.0 416.2L270.5 406.2L270.4 396.2L269.8 388.2L268.4 380.2L266.0 372.2L263.5 366.2L260.1 360.2L341.8 360.2L341.8 570.2L169.8 570.2L169.8 360.2Z" fill="#f3c45a" fill-rule="evenodd" stroke="#6b4a10" stroke-opacity="0.45" stroke-width="0.60"/><path d="M308.9 404.2L311.8 402.9L315.8 402.4L319.8 403.3L321.8 404.3L325.8 407.4L328.2 410.2L331.0 414.2L334.1 420.2L336.5 426.2L338.3 432.2L341.2 446.2L341.8 452.1L341.8 478.9L340.4 490.2L337.2 504.2L333.7 514.2L329.8 522.2L325.8 528.4L322.5 532.2L319.8 534.6L315.8 537.2L313.8 538.0L309.8 538.9L307.8 538.9L305.8 538.7L301.8 537.3L297.8 534.7L293.5 530.2L290.8 526.2L288.6 522.2L285.5 514.2L283.5 506.2L282.1 496.2L281.7 486.2L282.2 474.2L284.1 460.2L287.0 446.2L290.5 434.2L295.2 422.2L299.8 413.7L303.8 408.4L305.8 406.4L308.9 404.2ZM179.1 436.2L181.8 434.8L183.8 434.4L185.8 434.5L189.8 435.7L193.8 438.4L199.8 444.7L204.8 452.2L209.0 460.2L213.1 470.2L216.7 482.2L219.1 494.2L220.1 504.2L220.1 514.2L219.0 524.2L216.8 532.2L213.8 538.3L211.8 541.0L209.8 542.8L205.8 544.7L201.8 544.8L197.8 543.5L193.8 540.8L191.8 538.9L187.8 534.2L182.8 526.2L179.0 518.2L175.3 508.2L173.1 500.2L171.0 490.2L169.8 481.2L169.8 457.8L171.2 450.2L173.2 444.2L175.8 439.5L179.1 436.2Z" fill="#f2b84a" fill-rule="evenodd" stroke="#6b4a10" stroke-opacity="0.45" stroke-width="0.60"/><path d="M310.8 434.2L313.8 433.6L315.8 434.0L317.8 434.9L321.4 438.2L323.8 441.9L326.3 448.2L327.8 454.2L328.6 460.2L328.8 468.2L328.4 474.2L327.2 482.2L325.5 488.2L323.1 494.2L319.8 499.7L317.5 502.2L313.8 504.8L309.8 505.6L307.8 505.2L305.8 504.3L303.8 502.7L301.6 500.2L299.3 496.2L297.8 492.2L296.2 486.2L295.4 480.2L295.1 472.2L295.5 466.2L296.7 458.2L299.8 447.7L302.5 442.2L305.3 438.2L307.8 435.8L310.8 434.2ZM186.9 460.2L187.8 459.5L189.8 459.0L191.8 459.2L193.8 460.2L197.8 464.1L199.8 467.1L202.4 472.2L205.8 482.6L207.5 494.2L207.5 500.2L207.1 504.2L205.8 509.3L204.4 512.2L201.8 515.0L199.8 515.7L197.8 515.6L195.8 514.7L192.9 512.2L189.8 508.2L186.0 500.2L183.6 492.2L182.1 482.2L182.1 472.2L183.8 464.7L185.8 461.2L186.9 460.2Z" fill="#f0a93a" fill-rule="evenodd" stroke="#6b4a10" stroke-opacity="0.45" stroke-width="0.60"/><path d="M309.1 452.2L311.8 450.5L313.8 450.4L315.8 451.3L316.8 452.2L318.3 454.2L319.8 457.6L321.1 464.2L320.9 472.2L320.2 476.2L318.9 480.2L317.8 482.6L315.8 485.4L313.8 487.0L311.8 487.7L309.8 487.4L307.8 486.0L306.4 484.2L304.6 480.2L303.4 474.2L303.3 468.2L304.2 462.2L306.3 456.2L309.1 452.2Z" fill="#ee9a2c" fill-rule="evenodd" stroke="#6b4a10" stroke-opacity="0.45" stroke-width="0.60"/><rect x="165.8" y="361.2" width="180" height="210" fill="url(#shade2)"/><path d="M255.8 366.2C263.3 366.2 270.7 367.1 278.2 369.8C285.7 372.5 294.1 377.2 300.6 382.2C307.1 387.2 312.8 393.7 317.3 399.7C321.8 405.7 325.3 411.5 327.8 418.2C330.3 424.9 331.2 432.7 332.3 439.7C333.4 446.7 333.7 453.4 334.1 460.2C334.6 466.9 334.9 474.2 335.0 480.2C335.1 486.2 335.0 491.0 334.6 496.2C334.2 501.4 333.6 507.4 332.8 511.2C332.0 515.0 330.8 516.2 329.8 519.2C328.8 522.2 327.7 525.9 326.8 529.2C325.9 532.5 325.2 535.5 324.2 539.2C323.2 542.9 322.2 547.9 320.8 551.2C319.4 554.5 318.3 557.0 315.8 558.8C313.3 560.6 311.6 561.3 305.8 561.8C300.0 562.3 289.1 561.8 280.8 561.8C272.5 561.8 264.1 561.6 255.8 561.6C247.5 561.6 239.1 561.8 230.8 561.8C222.5 561.8 211.6 562.3 205.8 561.8C200.0 561.3 198.3 560.6 195.8 558.8C193.3 557.0 192.2 554.5 190.8 551.2C189.4 547.9 188.4 542.9 187.4 539.2C186.4 535.5 185.7 532.5 184.8 529.2C183.9 525.9 182.8 522.2 181.8 519.2C180.8 516.2 179.6 515.0 178.8 511.2C178.0 507.4 177.4 501.4 177.0 496.2C176.6 491.0 176.5 486.2 176.6 480.2C176.7 474.2 177.1 466.9 177.5 460.2C177.9 453.4 178.2 446.7 179.3 439.7C180.4 432.7 181.3 424.9 183.8 418.2C186.3 411.5 189.8 405.7 194.3 399.7C198.8 393.7 204.5 387.2 211.0 382.2C217.5 377.2 225.9 372.5 233.4 369.8C240.9 367.1 248.3 366.2 255.8 366.2Z" fill="none" stroke="url(#rim2)" stroke-width="7" filter="url(#b3)"/></g>
<g clip-path="url(#hd3)"><rect x="167.4" y="629.4" width="180" height="210" fill="url(#shade3)"/><path d="M257.4 633.4C265.4 633.4 273.3 634.0 281.3 636.3C289.2 638.7 298.4 642.8 305.2 647.5C312.0 652.2 317.7 658.7 322.1 664.6C326.5 670.5 329.4 676.4 331.5 683.1C333.7 689.9 334.3 698.1 335.0 705.1C335.8 712.0 335.8 718.5 336.0 725.0C336.2 731.6 336.4 738.7 336.4 744.5C336.4 750.4 336.2 755.1 335.8 760.1C335.4 765.2 334.8 771.0 334.0 774.8C333.2 778.5 332.0 779.6 331.0 782.6C330.0 785.5 329.0 789.1 328.0 792.3C327.1 795.6 326.5 798.5 325.5 802.1C324.5 805.6 323.5 810.6 322.1 813.8C320.7 817.0 319.6 819.5 317.1 821.2C314.6 822.9 313.0 823.6 307.1 824.1C301.3 824.6 290.6 824.1 282.3 824.1C274.0 824.1 265.7 823.9 257.4 823.9C249.1 823.9 240.8 824.1 232.5 824.1C224.2 824.1 213.5 824.6 207.6 824.1C201.8 823.6 200.2 822.9 197.7 821.2C195.2 819.5 194.1 817.0 192.7 813.8C191.3 810.6 190.3 805.6 189.3 802.1C188.3 798.5 187.7 795.6 186.8 792.3C185.8 789.1 184.8 785.5 183.8 782.6C182.8 779.6 181.6 778.5 180.8 774.8C180.0 771.0 179.4 765.2 179.0 760.1C178.6 755.1 178.4 750.4 178.4 744.5C178.4 738.7 178.6 731.6 178.8 725.0C179.0 718.5 179.0 712.0 179.8 705.1C180.5 698.1 181.1 689.9 183.3 683.1C185.4 676.4 188.3 670.5 192.7 664.6C197.1 658.7 202.8 652.2 209.6 647.5C216.4 642.8 225.6 638.7 233.5 636.3C241.5 634.0 249.4 633.4 257.4 633.4Z" fill="none" stroke="#3a2608" stroke-opacity="0.8" stroke-width="4.5" filter="url(#b2)"/></g>
<circle cx="255.4" cy="632.5" r="2.2" fill="#f0a0a0" opacity="0.4" filter="url(#b1)"/>
<circle cx="197.0" cy="659.0" r="2.2" fill="#f0a0a0" opacity="0.4" filter="url(#b1)"/>
<circle cx="318.4" cy="657.7" r="2.2" fill="#f0a0a0" opacity="0.4" filter="url(#b1)"/>
<circle cx="176.8" cy="721.3" r="2.2" fill="#f0a0a0" opacity="0.4" filter="url(#b1)"/>
<circle cx="336.4" cy="721.3" r="2.2" fill="#f0a0a0" opacity="0.4" filter="url(#b1)"/>
<circle cx="181.2" cy="784.8" r="2.2" fill="#f0a0a0" opacity="0.4" filter="url(#b1)"/>
<circle cx="333.0" cy="784.8" r="2.2" fill="#f0a0a0" opacity="0.4" filter="url(#b1)"/>
<circle cx="257.5" cy="667.0" r="4.6" fill="#e59a94" filter="url(#b1)"/><circle cx="257.5" cy="667.0" r="2.6" fill="#ff0a1e" filter="url(#b1)"/>
<circle cx="213.0" cy="682.0" r="4.6" fill="#e59a94" filter="url(#b1)"/><circle cx="213.0" cy="682.0" r="2.6" fill="#ff0a1e" filter="url(#b1)"/>
<circle cx="302.3" cy="682.0" r="4.6" fill="#e59a94" filter="url(#b1)"/><circle cx="302.3" cy="682.0" r="2.6" fill="#ff0a1e" filter="url(#b1)"/>
<circle cx="190.5" cy="730.5" r="4.6" fill="#e59a94" filter="url(#b1)"/><circle cx="190.5" cy="730.5" r="2.6" fill="#ff0a1e" filter="url(#b1)"/>
<circle cx="232.0" cy="732.6" r="4.6" fill="#e59a94" filter="url(#b1)"/><circle cx="232.0" cy="732.6" r="2.6" fill="#ff0a1e" filter="url(#b1)"/>
<circle cx="257.5" cy="733.2" r="4.6" fill="#e59a94" filter="url(#b1)"/><circle cx="257.5" cy="733.2" r="2.6" fill="#ff0a1e" filter="url(#b1)"/>
<circle cx="281.9" cy="732.6" r="4.6" fill="#e59a94" filter="url(#b1)"/><circle cx="281.9" cy="732.6" r="2.6" fill="#ff0a1e" filter="url(#b1)"/>
<circle cx="324.2" cy="730.5" r="4.6" fill="#e59a94" filter="url(#b1)"/><circle cx="324.2" cy="730.5" r="2.6" fill="#ff0a1e" filter="url(#b1)"/>
<circle cx="192.3" cy="766.3" r="4.6" fill="#e59a94" filter="url(#b1)"/><circle cx="192.3" cy="766.3" r="2.6" fill="#ff0a1e" filter="url(#b1)"/>
<circle cx="321.6" cy="766.3" r="4.6" fill="#e59a94" filter="url(#b1)"/><circle cx="321.6" cy="766.3" r="2.6" fill="#ff0a1e" filter="url(#b1)"/>
<ellipse cx="259.3" cy="733.2" rx="79.5" ry="23.8" fill="none" stroke="#0a0a0a" stroke-width="3.1" stroke-dasharray="3 2.75"/>
<rect x="100.7" y="306.6" width="80.5" height="11.5" fill="#554"/>
<rect x="101.35" y="307.3" width="2.63" height="10.1" fill="#1a3ce8"/>
<rect x="104.68" y="307.3" width="2.63" height="10.1" fill="#2a4cec"/>
<rect x="108.01" y="307.3" width="2.63" height="10.1" fill="#3c5cee"/>
<rect x="111.34" y="307.3" width="2.63" height="10.1" fill="#5070ee"/>
<rect x="114.67" y="307.3" width="2.63" height="10.1" fill="#6484ee"/>
<rect x="118.00" y="307.3" width="2.63" height="10.1" fill="#7c98ea"/>
<rect x="121.32" y="307.3" width="2.63" height="10.1" fill="#98a8e0"/>
<rect x="124.65" y="307.3" width="2.63" height="10.1" fill="#b0b4d0"/>
<rect x="127.98" y="307.3" width="2.63" height="10.1" fill="#c4bcb8"/>
<rect x="131.31" y="307.3" width="2.63" height="10.1" fill="#d8c8a0"/>
<rect x="134.64" y="307.3" width="2.63" height="10.1" fill="#ecd890"/>
<rect x="137.97" y="307.3" width="2.63" height="10.1" fill="#f8e488"/>
<rect x="141.30" y="307.3" width="2.63" height="10.1" fill="#fcdc78"/>
<rect x="144.63" y="307.3" width="2.63" height="10.1" fill="#fcc058"/>
<rect x="147.96" y="307.3" width="2.63" height="10.1" fill="#fcb048"/>
<rect x="151.29" y="307.3" width="2.63" height="10.1" fill="#fca038"/>
<rect x="154.62" y="307.3" width="2.63" height="10.1" fill="#fc8c28"/>
<rect x="157.95" y="307.3" width="2.63" height="10.1" fill="#f87418"/>
<rect x="161.28" y="307.3" width="2.63" height="10.1" fill="#f45c10"/>
<rect x="164.60" y="307.3" width="2.63" height="10.1" fill="#f04010"/>
<rect x="167.93" y="307.3" width="2.63" height="10.1" fill="#ec2410"/>
<rect x="171.26" y="307.3" width="2.63" height="10.1" fill="#dc1414"/>
<rect x="174.59" y="307.3" width="2.63" height="10.1" fill="#c41018"/>
<rect x="177.92" y="307.3" width="2.63" height="10.1" fill="#a80c20"/>
<g clip-path="url(#hc0)"><g filter="url(#jet)"><rect x="415.5" y="28.9" width="354.0" height="5.6" fill="url(#h0_0)"/><rect x="415.5" y="33.9" width="354.0" height="5.6" fill="url(#h0_1)"/><rect x="415.5" y="38.9" width="354.0" height="5.6" fill="url(#h0_2)"/><rect x="415.5" y="43.9" width="354.0" height="5.6" fill="url(#h0_3)"/><rect x="415.5" y="48.9" width="354.0" height="5.6" fill="url(#h0_4)"/><rect x="415.5" y="53.9" width="354.0" height="5.6" fill="url(#h0_5)"/><rect x="415.5" y="58.9" width="354.0" height="5.6" fill="url(#h0_6)"/><rect x="415.5" y="63.9" width="354.0" height="5.6" fill="url(#h0_7)"/><rect x="415.5" y="68.9" width="354.0" height="5.6" fill="url(#h0_8)"/><rect x="415.5" y="73.9" width="354.0" height="5.6" fill="url(#h0_9)"/><rect x="415.5" y="78.9" width="354.0" height="5.6" fill="url(#h0_10)"/><rect x="415.5" y="83.9" width="354.0" height="5.6" fill="url(#h0_11)"/><rect x="415.5" y="88.9" width="354.0" height="5.6" fill="url(#h0_12)"/><rect x="415.5" y="93.9" width="354.0" height="5.6" fill="url(#h0_13)"/><rect x="415.5" y="98.9" width="354.0" height="5.6" fill="url(#h0_14)"/><rect x="415.5" y="103.9" width="354.0" height="5.6" fill="url(#h0_15)"/><rect x="415.5" y="108.9" width="354.0" height="5.6" fill="url(#h0_16)"/><rect x="415.5" y="113.9" width="354.0" height="5.6" fill="url(#h0_17)"/><rect x="415.5" y="118.9" width="354.0" height="5.6" fill="url(#h0_18)"/><rect x="415.5" y="123.9" width="354.0" height="5.6" fill="url(#h0_19)"/><rect x="415.5" y="128.9" width="354.0" height="5.6" fill="url(#h0_20)"/><rect x="415.5" y="133.9" width="354.0" height="5.6" fill="url(#h0_21)"/><rect x="415.5" y="138.9" width="354.0" height="5.6" fill="url(#h0_22)"/><rect x="415.5" y="143.9" width="354.0" height="5.6" fill="url(#h0_23)"/><rect x="415.5" y="148.9" width="354.0" height="5.6" fill="url(#h0_24)"/><rect x="415.5" y="153.9" width="354.0" height="5.6" fill="url(#h0_25)"/><rect x="415.5" y="158.9" width="354.0" height="5.6" fill="url(#h0_26)"/><rect x="415.5" y="163.9" width="354.0" height="5.6" fill="url(#h0_27)"/><rect x="415.5" y="168.9" width="354.0" height="5.6" fill="url(#h0_28)"/><rect x="415.5" y="173.9" width="354.0" height="5.6" fill="url(#h0_29)"/><rect x="415.5" y="178.9" width="354.0" height="5.6" fill="url(#h0_30)"/><rect x="415.5" y="183.9" width="354.0" height="5.6" fill="url(#h0_31)"/><rect x="415.5" y="188.9" width="354.0" height="5.6" fill="url(#h0_32)"/><rect x="415.5" y="193.9" width="354.0" height="5.6" fill="url(#h0_33)"/><rect x="415.5" y="198.9" width="354.0" height="5.6" fill="url(#h0_34)"/><rect x="415.5" y="203.9" width="354.0" height="5.6" fill="url(#h0_35)"/><rect x="415.5" y="208.9" width="354.0" height="5.6" fill="url(#h0_36)"/><rect x="415.5" y="213.9" width="354.0" height="5.6" fill="url(#h0_37)"/><rect x="415.5" y="218.9" width="354.0" height="5.6" fill="url(#h0_38)"/><rect x="415.5" y="223.9" width="354.0" height="5.6" fill="url(#h0_39)"/><rect x="415.5" y="228.9" width="354.0" height="5.6" fill="url(#h0_40)"/><rect x="415.5" y="233.9" width="354.0" height="5.6" fill="url(#h0_41)"/><rect x="415.5" y="238.9" width="354.0" height="5.6" fill="url(#h0_42)"/><rect x="415.5" y="243.9" width="354.0" height="5.6" fill="url(#h0_43)"/><rect x="415.5" y="248.9" width="354.0" height="5.6" fill="url(#h0_44)"/><rect x="415.5" y="253.9" width="354.0" height="5.6" fill="url(#h0_45)"/><rect x="415.5" y="258.9" width="354.0" height="5.6" fill="url(#h0_46)"/><rect x="415.5" y="263.9" width="354.0" height="5.6" fill="url(#h0_47)"/><rect x="415.5" y="268.9" width="354.0" height="5.6" fill="url(#h0_48)"/><rect x="415.5" y="273.9" width="354.0" height="5.6" fill="url(#h0_49)"/></g></g>
<line x1="415.9" y1="38.9" x2="418.5" y2="38.9" stroke="#8a8a9a" stroke-width="0.9"/>
<text x="412.0" y="43.7" font-size="13.4" text-anchor="end" font-weight="normal" letter-spacing="0.4">80</text>
<line x1="415.9" y1="46.7" x2="418.5" y2="46.7" stroke="#8a8a9a" stroke-width="0.9"/>
<line x1="415.9" y1="55.1" x2="418.5" y2="55.1" stroke="#8a8a9a" stroke-width="0.9"/>
<line x1="415.9" y1="65.2" x2="418.5" y2="65.2" stroke="#8a8a9a" stroke-width="0.9"/>
<text x="412.0" y="70.0" font-size="13.4" text-anchor="end" font-weight="normal" letter-spacing="0.4">50</text>
<line x1="415.9" y1="78.9" x2="418.5" y2="78.9" stroke="#8a8a9a" stroke-width="0.9"/>
<line x1="415.9" y1="96.0" x2="418.5" y2="96.0" stroke="#8a8a9a" stroke-width="0.9"/>
<text x="412.0" y="100.8" font-size="13.4" text-anchor="end" font-weight="normal" letter-spacing="0.4">30</text>
<line x1="415.9" y1="122.7" x2="418.5" y2="122.7" stroke="#8a8a9a" stroke-width="0.9"/>
<text x="412.0" y="127.5" font-size="13.4" text-anchor="end" font-weight="normal" letter-spacing="0.4">20</text>
<line x1="415.9" y1="180.3" x2="418.5" y2="180.3" stroke="#8a8a9a" stroke-width="0.9"/>
<text x="412.0" y="185.1" font-size="13.4" text-anchor="end" font-weight="normal" letter-spacing="0.4">10</text>
<line x1="415.9" y1="185.6" x2="418.5" y2="185.6" stroke="#8a8a9a" stroke-width="0.9"/>
<line x1="415.9" y1="192.2" x2="418.5" y2="192.2" stroke="#8a8a9a" stroke-width="0.9"/>
<line x1="415.9" y1="199.7" x2="418.5" y2="199.7" stroke="#8a8a9a" stroke-width="0.9"/>
<line x1="415.9" y1="207.6" x2="418.5" y2="207.6" stroke="#8a8a9a" stroke-width="0.9"/>
<line x1="415.9" y1="216.4" x2="418.5" y2="216.4" stroke="#8a8a9a" stroke-width="0.9"/>
<line x1="415.9" y1="228.0" x2="418.5" y2="228.0" stroke="#8a8a9a" stroke-width="0.9"/>
<line x1="415.9" y1="243.3" x2="418.5" y2="243.3" stroke="#8a8a9a" stroke-width="0.9"/>
<line x1="415.9" y1="264.3" x2="418.5" y2="264.3" stroke="#8a8a9a" stroke-width="0.9"/>
<line x1="438.0" y1="264.3" x2="438.0" y2="266.7" stroke="#9a9aa8" stroke-width="0.9"/>
<text x="438.0" y="280.6" font-size="13.4" text-anchor="middle" font-weight="normal" letter-spacing="0.5">0.1</text>
<line x1="471.3" y1="264.3" x2="471.3" y2="265.9" stroke="#9a9aa8" stroke-width="0.9"/>
<line x1="504.6" y1="264.3" x2="504.6" y2="266.7" stroke="#9a9aa8" stroke-width="0.9"/>
<text x="504.6" y="280.6" font-size="13.4" text-anchor="middle" font-weight="normal" letter-spacing="0.5">0.2</text>
<line x1="537.9" y1="264.3" x2="537.9" y2="265.9" stroke="#9a9aa8" stroke-width="0.9"/>
<line x1="571.2" y1="264.3" x2="571.2" y2="266.7" stroke="#9a9aa8" stroke-width="0.9"/>
<text x="571.2" y="280.6" font-size="13.4" text-anchor="middle" font-weight="normal" letter-spacing="0.5">0.3</text>
<line x1="604.5" y1="264.3" x2="604.5" y2="265.9" stroke="#9a9aa8" stroke-width="0.9"/>
<line x1="637.8" y1="264.3" x2="637.8" y2="266.7" stroke="#9a9aa8" stroke-width="0.9"/>
<text x="637.8" y="280.6" font-size="13.4" text-anchor="middle" font-weight="normal" letter-spacing="0.5">0.4</text>
<line x1="671.1" y1="264.3" x2="671.1" y2="265.9" stroke="#9a9aa8" stroke-width="0.9"/>
<line x1="704.4" y1="264.3" x2="704.4" y2="266.7" stroke="#9a9aa8" stroke-width="0.9"/>
<text x="704.4" y="280.6" font-size="13.4" text-anchor="middle" font-weight="normal" letter-spacing="0.5">0.5</text>
<line x1="737.7" y1="264.3" x2="737.7" y2="265.9" stroke="#9a9aa8" stroke-width="0.9"/>
<text x="608.0" y="306.5" font-size="19.5" text-anchor="middle" font-weight="normal" >sec</text>
<text transform="translate(387.6,144.9) rotate(-90)" font-size="19" text-anchor="middle">frequency</text>
<rect x="775.4" y="38.9" width="7.1" height="226.0" fill="url(#cb)"/>
<text x="785.2" y="41.9" font-size="15" text-anchor="start" font-weight="normal" >6</text>
<text x="785.2" y="113.5" font-size="15" text-anchor="start" font-weight="normal" >4</text>
<text x="785.2" y="189.8" font-size="15" text-anchor="start" font-weight="normal" >2</text>
<text x="785.2" y="267.0" font-size="15" text-anchor="start" font-weight="normal" >0</text>
<line x1="775.4" y1="228.4" x2="776.7" y2="228.4" stroke="#333" stroke-width="0.6" opacity="0.6"/>
<line x1="781.2" y1="228.4" x2="782.5" y2="228.4" stroke="#333" stroke-width="0.6" opacity="0.6"/>
<line x1="775.4" y1="191.2" x2="776.7" y2="191.2" stroke="#333" stroke-width="0.6" opacity="0.6"/>
<line x1="781.2" y1="191.2" x2="782.5" y2="191.2" stroke="#333" stroke-width="0.6" opacity="0.6"/>
<line x1="775.4" y1="153.9" x2="776.7" y2="153.9" stroke="#333" stroke-width="0.6" opacity="0.6"/>
<line x1="781.2" y1="153.9" x2="782.5" y2="153.9" stroke="#333" stroke-width="0.6" opacity="0.6"/>
<line x1="775.4" y1="116.7" x2="776.7" y2="116.7" stroke="#333" stroke-width="0.6" opacity="0.6"/>
<line x1="781.2" y1="116.7" x2="782.5" y2="116.7" stroke="#333" stroke-width="0.6" opacity="0.6"/>
<line x1="775.4" y1="79.4" x2="776.7" y2="79.4" stroke="#333" stroke-width="0.6" opacity="0.6"/>
<line x1="781.2" y1="79.4" x2="782.5" y2="79.4" stroke="#333" stroke-width="0.6" opacity="0.6"/>
<text transform="translate(803.2,140.5) rotate(90)" font-size="19.3" text-anchor="middle">power</text>
<g clip-path="url(#hc1)"><g filter="url(#jet)"><rect x="415.5" y="324.5" width="354.0" height="5.6" fill="url(#h1_0)"/><rect x="415.5" y="329.5" width="354.0" height="5.6" fill="url(#h1_1)"/><rect x="415.5" y="334.5" width="354.0" height="5.6" fill="url(#h1_2)"/><rect x="415.5" y="339.5" width="354.0" height="5.6" fill="url(#h1_3)"/><rect x="415.5" y="344.5" width="354.0" height="5.6" fill="url(#h1_4)"/><rect x="415.5" y="349.5" width="354.0" height="5.6" fill="url(#h1_5)"/><rect x="415.5" y="354.5" width="354.0" height="5.6" fill="url(#h1_6)"/><rect x="415.5" y="359.5" width="354.0" height="5.6" fill="url(#h1_7)"/><rect x="415.5" y="364.5" width="354.0" height="5.6" fill="url(#h1_8)"/><rect x="415.5" y="369.5" width="354.0" height="5.6" fill="url(#h1_9)"/><rect x="415.5" y="374.5" width="354.0" height="5.6" fill="url(#h1_10)"/><rect x="415.5" y="379.5" width="354.0" height="5.6" fill="url(#h1_11)"/><rect x="415.5" y="384.5" width="354.0" height="5.6" fill="url(#h1_12)"/><rect x="415.5" y="389.5" width="354.0" height="5.6" fill="url(#h1_13)"/><rect x="415.5" y="394.5" width="354.0" height="5.6" fill="url(#h1_14)"/><rect x="415.5" y="399.5" width="354.0" height="5.6" fill="url(#h1_15)"/><rect x="415.5" y="404.5" width="354.0" height="5.6" fill="url(#h1_16)"/><rect x="415.5" y="409.5" width="354.0" height="5.6" fill="url(#h1_17)"/><rect x="415.5" y="414.5" width="354.0" height="5.6" fill="url(#h1_18)"/><rect x="415.5" y="419.5" width="354.0" height="5.6" fill="url(#h1_19)"/><rect x="415.5" y="424.5" width="354.0" height="5.6" fill="url(#h1_20)"/><rect x="415.5" y="429.5" width="354.0" height="5.6" fill="url(#h1_21)"/><rect x="415.5" y="434.5" width="354.0" height="5.6" fill="url(#h1_22)"/><rect x="415.5" y="439.5" width="354.0" height="5.6" fill="url(#h1_23)"/><rect x="415.5" y="444.5" width="354.0" height="5.6" fill="url(#h1_24)"/><rect x="415.5" y="449.5" width="354.0" height="5.6" fill="url(#h1_25)"/><rect x="415.5" y="454.5" width="354.0" height="5.6" fill="url(#h1_26)"/><rect x="415.5" y="459.5" width="354.0" height="5.6" fill="url(#h1_27)"/><rect x="415.5" y="464.5" width="354.0" height="5.6" fill="url(#h1_28)"/><rect x="415.5" y="469.5" width="354.0" height="5.6" fill="url(#h1_29)"/><rect x="415.5" y="474.5" width="354.0" height="5.6" fill="url(#h1_30)"/><rect x="415.5" y="479.5" width="354.0" height="5.6" fill="url(#h1_31)"/><rect x="415.5" y="484.5" width="354.0" height="5.6" fill="url(#h1_32)"/><rect x="415.5" y="489.5" width="354.0" height="5.6" fill="url(#h1_33)"/><rect x="415.5" y="494.5" width="354.0" height="5.6" fill="url(#h1_34)"/><rect x="415.5" y="499.5" width="354.0" height="5.6" fill="url(#h1_35)"/><rect x="415.5" y="504.5" width="354.0" height="5.6" fill="url(#h1_36)"/><rect x="415.5" y="509.5" width="354.0" height="5.6" fill="url(#h1_37)"/><rect x="415.5" y="514.5" width="354.0" height="5.6" fill="url(#h1_38)"/><rect x="415.5" y="519.5" width="354.0" height="5.6" fill="url(#h1_39)"/><rect x="415.5" y="524.5" width="354.0" height="5.6" fill="url(#h1_40)"/><rect x="415.5" y="529.5" width="354.0" height="5.6" fill="url(#h1_41)"/><rect x="415.5" y="534.5" width="354.0" height="5.6" fill="url(#h1_42)"/><rect x="415.5" y="539.5" width="354.0" height="5.6" fill="url(#h1_43)"/><rect x="415.5" y="544.5" width="354.0" height="5.6" fill="url(#h1_44)"/><rect x="415.5" y="549.5" width="354.0" height="5.6" fill="url(#h1_45)"/><rect x="415.5" y="554.5" width="354.0" height="5.6" fill="url(#h1_46)"/><rect x="415.5" y="559.5" width="354.0" height="5.6" fill="url(#h1_47)"/><rect x="415.5" y="564.5" width="354.0" height="5.6" fill="url(#h1_48)"/><rect x="415.5" y="569.5" width="354.0" height="5.6" fill="url(#h1_49)"/></g></g>
<line x1="415.9" y1="334.5" x2="418.5" y2="334.5" stroke="#8a8a9a" stroke-width="0.9"/>
<text x="412.0" y="339.3" font-size="13.4" text-anchor="end" font-weight="normal" letter-spacing="0.4">80</text>
<line x1="415.9" y1="342.3" x2="418.5" y2="342.3" stroke="#8a8a9a" stroke-width="0.9"/>
<line x1="415.9" y1="350.7" x2="418.5" y2="350.7" stroke="#8a8a9a" stroke-width="0.9"/>
<line x1="415.9" y1="360.8" x2="418.5" y2="360.8" stroke="#8a8a9a" stroke-width="0.9"/>
<text x="412.0" y="365.6" font-size="13.4" text-anchor="end" font-weight="normal" letter-spacing="0.4">50</text>
<line x1="415.9" y1="374.5" x2="418.5" y2="374.5" stroke="#8a8a9a" stroke-width="0.9"/>
<line x1="415.9" y1="391.6" x2="418.5" y2="391.6" stroke="#8a8a9a" stroke-width="0.9"/>
<text x="412.0" y="396.4" font-size="13.4" text-anchor="end" font-weight="normal" letter-spacing="0.4">30</text>
<line x1="415.9" y1="418.3" x2="418.5" y2="418.3" stroke="#8a8a9a" stroke-width="0.9"/>
<text x="412.0" y="423.1" font-size="13.4" text-anchor="end" font-weight="normal" letter-spacing="0.4">20</text>
<line x1="415.9" y1="475.9" x2="418.5" y2="475.9" stroke="#8a8a9a" stroke-width="0.9"/>
<text x="412.0" y="480.7" font-size="13.4" text-anchor="end" font-weight="normal" letter-spacing="0.4">10</text>
<line x1="415.9" y1="481.2" x2="418.5" y2="481.2" stroke="#8a8a9a" stroke-width="0.9"/>
<line x1="415.9" y1="487.8" x2="418.5" y2="487.8" stroke="#8a8a9a" stroke-width="0.9"/>
<line x1="415.9" y1="495.3" x2="418.5" y2="495.3" stroke="#8a8a9a" stroke-width="0.9"/>
<line x1="415.9" y1="503.2" x2="418.5" y2="503.2" stroke="#8a8a9a" stroke-width="0.9"/>
<line x1="415.9" y1="512.0" x2="418.5" y2="512.0" stroke="#8a8a9a" stroke-width="0.9"/>
<line x1="415.9" y1="523.6" x2="418.5" y2="523.6" stroke="#8a8a9a" stroke-width="0.9"/>
<line x1="415.9" y1="538.9" x2="418.5" y2="538.9" stroke="#8a8a9a" stroke-width="0.9"/>
<line x1="415.9" y1="559.9" x2="418.5" y2="559.9" stroke="#8a8a9a" stroke-width="0.9"/>
<line x1="438.0" y1="559.9" x2="438.0" y2="562.3" stroke="#9a9aa8" stroke-width="0.9"/>
<text x="438.0" y="579.3" font-size="13.4" text-anchor="middle" font-weight="normal" letter-spacing="0.5">0.1</text>
<line x1="471.3" y1="559.9" x2="471.3" y2="561.5" stroke="#9a9aa8" stroke-width="0.9"/>
<line x1="504.6" y1="559.9" x2="504.6" y2="562.3" stroke="#9a9aa8" stroke-width="0.9"/>
<text x="504.6" y="579.3" font-size="13.4" text-anchor="middle" font-weight="normal" letter-spacing="0.5">0.2</text>
<line x1="537.9" y1="559.9" x2="537.9" y2="561.5" stroke="#9a9aa8" stroke-width="0.9"/>
<line x1="571.2" y1="559.9" x2="571.2" y2="562.3" stroke="#9a9aa8" stroke-width="0.9"/>
<text x="571.2" y="579.3" font-size="13.4" text-anchor="middle" font-weight="normal" letter-spacing="0.5">0.3</text>
<line x1="604.5" y1="559.9" x2="604.5" y2="561.5" stroke="#9a9aa8" stroke-width="0.9"/>
<line x1="637.8" y1="559.9" x2="637.8" y2="562.3" stroke="#9a9aa8" stroke-width="0.9"/>
<text x="637.8" y="579.3" font-size="13.4" text-anchor="middle" font-weight="normal" letter-spacing="0.5">0.4</text>
<line x1="671.1" y1="559.9" x2="671.1" y2="561.5" stroke="#9a9aa8" stroke-width="0.9"/>
<line x1="704.4" y1="559.9" x2="704.4" y2="562.3" stroke="#9a9aa8" stroke-width="0.9"/>
<text x="704.4" y="579.3" font-size="13.4" text-anchor="middle" font-weight="normal" letter-spacing="0.5">0.5</text>
<line x1="737.7" y1="559.9" x2="737.7" y2="561.5" stroke="#9a9aa8" stroke-width="0.9"/>
<text x="608.0" y="602.5" font-size="19.5" text-anchor="middle" font-weight="normal" >sec</text>
<text transform="translate(387.6,440.5) rotate(-90)" font-size="19" text-anchor="middle">frequency</text>
<rect x="775.4" y="334.5" width="7.1" height="226.0" fill="url(#cb)"/>
<text x="785.2" y="342.5" font-size="15" text-anchor="start" font-weight="normal" >6</text>
<text x="785.2" y="414.1" font-size="15" text-anchor="start" font-weight="normal" >4</text>
<text x="785.2" y="490.4" font-size="15" text-anchor="start" font-weight="normal" >2</text>
<text x="785.2" y="567.6" font-size="15" text-anchor="start" font-weight="normal" >0</text>
<line x1="775.4" y1="522.9" x2="776.7" y2="522.9" stroke="#333" stroke-width="0.6" opacity="0.6"/>
<line x1="781.2" y1="522.9" x2="782.5" y2="522.9" stroke="#333" stroke-width="0.6" opacity="0.6"/>
<line x1="775.4" y1="485.7" x2="776.7" y2="485.7" stroke="#333" stroke-width="0.6" opacity="0.6"/>
<line x1="781.2" y1="485.7" x2="782.5" y2="485.7" stroke="#333" stroke-width="0.6" opacity="0.6"/>
<line x1="775.4" y1="448.4" x2="776.7" y2="448.4" stroke="#333" stroke-width="0.6" opacity="0.6"/>
<line x1="781.2" y1="448.4" x2="782.5" y2="448.4" stroke="#333" stroke-width="0.6" opacity="0.6"/>
<line x1="775.4" y1="411.2" x2="776.7" y2="411.2" stroke="#333" stroke-width="0.6" opacity="0.6"/>
<line x1="781.2" y1="411.2" x2="782.5" y2="411.2" stroke="#333" stroke-width="0.6" opacity="0.6"/>
<line x1="775.4" y1="373.9" x2="776.7" y2="373.9" stroke="#333" stroke-width="0.6" opacity="0.6"/>
<line x1="781.2" y1="373.9" x2="782.5" y2="373.9" stroke="#333" stroke-width="0.6" opacity="0.6"/>
<text transform="translate(803.2,444.8) rotate(90)" font-size="19.3" text-anchor="middle">power</text>
<g clip-path="url(#hc2)"><g filter="url(#jet)"><rect x="413.0" y="638.0" width="66.0" height="5.6" fill="url(#h2_0)"/><rect x="413.0" y="643.0" width="66.0" height="5.6" fill="url(#h2_1)"/><rect x="413.0" y="648.0" width="66.0" height="5.6" fill="url(#h2_2)"/><rect x="413.0" y="653.0" width="66.0" height="5.6" fill="url(#h2_3)"/><rect x="413.0" y="658.0" width="66.0" height="5.6" fill="url(#h2_4)"/><rect x="413.0" y="663.0" width="66.0" height="5.6" fill="url(#h2_5)"/><rect x="413.0" y="668.0" width="66.0" height="5.6" fill="url(#h2_6)"/><rect x="413.0" y="673.0" width="66.0" height="5.6" fill="url(#h2_7)"/><rect x="413.0" y="678.0" width="66.0" height="5.6" fill="url(#h2_8)"/><rect x="413.0" y="683.0" width="66.0" height="5.6" fill="url(#h2_9)"/><rect x="413.0" y="688.0" width="66.0" height="5.6" fill="url(#h2_10)"/><rect x="413.0" y="693.0" width="66.0" height="5.6" fill="url(#h2_11)"/><rect x="413.0" y="698.0" width="66.0" height="5.6" fill="url(#h2_12)"/><rect x="413.0" y="703.0" width="66.0" height="5.6" fill="url(#h2_13)"/><rect x="413.0" y="708.0" width="66.0" height="5.6" fill="url(#h2_14)"/><rect x="413.0" y="713.0" width="66.0" height="5.6" fill="url(#h2_15)"/><rect x="413.0" y="718.0" width="66.0" height="5.6" fill="url(#h2_16)"/><rect x="413.0" y="723.0" width="66.0" height="5.6" fill="url(#h2_17)"/><rect x="413.0" y="728.0" width="66.0" height="5.6" fill="url(#h2_18)"/><rect x="413.0" y="733.0" width="66.0" height="5.6" fill="url(#h2_19)"/><rect x="413.0" y="738.0" width="66.0" height="5.6" fill="url(#h2_20)"/><rect x="413.0" y="743.0" width="66.0" height="5.6" fill="url(#h2_21)"/><rect x="413.0" y="748.0" width="66.0" height="5.6" fill="url(#h2_22)"/><rect x="413.0" y="753.0" width="66.0" height="5.6" fill="url(#h2_23)"/><rect x="413.0" y="758.0" width="66.0" height="5.6" fill="url(#h2_24)"/><rect x="413.0" y="763.0" width="66.0" height="5.6" fill="url(#h2_25)"/><rect x="413.0" y="768.0" width="66.0" height="5.6" fill="url(#h2_26)"/><rect x="413.0" y="773.0" width="66.0" height="5.6" fill="url(#h2_27)"/><rect x="413.0" y="778.0" width="66.0" height="5.6" fill="url(#h2_28)"/><rect x="413.0" y="783.0" width="66.0" height="5.6" fill="url(#h2_29)"/><rect x="413.0" y="788.0" width="66.0" height="5.6" fill="url(#h2_30)"/><rect x="413.0" y="793.0" width="66.0" height="5.6" fill="url(#h2_31)"/><rect x="413.0" y="798.0" width="66.0" height="5.6" fill="url(#h2_32)"/><rect x="413.0" y="803.0" width="66.0" height="5.6" fill="url(#h2_33)"/><rect x="413.0" y="808.0" width="66.0" height="5.6" fill="url(#h2_34)"/><rect x="413.0" y="813.0" width="66.0" height="5.6" fill="url(#h2_35)"/><rect x="413.0" y="818.0" width="66.0" height="5.6" fill="url(#h2_36)"/><rect x="413.0" y="823.0" width="66.0" height="5.6" fill="url(#h2_37)"/><rect x="413.0" y="828.0" width="66.0" height="5.6" fill="url(#h2_38)"/><rect x="413.0" y="833.0" width="66.0" height="5.6" fill="url(#h2_39)"/><rect x="413.0" y="838.0" width="66.0" height="5.6" fill="url(#h2_40)"/><rect x="413.0" y="843.0" width="66.0" height="5.6" fill="url(#h2_41)"/><rect x="413.0" y="848.0" width="66.0" height="5.6" fill="url(#h2_42)"/><rect x="413.0" y="853.0" width="66.0" height="5.6" fill="url(#h2_43)"/><rect x="413.0" y="858.0" width="66.0" height="5.6" fill="url(#h2_44)"/><rect x="413.0" y="863.0" width="66.0" height="5.6" fill="url(#h2_45)"/></g></g>
<line x1="419" y1="630.8" x2="419" y2="854.4" stroke="#111" stroke-width="1.8"/>
<line x1="418.1" y1="854.1" x2="771.1" y2="854.1" stroke="#444" stroke-width="1.1"/>
<line x1="415.3" y1="631.2" x2="419.0" y2="631.2" stroke="#222" stroke-width="0.9"/>
<text x="412.0" y="636.0" font-size="13.4" text-anchor="end" font-weight="normal" letter-spacing="0.4">80</text>
<line x1="415.3" y1="638.9" x2="419.0" y2="638.9" stroke="#222" stroke-width="0.9"/>
<line x1="415.3" y1="647.2" x2="419.0" y2="647.2" stroke="#222" stroke-width="0.9"/>
<line x1="415.3" y1="657.2" x2="419.0" y2="657.2" stroke="#222" stroke-width="0.9"/>
<text x="412.0" y="662.0" font-size="13.4" text-anchor="end" font-weight="normal" letter-spacing="0.4">50</text>
<line x1="415.3" y1="670.8" x2="419.0" y2="670.8" stroke="#222" stroke-width="0.9"/>
<line x1="415.3" y1="687.7" x2="419.0" y2="687.7" stroke="#222" stroke-width="0.9"/>
<text x="412.0" y="692.5" font-size="13.4" text-anchor="end" font-weight="normal" letter-spacing="0.4">30</text>
<line x1="415.3" y1="714.1" x2="419.0" y2="714.1" stroke="#222" stroke-width="0.9"/>
<text x="412.0" y="718.9" font-size="13.4" text-anchor="end" font-weight="normal" letter-spacing="0.4">20</text>
<line x1="415.3" y1="771.0" x2="419.0" y2="771.0" stroke="#222" stroke-width="0.9"/>
<text x="412.0" y="775.8" font-size="13.4" text-anchor="end" font-weight="normal" letter-spacing="0.4">10</text>
<line x1="415.3" y1="776.3" x2="419.0" y2="776.3" stroke="#222" stroke-width="0.9"/>
<line x1="415.3" y1="782.8" x2="419.0" y2="782.8" stroke="#222" stroke-width="0.9"/>
<line x1="415.3" y1="790.2" x2="419.0" y2="790.2" stroke="#222" stroke-width="0.9"/>
<line x1="415.3" y1="798.0" x2="419.0" y2="798.0" stroke="#222" stroke-width="0.9"/>
<line x1="415.3" y1="806.7" x2="419.0" y2="806.7" stroke="#222" stroke-width="0.9"/>
<line x1="415.3" y1="818.2" x2="419.0" y2="818.2" stroke="#222" stroke-width="0.9"/>
<line x1="415.3" y1="833.4" x2="419.0" y2="833.4" stroke="#222" stroke-width="0.9"/>
<line x1="415.3" y1="854.1" x2="419.0" y2="854.1" stroke="#222" stroke-width="0.9"/>
<line x1="439.0" y1="854.1" x2="439.0" y2="856.5" stroke="#555" stroke-width="0.9"/>
<text x="440.2" y="874.4" font-size="13.4" text-anchor="middle" font-weight="normal" letter-spacing="0.5">0.1</text>
<line x1="505.6" y1="854.1" x2="505.6" y2="856.5" stroke="#555" stroke-width="0.9"/>
<text x="506.8" y="874.4" font-size="13.4" text-anchor="middle" font-weight="normal" letter-spacing="0.5">0.2</text>
<line x1="572.2" y1="854.1" x2="572.2" y2="856.5" stroke="#555" stroke-width="0.9"/>
<text x="573.4" y="874.4" font-size="13.4" text-anchor="middle" font-weight="normal" letter-spacing="0.5">0.3</text>
<line x1="638.8" y1="854.1" x2="638.8" y2="856.5" stroke="#555" stroke-width="0.9"/>
<text x="640.0" y="874.4" font-size="13.4" text-anchor="middle" font-weight="normal" letter-spacing="0.5">0.4</text>
<line x1="705.4" y1="854.1" x2="705.4" y2="856.5" stroke="#555" stroke-width="0.9"/>
<text x="706.6" y="874.4" font-size="13.4" text-anchor="middle" font-weight="normal" letter-spacing="0.5">0.5</text>
<text x="608.0" y="895.5" font-size="19.5" text-anchor="middle" font-weight="normal" >sec</text>
<text transform="translate(387.6,738.5) rotate(-90)" font-size="19" text-anchor="middle">frequency</text>
<rect x="776.6" y="628.9" width="6.2" height="225.8" fill="url(#cb)"/>
<text x="787.3" y="668.7" font-size="15" text-anchor="start" font-weight="normal" >3</text>
<text x="787.3" y="730.9" font-size="15" text-anchor="start" font-weight="normal" >2</text>
<text x="787.3" y="794.9" font-size="15" text-anchor="start" font-weight="normal" >1</text>
<text x="787.3" y="857.8" font-size="15" text-anchor="start" font-weight="normal" >0</text>
<line x1="776.6" y1="822.3" x2="777.9" y2="822.3" stroke="#333" stroke-width="0.6" opacity="0.6"/>
<line x1="781.5" y1="822.3" x2="782.8" y2="822.3" stroke="#333" stroke-width="0.6" opacity="0.6"/>
<line x1="776.6" y1="790.0" x2="777.9" y2="790.0" stroke="#333" stroke-width="0.6" opacity="0.6"/>
<line x1="781.5" y1="790.0" x2="782.8" y2="790.0" stroke="#333" stroke-width="0.6" opacity="0.6"/>
<line x1="776.6" y1="757.7" x2="777.9" y2="757.7" stroke="#333" stroke-width="0.6" opacity="0.6"/>
<line x1="781.5" y1="757.7" x2="782.8" y2="757.7" stroke="#333" stroke-width="0.6" opacity="0.6"/>
<line x1="776.6" y1="725.4" x2="777.9" y2="725.4" stroke="#333" stroke-width="0.6" opacity="0.6"/>
<line x1="781.5" y1="725.4" x2="782.8" y2="725.4" stroke="#333" stroke-width="0.6" opacity="0.6"/>
<line x1="776.6" y1="693.1" x2="777.9" y2="693.1" stroke="#333" stroke-width="0.6" opacity="0.6"/>
<line x1="781.5" y1="693.1" x2="782.8" y2="693.1" stroke="#333" stroke-width="0.6" opacity="0.6"/>
<line x1="776.6" y1="660.8" x2="777.9" y2="660.8" stroke="#333" stroke-width="0.6" opacity="0.6"/>
<line x1="781.5" y1="660.8" x2="782.8" y2="660.8" stroke="#333" stroke-width="0.6" opacity="0.6"/>
<text transform="translate(802.2,737.0) rotate(90)" font-size="19.3" letter-spacing="0.75" text-anchor="middle">t value</text>
<text x="24.9" y="31.9" font-size="33" text-anchor="start" font-weight="bold" >A</text>
<text x="364.7" y="31.9" font-size="33" text-anchor="start" font-weight="bold" >B</text>
<text x="23.7" y="624.1" font-size="33" text-anchor="start" font-weight="bold" >C</text>
<text x="30.5" y="169.0" font-size="25.5" text-anchor="start" font-weight="bold" >Controls</text>
<text x="33.2" y="465.3" font-size="25.3" text-anchor="start" font-weight="bold" >Patients</text>
<text x="82.9" y="741.1" font-size="25.4" text-anchor="middle" font-weight="bold" >Comparison</text>
<text x="82.6" y="771.4" font-size="24.8" text-anchor="middle" font-weight="normal" >(t test)</text>
<text x="325.6" y="278.3" font-size="14" text-anchor="middle" font-weight="normal" >92.4 ms</text>
<text x="326.0" y="578.3" font-size="14" text-anchor="middle" font-weight="normal" >100.4 ms</text>
<text x="140.6" y="333.0" font-size="12.6" text-anchor="middle" font-weight="normal" >0.25 µV/step</text>
<text x="140.8" y="348.0" font-size="12.6" text-anchor="middle" font-weight="normal" >Reference free</text>
</svg>
</body></html>
